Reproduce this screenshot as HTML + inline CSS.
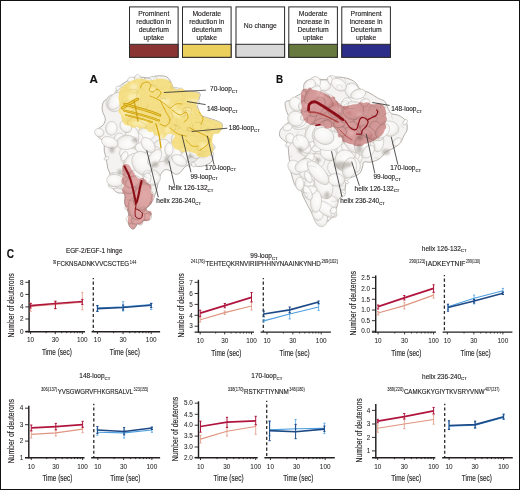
<!DOCTYPE html>
<html><head><meta charset="utf-8"><style>
html,body{margin:0;padding:0;background:#fff;}
svg{display:block;}
text{font-family:"Liberation Sans", sans-serif;stroke:#231f20;stroke-width:0.14px;}
text.tk{stroke-width:0.05px;}
text.sp{stroke-width:0.08px;}
</style></head><body>
<svg width="520" height="490" viewBox="0 0 520 490">
<rect x="0" y="0" width="520" height="490" fill="#fff"/>
<defs>
<filter id="b03" x="-20%" y="-20%" width="140%" height="140%"><feGaussianBlur stdDeviation="0.3"/></filter>
<filter id="b05" x="-20%" y="-20%" width="140%" height="140%"><feGaussianBlur stdDeviation="0.5"/></filter>
<filter id="b08" x="-20%" y="-20%" width="140%" height="140%"><feGaussianBlur stdDeviation="0.8"/></filter>
<filter id="b12" x="-50%" y="-50%" width="200%" height="200%"><feGaussianBlur stdDeviation="1.2"/></filter>
</defs>
<radialGradient id="sg" cx="0.42" cy="0.4" r="0.62">
<stop offset="0" stop-color="#fdfdfd"/><stop offset="0.7" stop-color="#f5f4f2"/><stop offset="1" stop-color="#e2dfdb"/>
</radialGradient>
<g filter="url(#b03)"><path d="M119.40,86.70 C120.95,84.65 123.18,83.43 125.90,81.80 C128.62,80.17 131.90,77.55 135.70,76.90 C139.50,76.25 145.17,78.07 148.70,77.90 C152.23,77.73 153.90,76.07 156.90,75.90 C159.90,75.73 164.25,75.65 166.70,76.90 C169.15,78.15 170.38,81.55 171.60,83.40 C172.82,85.25 171.93,86.82 174.00,88.00 C176.07,89.18 180.67,89.92 184.00,90.50 C187.33,91.08 191.33,91.00 194.00,91.50 C196.67,92.00 199.17,92.25 200.00,93.50 C200.83,94.75 199.50,97.08 199.00,99.00 C198.50,100.92 197.00,103.00 197.00,105.00 C197.00,107.00 198.88,109.43 199.00,111.00 C199.12,112.57 196.28,113.28 197.70,114.40 C199.12,115.52 204.23,116.60 207.50,117.70 C210.77,118.80 214.85,119.92 217.30,121.00 C219.75,122.08 221.67,122.58 222.20,124.20 C222.73,125.82 222.13,129.07 220.50,130.70 C218.87,132.33 214.02,132.08 212.40,134.00 C210.78,135.92 210.80,139.48 210.80,142.20 C210.80,144.92 212.15,147.27 212.40,150.30 C212.65,153.33 213.33,157.95 212.30,160.40 C211.27,162.85 208.50,163.98 206.20,165.00 C203.90,166.02 200.82,166.50 198.50,166.50 C196.18,166.50 194.38,165.08 192.30,165.00 C190.22,164.92 188.05,164.72 186.00,166.00 C183.95,167.28 181.77,171.33 180.00,172.70 C178.23,174.07 176.93,174.45 175.40,174.20 C173.87,173.95 172.33,171.97 170.80,171.20 C169.27,170.43 167.50,169.60 166.20,169.60 C164.90,169.60 164.03,170.17 163.00,171.20 C161.97,172.23 160.75,174.27 160.00,175.80 C159.25,177.33 158.92,178.70 158.50,180.40 C158.08,182.10 157.92,184.07 157.50,186.00 C157.08,187.93 156.73,189.80 156.00,192.00 C155.27,194.20 154.02,197.12 153.10,199.20 C152.18,201.28 151.60,202.95 150.50,204.50 C149.40,206.05 146.95,207.38 146.50,208.50 C146.05,209.62 147.03,210.32 147.80,211.20 C148.57,212.08 150.77,212.70 151.10,213.80 C151.43,214.90 150.78,216.68 149.80,217.80 C148.82,218.92 147.08,219.62 145.20,220.50 C143.32,221.38 140.28,221.78 138.50,223.10 C136.72,224.42 135.60,227.45 134.50,228.40 C133.40,229.35 132.78,229.23 131.90,228.80 C131.02,228.37 129.87,227.18 129.20,225.80 C128.53,224.42 128.00,222.50 127.90,220.50 C127.80,218.50 128.82,215.80 128.60,213.80 C128.38,211.80 127.27,210.27 126.60,208.50 C125.93,206.73 124.93,205.62 124.60,203.20 C124.27,200.78 125.82,195.77 124.60,194.00 C123.38,192.23 119.40,193.72 117.30,192.60 C115.20,191.48 113.33,189.30 112.00,187.30 C110.67,185.30 109.63,182.82 109.30,180.60 C108.97,178.38 110.27,176.10 110.00,174.00 C109.73,171.90 108.30,170.43 107.70,168.00 C107.10,165.57 106.97,162.20 106.40,159.40 C105.83,156.60 104.65,153.58 104.30,151.20 C103.95,148.82 104.47,146.80 104.30,145.10 C104.13,143.40 104.32,142.37 103.30,141.00 C102.28,139.63 99.38,138.25 98.20,136.90 C97.02,135.55 96.20,134.25 96.20,132.90 C96.20,131.55 97.02,130.17 98.20,128.80 C99.38,127.43 102.12,126.40 103.30,124.70 C104.48,123.00 105.47,120.98 105.30,118.60 C105.13,116.22 102.63,113.13 102.30,110.40 C101.97,107.67 102.28,104.23 103.30,102.20 C104.32,100.17 106.18,99.55 108.40,98.20 C110.62,96.85 114.77,96.02 116.60,94.10 C118.43,92.18 117.85,88.75 119.40,86.70Z" fill="#f4f3f1" stroke="#aaa6a0" stroke-width="0.9"/><ellipse cx="174.7" cy="96.8" rx="9.7" ry="9.5" transform="rotate(150 174.7 96.8)" fill="url(#sg)" stroke="#c0bcb6" stroke-width="0.55"/><ellipse cx="145.1" cy="161.3" rx="6.7" ry="3.9" transform="rotate(64 145.1 161.3)" fill="url(#sg)" stroke="#c0bcb6" stroke-width="0.55"/><ellipse cx="118.3" cy="95.5" rx="5.5" ry="3.4" transform="rotate(68 118.3 95.5)" fill="url(#sg)" stroke="#c0bcb6" stroke-width="0.55"/><ellipse cx="127.8" cy="178.1" rx="5.4" ry="3.3" transform="rotate(44 127.8 178.1)" fill="url(#sg)" stroke="#c0bcb6" stroke-width="0.55"/><ellipse cx="179.8" cy="108.7" rx="5.5" ry="5.8" transform="rotate(36 179.8 108.7)" fill="url(#sg)" stroke="#c0bcb6" stroke-width="0.55"/><ellipse cx="161.3" cy="150.5" rx="11.8" ry="10.1" transform="rotate(117 161.3 150.5)" fill="url(#sg)" stroke="#c0bcb6" stroke-width="0.55"/><ellipse cx="165.5" cy="95.4" rx="8.8" ry="7.7" transform="rotate(20 165.5 95.4)" fill="url(#sg)" stroke="#c0bcb6" stroke-width="0.55"/><ellipse cx="155.2" cy="121.7" rx="6.5" ry="4.7" transform="rotate(22 155.2 121.7)" fill="url(#sg)" stroke="#c0bcb6" stroke-width="0.55"/><ellipse cx="152.7" cy="81.7" rx="5.4" ry="5.3" transform="rotate(120 152.7 81.7)" fill="url(#sg)" stroke="#c0bcb6" stroke-width="0.55"/><ellipse cx="186.2" cy="153.9" rx="12.2" ry="7.0" transform="rotate(26 186.2 153.9)" fill="url(#sg)" stroke="#c0bcb6" stroke-width="0.55"/><ellipse cx="145.9" cy="133.9" rx="9.2" ry="6.6" transform="rotate(176 145.9 133.9)" fill="url(#sg)" stroke="#c0bcb6" stroke-width="0.55"/><ellipse cx="111.2" cy="98.4" rx="3.9" ry="3.2" transform="rotate(153 111.2 98.4)" fill="url(#sg)" stroke="#c0bcb6" stroke-width="0.55"/><ellipse cx="151.5" cy="177.8" rx="5.6" ry="3.9" transform="rotate(25 151.5 177.8)" fill="url(#sg)" stroke="#c0bcb6" stroke-width="0.55"/><ellipse cx="132.5" cy="157.1" rx="14.2" ry="8.3" transform="rotate(29 132.5 157.1)" fill="url(#sg)" stroke="#c0bcb6" stroke-width="0.55"/><ellipse cx="133.6" cy="82.1" rx="6.6" ry="4.2" transform="rotate(35 133.6 82.1)" fill="url(#sg)" stroke="#c0bcb6" stroke-width="0.55"/><ellipse cx="169.4" cy="105.7" rx="14.6" ry="6.7" transform="rotate(41 169.4 105.7)" fill="url(#sg)" stroke="#c0bcb6" stroke-width="0.55"/><ellipse cx="133.7" cy="111.9" rx="9.9" ry="8.3" transform="rotate(128 133.7 111.9)" fill="url(#sg)" stroke="#c0bcb6" stroke-width="0.55"/><ellipse cx="193.6" cy="164.7" rx="2.3" ry="1.9" transform="rotate(64 193.6 164.7)" fill="url(#sg)" stroke="#c0bcb6" stroke-width="0.55"/><ellipse cx="122.6" cy="91.9" rx="7.1" ry="6.4" transform="rotate(92 122.6 91.9)" fill="url(#sg)" stroke="#c0bcb6" stroke-width="0.55"/><ellipse cx="167.1" cy="119.8" rx="8.9" ry="7.4" transform="rotate(33 167.1 119.8)" fill="url(#sg)" stroke="#c0bcb6" stroke-width="0.55"/><ellipse cx="136.6" cy="140.2" rx="7.7" ry="6.8" transform="rotate(98 136.6 140.2)" fill="url(#sg)" stroke="#c0bcb6" stroke-width="0.55"/><ellipse cx="140.3" cy="84.7" rx="5.9" ry="4.9" transform="rotate(72 140.3 84.7)" fill="url(#sg)" stroke="#c0bcb6" stroke-width="0.55"/><ellipse cx="183.4" cy="116.6" rx="11.8" ry="6.4" transform="rotate(109 183.4 116.6)" fill="url(#sg)" stroke="#c0bcb6" stroke-width="0.55"/><ellipse cx="124.4" cy="156.3" rx="5.0" ry="3.2" transform="rotate(116 124.4 156.3)" fill="url(#sg)" stroke="#c0bcb6" stroke-width="0.55"/><ellipse cx="193.6" cy="147.0" rx="12.4" ry="8.4" transform="rotate(65 193.6 147.0)" fill="url(#sg)" stroke="#c0bcb6" stroke-width="0.55"/><ellipse cx="132.1" cy="136.7" rx="11.0" ry="6.8" transform="rotate(84 132.1 136.7)" fill="url(#sg)" stroke="#c0bcb6" stroke-width="0.55"/><ellipse cx="161.3" cy="119.5" rx="12.6" ry="6.6" transform="rotate(120 161.3 119.5)" fill="url(#sg)" stroke="#c0bcb6" stroke-width="0.55"/><ellipse cx="146.7" cy="84.2" rx="6.7" ry="5.9" transform="rotate(155 146.7 84.2)" fill="url(#sg)" stroke="#c0bcb6" stroke-width="0.55"/><ellipse cx="173.9" cy="97.8" rx="9.1" ry="8.9" transform="rotate(152 173.9 97.8)" fill="url(#sg)" stroke="#c0bcb6" stroke-width="0.55"/><ellipse cx="207.6" cy="127.5" rx="4.5" ry="3.1" transform="rotate(52 207.6 127.5)" fill="url(#sg)" stroke="#c0bcb6" stroke-width="0.55"/><ellipse cx="150.4" cy="122.4" rx="6.4" ry="4.9" transform="rotate(126 150.4 122.4)" fill="url(#sg)" stroke="#c0bcb6" stroke-width="0.55"/><ellipse cx="176.6" cy="150.5" rx="12.4" ry="6.8" transform="rotate(86 176.6 150.5)" fill="url(#sg)" stroke="#c0bcb6" stroke-width="0.55"/><ellipse cx="176.3" cy="112.0" rx="13.4" ry="6.8" transform="rotate(113 176.3 112.0)" fill="url(#sg)" stroke="#c0bcb6" stroke-width="0.55"/><ellipse cx="114.7" cy="185.0" rx="6.6" ry="3.5" transform="rotate(176 114.7 185.0)" fill="url(#sg)" stroke="#c0bcb6" stroke-width="0.55"/><ellipse cx="184.0" cy="149.9" rx="5.7" ry="3.4" transform="rotate(22 184.0 149.9)" fill="url(#sg)" stroke="#c0bcb6" stroke-width="0.55"/><ellipse cx="182.8" cy="131.6" rx="11.4" ry="5.8" transform="rotate(103 182.8 131.6)" fill="url(#sg)" stroke="#c0bcb6" stroke-width="0.55"/><ellipse cx="119.3" cy="139.3" rx="6.3" ry="5.3" transform="rotate(96 119.3 139.3)" fill="url(#sg)" stroke="#c0bcb6" stroke-width="0.55"/><ellipse cx="194.8" cy="102.3" rx="4.5" ry="4.2" transform="rotate(171 194.8 102.3)" fill="url(#sg)" stroke="#c0bcb6" stroke-width="0.55"/><ellipse cx="184.7" cy="156.7" rx="7.7" ry="4.5" transform="rotate(120 184.7 156.7)" fill="url(#sg)" stroke="#c0bcb6" stroke-width="0.55"/><ellipse cx="120.6" cy="89.5" rx="5.1" ry="2.8" transform="rotate(20 120.6 89.5)" fill="url(#sg)" stroke="#c0bcb6" stroke-width="0.55"/><ellipse cx="129.6" cy="112.4" rx="6.1" ry="4.4" transform="rotate(37 129.6 112.4)" fill="url(#sg)" stroke="#c0bcb6" stroke-width="0.55"/><ellipse cx="138.3" cy="219.2" rx="5.1" ry="3.4" transform="rotate(64 138.3 219.2)" fill="url(#sg)" stroke="#c0bcb6" stroke-width="0.55"/><ellipse cx="141.9" cy="175.7" rx="8.9" ry="7.1" transform="rotate(122 141.9 175.7)" fill="url(#sg)" stroke="#c0bcb6" stroke-width="0.55"/><ellipse cx="136.4" cy="163.6" rx="8.7" ry="4.3" transform="rotate(81 136.4 163.6)" fill="url(#sg)" stroke="#c0bcb6" stroke-width="0.55"/><ellipse cx="122.0" cy="93.1" rx="6.8" ry="5.1" transform="rotate(138 122.0 93.1)" fill="url(#sg)" stroke="#c0bcb6" stroke-width="0.55"/><ellipse cx="142.2" cy="185.5" rx="6.5" ry="5.2" transform="rotate(103 142.2 185.5)" fill="url(#sg)" stroke="#c0bcb6" stroke-width="0.55"/><ellipse cx="211.9" cy="154.1" rx="2.1" ry="1.5" transform="rotate(153 211.9 154.1)" fill="url(#sg)" stroke="#c0bcb6" stroke-width="0.55"/><ellipse cx="147.3" cy="216.9" rx="4.2" ry="3.4" transform="rotate(3 147.3 216.9)" fill="url(#sg)" stroke="#c0bcb6" stroke-width="0.55"/><ellipse cx="131.8" cy="162.9" rx="11.1" ry="7.3" transform="rotate(128 131.8 162.9)" fill="url(#sg)" stroke="#c0bcb6" stroke-width="0.55"/><ellipse cx="114.4" cy="181.7" rx="6.2" ry="3.8" transform="rotate(146 114.4 181.7)" fill="url(#sg)" stroke="#c0bcb6" stroke-width="0.55"/><ellipse cx="176.5" cy="137.7" rx="6.0" ry="4.6" transform="rotate(134 176.5 137.7)" fill="url(#sg)" stroke="#c0bcb6" stroke-width="0.55"/><ellipse cx="187.8" cy="117.1" rx="14.8" ry="8.1" transform="rotate(64 187.8 117.1)" fill="url(#sg)" stroke="#c0bcb6" stroke-width="0.55"/><ellipse cx="148.6" cy="153.7" rx="13.1" ry="7.9" transform="rotate(169 148.6 153.7)" fill="url(#sg)" stroke="#c0bcb6" stroke-width="0.55"/><ellipse cx="179.4" cy="160.4" rx="7.9" ry="5.1" transform="rotate(29 179.4 160.4)" fill="url(#sg)" stroke="#c0bcb6" stroke-width="0.55"/><ellipse cx="209.7" cy="124.7" rx="6.6" ry="3.2" transform="rotate(21 209.7 124.7)" fill="url(#sg)" stroke="#c0bcb6" stroke-width="0.55"/><ellipse cx="149.7" cy="197.1" rx="5.9" ry="4.3" transform="rotate(101 149.7 197.1)" fill="url(#sg)" stroke="#c0bcb6" stroke-width="0.55"/><ellipse cx="142.4" cy="148.0" rx="7.2" ry="5.4" transform="rotate(11 142.4 148.0)" fill="url(#sg)" stroke="#c0bcb6" stroke-width="0.55"/><ellipse cx="126.5" cy="142.4" rx="10.1" ry="7.1" transform="rotate(174 126.5 142.4)" fill="url(#sg)" stroke="#c0bcb6" stroke-width="0.55"/><ellipse cx="119.7" cy="181.0" rx="12.2" ry="7.2" transform="rotate(24 119.7 181.0)" fill="url(#sg)" stroke="#c0bcb6" stroke-width="0.55"/><ellipse cx="99.2" cy="132.6" rx="4.7" ry="4.1" transform="rotate(21 99.2 132.6)" fill="url(#sg)" stroke="#c0bcb6" stroke-width="0.55"/><ellipse cx="180.8" cy="89.9" rx="2.0" ry="1.9" transform="rotate(68 180.8 89.9)" fill="url(#sg)" stroke="#c0bcb6" stroke-width="0.55"/><ellipse cx="128.4" cy="185.4" rx="8.5" ry="7.5" transform="rotate(74 128.4 185.4)" fill="url(#sg)" stroke="#c0bcb6" stroke-width="0.55"/><ellipse cx="138.1" cy="80.9" rx="6.5" ry="3.6" transform="rotate(83 138.1 80.9)" fill="url(#sg)" stroke="#c0bcb6" stroke-width="0.55"/><ellipse cx="111.4" cy="128.3" rx="6.9" ry="5.8" transform="rotate(99 111.4 128.3)" fill="url(#sg)" stroke="#c0bcb6" stroke-width="0.55"/><ellipse cx="196.8" cy="127.7" rx="11.2" ry="7.3" transform="rotate(51 196.8 127.7)" fill="url(#sg)" stroke="#c0bcb6" stroke-width="0.55"/><ellipse cx="136.8" cy="99.5" rx="6.3" ry="4.5" transform="rotate(94 136.8 99.5)" fill="url(#sg)" stroke="#c0bcb6" stroke-width="0.55"/><ellipse cx="134.6" cy="97.4" rx="5.9" ry="5.2" transform="rotate(177 134.6 97.4)" fill="url(#sg)" stroke="#c0bcb6" stroke-width="0.55"/><ellipse cx="125.8" cy="126.5" rx="6.6" ry="5.4" transform="rotate(52 125.8 126.5)" fill="url(#sg)" stroke="#c0bcb6" stroke-width="0.55"/><ellipse cx="113.9" cy="103.2" rx="8.5" ry="7.9" transform="rotate(86 113.9 103.2)" fill="url(#sg)" stroke="#c0bcb6" stroke-width="0.55"/><ellipse cx="197.5" cy="112.4" rx="2.7" ry="2.3" transform="rotate(86 197.5 112.4)" fill="url(#sg)" stroke="#c0bcb6" stroke-width="0.55"/><ellipse cx="189.6" cy="165.2" rx="1.8" ry="1.4" transform="rotate(143 189.6 165.2)" fill="url(#sg)" stroke="#c0bcb6" stroke-width="0.55"/><ellipse cx="136.3" cy="179.2" rx="9.5" ry="6.7" transform="rotate(70 136.3 179.2)" fill="url(#sg)" stroke="#c0bcb6" stroke-width="0.55"/><ellipse cx="132.6" cy="181.8" rx="8.2" ry="5.4" transform="rotate(154 132.6 181.8)" fill="url(#sg)" stroke="#c0bcb6" stroke-width="0.55"/><ellipse cx="204.1" cy="146.1" rx="11.2" ry="5.3" transform="rotate(8 204.1 146.1)" fill="url(#sg)" stroke="#c0bcb6" stroke-width="0.55"/><ellipse cx="152.6" cy="177.6" rx="7.9" ry="7.7" transform="rotate(32 152.6 177.6)" fill="url(#sg)" stroke="#c0bcb6" stroke-width="0.55"/><ellipse cx="142.3" cy="163.3" rx="12.4" ry="9.9" transform="rotate(61 142.3 163.3)" fill="url(#sg)" stroke="#c0bcb6" stroke-width="0.55"/><ellipse cx="154.7" cy="157.7" rx="9.4" ry="5.5" transform="rotate(126 154.7 157.7)" fill="url(#sg)" stroke="#c0bcb6" stroke-width="0.55"/><ellipse cx="126.8" cy="96.8" rx="10.2" ry="6.8" transform="rotate(176 126.8 96.8)" fill="url(#sg)" stroke="#c0bcb6" stroke-width="0.55"/><ellipse cx="127.2" cy="207.8" rx="2.5" ry="1.8" transform="rotate(170 127.2 207.8)" fill="url(#sg)" stroke="#c0bcb6" stroke-width="0.55"/><ellipse cx="125.5" cy="105.3" rx="6.9" ry="3.6" transform="rotate(134 125.5 105.3)" fill="url(#sg)" stroke="#c0bcb6" stroke-width="0.55"/><ellipse cx="148.1" cy="145.0" rx="8.7" ry="5.6" transform="rotate(49 148.1 145.0)" fill="url(#sg)" stroke="#c0bcb6" stroke-width="0.55"/><ellipse cx="139.8" cy="220.6" rx="4.8" ry="2.6" transform="rotate(76 139.8 220.6)" fill="url(#sg)" stroke="#c0bcb6" stroke-width="0.55"/><ellipse cx="132.2" cy="219.4" rx="6.1" ry="4.5" transform="rotate(3 132.2 219.4)" fill="url(#sg)" stroke="#c0bcb6" stroke-width="0.55"/><ellipse cx="147.2" cy="178.2" rx="5.3" ry="3.9" transform="rotate(101 147.2 178.2)" fill="url(#sg)" stroke="#c0bcb6" stroke-width="0.55"/><ellipse cx="143.0" cy="206.5" rx="5.3" ry="4.1" transform="rotate(127 143.0 206.5)" fill="url(#sg)" stroke="#c0bcb6" stroke-width="0.55"/><ellipse cx="138.2" cy="218.3" rx="7.6" ry="5.0" transform="rotate(147 138.2 218.3)" fill="url(#sg)" stroke="#c0bcb6" stroke-width="0.55"/><ellipse cx="115.2" cy="101.0" rx="9.5" ry="6.3" transform="rotate(126 115.2 101.0)" fill="url(#sg)" stroke="#c0bcb6" stroke-width="0.55"/><ellipse cx="209.3" cy="147.7" rx="4.0" ry="3.2" transform="rotate(158 209.3 147.7)" fill="url(#sg)" stroke="#c0bcb6" stroke-width="0.55"/><ellipse cx="106.4" cy="158.3" rx="2.6" ry="1.5" transform="rotate(156 106.4 158.3)" fill="url(#sg)" stroke="#c0bcb6" stroke-width="0.55"/><ellipse cx="135.4" cy="208.9" rx="11.2" ry="7.0" transform="rotate(77 135.4 208.9)" fill="url(#sg)" stroke="#c0bcb6" stroke-width="0.55"/><ellipse cx="168.9" cy="149.4" rx="6.7" ry="4.2" transform="rotate(95 168.9 149.4)" fill="url(#sg)" stroke="#c0bcb6" stroke-width="0.55"/><ellipse cx="183.9" cy="119.6" rx="11.7" ry="7.6" transform="rotate(86 183.9 119.6)" fill="url(#sg)" stroke="#c0bcb6" stroke-width="0.55"/><ellipse cx="115.2" cy="180.6" rx="8.6" ry="6.2" transform="rotate(6 115.2 180.6)" fill="url(#sg)" stroke="#c0bcb6" stroke-width="0.55"/><ellipse cx="142.7" cy="197.0" rx="13.5" ry="9.1" transform="rotate(105 142.7 197.0)" fill="url(#sg)" stroke="#c0bcb6" stroke-width="0.55"/><ellipse cx="109.8" cy="142.5" rx="8.6" ry="5.5" transform="rotate(21 109.8 142.5)" fill="url(#sg)" stroke="#c0bcb6" stroke-width="0.55"/></g><clipPath id="cp101"><path d="M119.40,86.70 C120.95,84.65 123.18,83.43 125.90,81.80 C128.62,80.17 131.90,77.55 135.70,76.90 C139.50,76.25 145.17,78.07 148.70,77.90 C152.23,77.73 153.90,76.07 156.90,75.90 C159.90,75.73 164.25,75.65 166.70,76.90 C169.15,78.15 170.38,81.55 171.60,83.40 C172.82,85.25 171.93,86.82 174.00,88.00 C176.07,89.18 180.67,89.92 184.00,90.50 C187.33,91.08 191.33,91.00 194.00,91.50 C196.67,92.00 199.17,92.25 200.00,93.50 C200.83,94.75 199.50,97.08 199.00,99.00 C198.50,100.92 197.00,103.00 197.00,105.00 C197.00,107.00 198.88,109.43 199.00,111.00 C199.12,112.57 196.28,113.28 197.70,114.40 C199.12,115.52 204.23,116.60 207.50,117.70 C210.77,118.80 214.85,119.92 217.30,121.00 C219.75,122.08 221.67,122.58 222.20,124.20 C222.73,125.82 222.13,129.07 220.50,130.70 C218.87,132.33 214.02,132.08 212.40,134.00 C210.78,135.92 210.80,139.48 210.80,142.20 C210.80,144.92 212.15,147.27 212.40,150.30 C212.65,153.33 213.33,157.95 212.30,160.40 C211.27,162.85 208.50,163.98 206.20,165.00 C203.90,166.02 200.82,166.50 198.50,166.50 C196.18,166.50 194.38,165.08 192.30,165.00 C190.22,164.92 188.05,164.72 186.00,166.00 C183.95,167.28 181.77,171.33 180.00,172.70 C178.23,174.07 176.93,174.45 175.40,174.20 C173.87,173.95 172.33,171.97 170.80,171.20 C169.27,170.43 167.50,169.60 166.20,169.60 C164.90,169.60 164.03,170.17 163.00,171.20 C161.97,172.23 160.75,174.27 160.00,175.80 C159.25,177.33 158.92,178.70 158.50,180.40 C158.08,182.10 157.92,184.07 157.50,186.00 C157.08,187.93 156.73,189.80 156.00,192.00 C155.27,194.20 154.02,197.12 153.10,199.20 C152.18,201.28 151.60,202.95 150.50,204.50 C149.40,206.05 146.95,207.38 146.50,208.50 C146.05,209.62 147.03,210.32 147.80,211.20 C148.57,212.08 150.77,212.70 151.10,213.80 C151.43,214.90 150.78,216.68 149.80,217.80 C148.82,218.92 147.08,219.62 145.20,220.50 C143.32,221.38 140.28,221.78 138.50,223.10 C136.72,224.42 135.60,227.45 134.50,228.40 C133.40,229.35 132.78,229.23 131.90,228.80 C131.02,228.37 129.87,227.18 129.20,225.80 C128.53,224.42 128.00,222.50 127.90,220.50 C127.80,218.50 128.82,215.80 128.60,213.80 C128.38,211.80 127.27,210.27 126.60,208.50 C125.93,206.73 124.93,205.62 124.60,203.20 C124.27,200.78 125.82,195.77 124.60,194.00 C123.38,192.23 119.40,193.72 117.30,192.60 C115.20,191.48 113.33,189.30 112.00,187.30 C110.67,185.30 109.63,182.82 109.30,180.60 C108.97,178.38 110.27,176.10 110.00,174.00 C109.73,171.90 108.30,170.43 107.70,168.00 C107.10,165.57 106.97,162.20 106.40,159.40 C105.83,156.60 104.65,153.58 104.30,151.20 C103.95,148.82 104.47,146.80 104.30,145.10 C104.13,143.40 104.32,142.37 103.30,141.00 C102.28,139.63 99.38,138.25 98.20,136.90 C97.02,135.55 96.20,134.25 96.20,132.90 C96.20,131.55 97.02,130.17 98.20,128.80 C99.38,127.43 102.12,126.40 103.30,124.70 C104.48,123.00 105.47,120.98 105.30,118.60 C105.13,116.22 102.63,113.13 102.30,110.40 C101.97,107.67 102.28,104.23 103.30,102.20 C104.32,100.17 106.18,99.55 108.40,98.20 C110.62,96.85 114.77,96.02 116.60,94.10 C118.43,92.18 117.85,88.75 119.40,86.70Z"/></clipPath><g clip-path="url(#cp101)"><g filter="url(#b03)"><path d="M117.43,201.14 C116.99,201.58 115.43,203.06 114.83,203.78 C114.22,204.49 114.57,205.56 113.81,205.42 C113.06,205.29 111.37,203.59 110.28,202.97 C109.19,202.35 107.56,202.58 107.28,201.70 C107.01,200.82 107.63,198.76 108.63,197.68 C109.63,196.61 111.96,195.52 113.28,195.27 C114.60,195.02 116.01,196.02 116.55,196.17" fill="none" stroke="#9c9892" stroke-width="0.6" opacity="0.4"/><path d="M186.11,204.33 C185.96,203.85 185.88,202.27 185.25,201.47 C184.62,200.67 182.03,200.27 182.33,199.54 C182.63,198.80 186.25,197.48 187.04,197.07" fill="none" stroke="#9c9892" stroke-width="0.6" opacity="0.4"/><path d="M182.79,186.84 C183.12,186.86 184.30,186.82 184.78,186.97 C185.25,187.12 185.62,187.37 185.62,187.74 C185.61,188.11 184.89,188.94 184.75,189.18" fill="none" stroke="#9c9892" stroke-width="0.6" opacity="0.4"/><path d="M134.83,79.29 C135.29,79.06 136.13,78.33 137.57,77.88 C139.02,77.42 142.28,76.27 143.49,76.56 C144.70,76.86 144.62,79.14 144.85,79.65" fill="none" stroke="#9c9892" stroke-width="0.6" opacity="0.4"/><path d="M152.23,77.03 C152.49,77.38 154.32,77.94 153.81,79.12 C153.30,80.30 150.47,83.13 149.18,84.11 C147.88,85.08 147.14,85.06 146.01,84.95 C144.88,84.84 143.14,84.29 142.39,83.43 C141.64,82.56 141.66,80.37 141.51,79.76" fill="none" stroke="#9c9892" stroke-width="0.6" opacity="0.4"/><path d="M150.24,224.46 C150.55,224.76 151.42,225.64 152.11,226.28 C152.80,226.92 154.32,227.58 154.37,228.28 C154.41,228.98 153.26,230.18 152.40,230.49 C151.54,230.80 150.36,230.54 149.18,230.13 C148.00,229.73 145.97,228.42 145.33,228.08" fill="none" stroke="#9c9892" stroke-width="0.6" opacity="0.4"/><path d="M186.13,107.99 C185.75,107.72 184.45,106.95 183.84,106.37 C183.24,105.79 182.71,104.83 182.49,104.52" fill="none" stroke="#9c9892" stroke-width="0.6" opacity="0.4"/><path d="M175.46,121.05 C175.48,120.01 174.70,115.91 175.57,114.79 C176.45,113.68 179.83,114.43 180.69,114.35" fill="none" stroke="#9c9892" stroke-width="0.6" opacity="0.4"/><path d="M219.67,202.32 C219.36,201.99 217.55,201.06 217.83,200.35 C218.12,199.64 220.50,198.19 221.38,198.06 C222.27,197.94 222.56,198.95 223.15,199.61 C223.74,200.27 224.98,201.44 224.92,202.03 C224.86,202.63 223.15,202.99 222.79,203.18" fill="none" stroke="#9c9892" stroke-width="0.6" opacity="0.4"/><path d="M218.19,165.69 C217.99,164.90 217.02,162.12 216.96,160.97 C216.90,159.82 217.70,159.14 217.84,158.77" fill="none" stroke="#9c9892" stroke-width="0.6" opacity="0.4"/><path d="M148.55,178.03 C147.74,177.69 144.47,176.89 143.69,175.97 C142.91,175.05 143.38,173.47 143.87,172.50 C144.36,171.53 145.05,170.25 146.64,170.15 C148.24,170.04 152.01,171.01 153.44,171.85 C154.87,172.70 154.93,174.65 155.23,175.22" fill="none" stroke="#9c9892" stroke-width="0.6" opacity="0.4"/><path d="M135.34,199.02 C135.29,199.34 135.68,200.68 135.07,200.96 C134.46,201.24 132.99,200.92 131.70,200.70 C130.41,200.49 128.04,199.86 127.30,199.69" fill="none" stroke="#9c9892" stroke-width="0.6" opacity="0.4"/><path d="M181.67,136.14 C182.08,135.71 183.26,133.37 184.11,133.61 C184.96,133.85 186.68,136.62 186.79,137.57 C186.90,138.53 185.08,139.04 184.74,139.34" fill="none" stroke="#9c9892" stroke-width="0.6" opacity="0.4"/><path d="M207.58,199.93 C207.84,200.28 208.93,201.30 209.16,202.03 C209.39,202.75 209.84,203.97 208.95,204.27 C208.05,204.56 204.64,203.86 203.78,203.78" fill="none" stroke="#9c9892" stroke-width="0.6" opacity="0.4"/><path d="M189.69,186.21 C190.30,186.54 193.05,187.42 193.34,188.18 C193.63,188.94 192.28,190.21 191.45,190.77 C190.61,191.33 189.35,191.72 188.34,191.53 C187.32,191.33 186.05,190.15 185.36,189.59 C184.68,189.04 184.43,188.45 184.24,188.22" fill="none" stroke="#9c9892" stroke-width="0.6" opacity="0.4"/><path d="M201.18,169.20 C201.27,168.93 201.14,167.87 201.72,167.57 C202.30,167.28 203.89,167.23 204.66,167.43 C205.43,167.64 205.82,168.49 206.35,168.79 C206.89,169.09 207.88,168.81 207.86,169.25 C207.85,169.68 206.53,171.04 206.26,171.40" fill="none" stroke="#9c9892" stroke-width="0.6" opacity="0.4"/><path d="M118.71,224.31 C118.57,223.62 117.05,220.82 117.84,220.15 C118.63,219.47 122.50,220.22 123.43,220.23" fill="none" stroke="#9c9892" stroke-width="0.6" opacity="0.4"/><path d="M209.88,88.08 C209.45,87.97 208.13,87.61 207.28,87.41 C206.42,87.22 204.89,87.38 204.74,86.91 C204.60,86.45 206.03,85.20 206.43,84.62 C206.82,84.05 206.99,83.66 207.11,83.47" fill="none" stroke="#9c9892" stroke-width="0.6" opacity="0.4"/><path d="M141.00,212.05 C140.71,211.56 139.27,209.80 139.29,209.10 C139.31,208.40 140.25,208.22 141.13,207.83 C142.00,207.44 143.88,206.46 144.53,206.76 C145.18,207.05 145.09,208.77 145.05,209.61 C145.00,210.44 144.38,211.39 144.25,211.75" fill="none" stroke="#9c9892" stroke-width="0.6" opacity="0.4"/><path d="M164.19,171.84 C163.86,172.46 163.02,174.83 162.22,175.55 C161.42,176.27 160.38,176.89 159.39,176.16 C158.40,175.44 156.81,172.04 156.29,171.21" fill="none" stroke="#9c9892" stroke-width="0.6" opacity="0.4"/><path d="M117.13,209.38 C116.76,209.46 115.26,210.38 114.86,209.86 C114.47,209.35 114.79,206.88 114.77,206.28" fill="none" stroke="#9c9892" stroke-width="0.6" opacity="0.4"/><path d="M108.67,174.78 C108.96,174.61 109.75,174.15 110.38,173.75 C111.00,173.35 111.92,172.38 112.42,172.37 C112.93,172.36 113.18,173.22 113.41,173.67 C113.64,174.12 113.76,174.83 113.83,175.07" fill="none" stroke="#9c9892" stroke-width="0.6" opacity="0.4"/><path d="M193.15,94.97 C193.35,95.14 194.30,95.58 194.36,95.99 C194.42,96.40 193.98,97.13 193.53,97.43 C193.07,97.73 192.10,97.75 191.63,97.79 C191.16,97.82 191.15,97.92 190.69,97.62 C190.24,97.33 189.10,96.51 188.89,96.02 C188.69,95.53 189.37,94.90 189.46,94.68" fill="none" stroke="#9c9892" stroke-width="0.6" opacity="0.4"/><path d="M126.23,162.14 C125.64,162.26 123.66,163.14 122.71,162.87 C121.76,162.61 120.88,160.93 120.51,160.54" fill="none" stroke="#9c9892" stroke-width="0.6" opacity="0.4"/><path d="M165.62,219.01 C166.05,219.43 168.16,220.83 168.19,221.52 C168.22,222.22 167.12,222.56 165.80,223.18 C164.48,223.80 161.38,225.13 160.29,225.24 C159.20,225.36 159.44,225.14 159.27,223.90 C159.09,222.65 158.52,219.13 159.26,217.78 C160.01,216.43 162.99,216.15 163.73,215.82" fill="none" stroke="#9c9892" stroke-width="0.6" opacity="0.4"/><path d="M102.80,167.05 C102.72,166.66 102.23,165.23 102.33,164.69 C102.43,164.16 103.22,163.99 103.39,163.85" fill="none" stroke="#9c9892" stroke-width="0.6" opacity="0.4"/><path d="M106.31,161.29 C106.00,161.51 105.16,162.61 104.47,162.65 C103.77,162.68 102.67,162.31 102.13,161.51 C101.59,160.70 101.36,158.43 101.21,157.81" fill="none" stroke="#9c9892" stroke-width="0.6" opacity="0.4"/><path d="M179.85,229.32 C179.12,229.25 176.55,229.33 175.45,228.91 C174.35,228.49 173.78,227.50 173.24,226.82 C172.71,226.14 172.41,225.15 172.25,224.82" fill="none" stroke="#9c9892" stroke-width="0.6" opacity="0.4"/><path d="M98.93,164.27 C99.37,163.99 100.41,162.73 101.58,162.60 C102.75,162.46 105.07,162.77 105.96,163.46 C106.85,164.15 107.35,165.91 106.92,166.72 C106.48,167.53 104.17,167.91 103.35,168.31 C102.53,168.72 102.22,169.02 101.99,169.16" fill="none" stroke="#9c9892" stroke-width="0.6" opacity="0.4"/><path d="M220.37,83.70 C219.95,83.99 218.79,85.04 217.85,85.40 C216.91,85.76 215.49,86.07 214.75,85.85 C214.01,85.64 213.61,84.93 213.41,84.10 C213.21,83.28 213.54,81.45 213.57,80.92" fill="none" stroke="#9c9892" stroke-width="0.6" opacity="0.4"/></g></g>
<g filter="url(#b12)" opacity="0.55"><ellipse cx="155" cy="164.5" rx="3.5" ry="3" fill="#9d978f"/><ellipse cx="167" cy="160" rx="2.5" ry="4.5" fill="#9d978f"/><ellipse cx="190" cy="156.5" rx="3" ry="2" fill="#9d978f"/><ellipse cx="203" cy="154.5" rx="3.5" ry="3" fill="#9d978f"/><ellipse cx="135" cy="140" rx="3" ry="2.5" fill="#9d978f"/><ellipse cx="112" cy="150" rx="2.5" ry="3" fill="#9d978f"/><ellipse cx="120" cy="172" rx="2.5" ry="3" fill="#9d978f"/></g>
<g opacity="0.88" filter="url(#b03)"><path d="M121.00,88.30 C122.75,86.13 126.20,83.43 129.20,81.80 C132.20,80.17 135.47,78.77 139.00,78.50 C142.53,78.23 146.87,80.20 150.40,80.20 C153.93,80.20 157.22,78.50 160.20,78.50 C163.18,78.50 166.33,79.28 168.30,80.20 C170.27,81.12 171.05,82.62 172.00,84.00 C172.95,85.38 172.00,87.33 174.00,88.50 C176.00,89.67 180.67,90.42 184.00,91.00 C187.33,91.58 191.42,91.50 194.00,92.00 C196.58,92.50 198.75,92.83 199.50,94.00 C200.25,95.17 199.00,97.17 198.50,99.00 C198.00,100.83 196.50,103.00 196.50,105.00 C196.50,107.00 197.75,109.15 198.50,111.00 C199.25,112.85 198.95,114.72 201.00,116.10 C203.05,117.48 207.55,118.22 210.80,119.30 C214.05,120.38 218.60,120.97 220.50,122.60 C222.40,124.23 223.28,127.20 222.20,129.10 C221.12,131.00 215.63,131.82 214.00,134.00 C212.37,136.18 212.50,139.48 212.40,142.20 C212.30,144.92 214.22,147.85 213.40,150.30 C212.58,152.75 209.85,156.08 207.50,156.90 C205.15,157.72 202.02,156.02 199.30,155.20 C196.58,154.38 194.18,152.82 191.20,152.00 C188.22,151.18 184.12,150.85 181.40,150.30 C178.68,149.75 176.53,150.05 174.90,148.70 C173.27,147.35 171.60,144.38 171.60,142.20 C171.60,140.02 175.45,136.97 174.90,135.60 C174.35,134.23 170.22,133.45 168.30,134.00 C166.38,134.55 165.03,138.63 163.40,138.90 C161.77,139.17 160.40,136.97 158.50,135.60 C156.60,134.23 154.72,132.05 152.00,130.70 C149.28,129.35 145.47,128.30 142.20,127.50 C138.93,126.70 135.38,126.45 132.40,125.90 C129.42,125.35 126.20,125.83 124.30,124.20 C122.40,122.57 121.82,119.37 121.00,116.10 C120.18,112.83 119.78,108.15 119.40,104.60 C119.02,101.05 118.43,97.52 118.70,94.80 C118.97,92.08 119.25,90.47 121.00,88.30Z" fill="#f5dd78"/><circle cx="168.1" cy="93.3" r="5.0" fill="#f5dd78"/><circle cx="121.7" cy="98.1" r="3.3" fill="#f5dd78"/><circle cx="159.8" cy="105.3" r="4.7" fill="#f5dd78"/><circle cx="184.9" cy="126.7" r="4.9" fill="#f5dd78"/><circle cx="150.8" cy="128.2" r="3.8" fill="#f5dd78"/><circle cx="168.4" cy="106.2" r="5.3" fill="#f5dd78"/><circle cx="157.8" cy="83.3" r="2.9" fill="#f5dd78"/><circle cx="126.2" cy="91.4" r="2.8" fill="#f5dd78"/><circle cx="171.9" cy="111.0" r="5.8" fill="#f5dd78"/><circle cx="135.3" cy="106.6" r="3.6" fill="#f5dd78"/><circle cx="195.1" cy="114.4" r="5.8" fill="#f5dd78"/><circle cx="181.1" cy="92.6" r="4.0" fill="#f5dd78"/><circle cx="183.6" cy="149.2" r="3.3" fill="#f5dd78"/><circle cx="166.1" cy="111.0" r="3.7" fill="#f5dd78"/><circle cx="216.6" cy="129.9" r="3.9" fill="#f5dd78"/><circle cx="209.0" cy="147.9" r="4.1" fill="#f5dd78"/><circle cx="146.6" cy="124.5" r="5.0" fill="#f5dd78"/><circle cx="203.2" cy="140.8" r="5.1" fill="#f5dd78"/><circle cx="201.3" cy="143.1" r="4.8" fill="#f5dd78"/><circle cx="189.3" cy="96.9" r="2.8" fill="#f5dd78"/><circle cx="150.2" cy="104.1" r="4.5" fill="#f5dd78"/><circle cx="140.6" cy="90.5" r="4.6" fill="#f5dd78"/><circle cx="165.4" cy="101.0" r="5.7" fill="#f5dd78"/><circle cx="187.9" cy="98.5" r="5.9" fill="#f5dd78"/><circle cx="140.3" cy="127.0" r="2.0" fill="#f5dd78"/><circle cx="169.8" cy="114.5" r="3.3" fill="#f5dd78"/><circle cx="186.0" cy="144.4" r="4.8" fill="#f5dd78"/><circle cx="173.9" cy="108.9" r="4.6" fill="#f5dd78"/><circle cx="150.0" cy="88.5" r="3.1" fill="#f5dd78"/><circle cx="168.3" cy="115.9" r="4.3" fill="#f5dd78"/><circle cx="138.1" cy="94.5" r="5.3" fill="#f5dd78"/><circle cx="135.7" cy="88.5" r="4.9" fill="#f5dd78"/><circle cx="171.7" cy="92.4" r="2.9" fill="#f5dd78"/><circle cx="213.8" cy="130.0" r="2.6" fill="#f5dd78"/><circle cx="180.4" cy="121.8" r="3.9" fill="#f5dd78"/><circle cx="128.6" cy="113.5" r="4.4" fill="#f5dd78"/><circle cx="149.8" cy="129.3" r="2.4" fill="#f5dd78"/><circle cx="130.2" cy="116.5" r="5.0" fill="#f5dd78"/><circle cx="177.5" cy="123.4" r="3.5" fill="#f5dd78"/><circle cx="158.4" cy="86.9" r="2.5" fill="#f5dd78"/><circle cx="174.1" cy="130.8" r="4.2" fill="#f5dd78"/><circle cx="205.4" cy="122.0" r="4.6" fill="#f5dd78"/><circle cx="200.3" cy="152.5" r="4.6" fill="#f5dd78"/><circle cx="186.1" cy="100.4" r="3.1" fill="#f5dd78"/><circle cx="158.0" cy="127.4" r="4.3" fill="#f5dd78"/><circle cx="151.4" cy="104.8" r="3.0" fill="#f5dd78"/><circle cx="179.1" cy="142.1" r="3.0" fill="#f5dd78"/><circle cx="157.3" cy="131.3" r="4.4" fill="#f5dd78"/><circle cx="164.4" cy="127.5" r="5.6" fill="#f5dd78"/><circle cx="136.8" cy="111.7" r="3.1" fill="#f5dd78"/><circle cx="133.7" cy="123.8" r="4.0" fill="#f5dd78"/><circle cx="143.5" cy="114.8" r="2.9" fill="#f5dd78"/><circle cx="202.8" cy="154.1" r="3.3" fill="#f5dd78"/><circle cx="142.9" cy="101.4" r="4.6" fill="#f5dd78"/><circle cx="150.3" cy="117.7" r="4.6" fill="#f5dd78"/><circle cx="121.6" cy="111.0" r="3.1" fill="#f5dd78"/><circle cx="160.4" cy="120.4" r="3.1" fill="#f5dd78"/><circle cx="134.3" cy="101.4" r="5.0" fill="#f5dd78"/><circle cx="140.3" cy="97.1" r="3.3" fill="#f5dd78"/><circle cx="180.7" cy="95.7" r="3.5" fill="#f5dd78"/></g>
<clipPath id="cAy"><path d="M121.00,88.30 C122.75,86.13 126.20,83.43 129.20,81.80 C132.20,80.17 135.47,78.77 139.00,78.50 C142.53,78.23 146.87,80.20 150.40,80.20 C153.93,80.20 157.22,78.50 160.20,78.50 C163.18,78.50 166.33,79.28 168.30,80.20 C170.27,81.12 171.05,82.62 172.00,84.00 C172.95,85.38 172.00,87.33 174.00,88.50 C176.00,89.67 180.67,90.42 184.00,91.00 C187.33,91.58 191.42,91.50 194.00,92.00 C196.58,92.50 198.75,92.83 199.50,94.00 C200.25,95.17 199.00,97.17 198.50,99.00 C198.00,100.83 196.50,103.00 196.50,105.00 C196.50,107.00 197.75,109.15 198.50,111.00 C199.25,112.85 198.95,114.72 201.00,116.10 C203.05,117.48 207.55,118.22 210.80,119.30 C214.05,120.38 218.60,120.97 220.50,122.60 C222.40,124.23 223.28,127.20 222.20,129.10 C221.12,131.00 215.63,131.82 214.00,134.00 C212.37,136.18 212.50,139.48 212.40,142.20 C212.30,144.92 214.22,147.85 213.40,150.30 C212.58,152.75 209.85,156.08 207.50,156.90 C205.15,157.72 202.02,156.02 199.30,155.20 C196.58,154.38 194.18,152.82 191.20,152.00 C188.22,151.18 184.12,150.85 181.40,150.30 C178.68,149.75 176.53,150.05 174.90,148.70 C173.27,147.35 171.60,144.38 171.60,142.20 C171.60,140.02 175.45,136.97 174.90,135.60 C174.35,134.23 170.22,133.45 168.30,134.00 C166.38,134.55 165.03,138.63 163.40,138.90 C161.77,139.17 160.40,136.97 158.50,135.60 C156.60,134.23 154.72,132.05 152.00,130.70 C149.28,129.35 145.47,128.30 142.20,127.50 C138.93,126.70 135.38,126.45 132.40,125.90 C129.42,125.35 126.20,125.83 124.30,124.20 C122.40,122.57 121.82,119.37 121.00,116.10 C120.18,112.83 119.78,108.15 119.40,104.60 C119.02,101.05 118.43,97.52 118.70,94.80 C118.97,92.08 119.25,90.47 121.00,88.30Z"/></clipPath>
<g clip-path="url(#cAy)"><g filter="url(#b08)"><ellipse cx="151.7" cy="89.8" rx="4.6" ry="1.6" fill="#fbefb8" opacity="0.75"/><ellipse cx="173.7" cy="106.5" rx="2.2" ry="2.8" fill="#fbefb8" opacity="0.75"/><ellipse cx="121.9" cy="111.8" rx="2.3" ry="1.7" fill="#fbefb8" opacity="0.75"/><ellipse cx="162.1" cy="142.5" rx="2.5" ry="2.0" fill="#fbefb8" opacity="0.75"/><ellipse cx="183.3" cy="151.9" rx="4.3" ry="2.5" fill="#fbefb8" opacity="0.75"/><ellipse cx="219.5" cy="81.6" rx="5.4" ry="2.2" fill="#fbefb8" opacity="0.75"/><ellipse cx="133.0" cy="87.2" rx="3.2" ry="3.7" fill="#fbefb8" opacity="0.75"/><ellipse cx="136.8" cy="123.4" rx="4.6" ry="2.4" fill="#fbefb8" opacity="0.75"/><ellipse cx="175.0" cy="82.9" rx="2.2" ry="2.0" fill="#fbefb8" opacity="0.75"/><ellipse cx="188.8" cy="111.4" rx="3.3" ry="3.0" fill="#fbefb8" opacity="0.75"/><ellipse cx="165.1" cy="101.4" rx="5.2" ry="3.4" fill="#fbefb8" opacity="0.75"/><ellipse cx="143.4" cy="122.8" rx="4.1" ry="3.9" fill="#fbefb8" opacity="0.75"/><ellipse cx="193.9" cy="100.5" rx="5.9" ry="1.7" fill="#fbefb8" opacity="0.75"/><ellipse cx="161.5" cy="137.1" rx="2.6" ry="2.8" fill="#fbefb8" opacity="0.75"/><ellipse cx="122.1" cy="130.1" rx="5.1" ry="3.0" fill="#fbefb8" opacity="0.75"/><ellipse cx="209.0" cy="102.5" rx="4.8" ry="3.1" fill="#fbefb8" opacity="0.75"/><ellipse cx="178.3" cy="113.6" rx="5.4" ry="4.0" fill="#fbefb8" opacity="0.75"/><ellipse cx="167.3" cy="129.8" rx="2.2" ry="3.4" fill="#fbefb8" opacity="0.75"/><ellipse cx="185.3" cy="155.5" rx="5.3" ry="2.2" fill="#fbefb8" opacity="0.75"/><ellipse cx="158.1" cy="130.2" rx="2.1" ry="2.7" fill="#fbefb8" opacity="0.75"/><ellipse cx="135.5" cy="87.1" rx="2.2" ry="3.6" fill="#fbefb8" opacity="0.75"/><ellipse cx="131.5" cy="97.3" rx="3.6" ry="3.8" fill="#fbefb8" opacity="0.75"/><ellipse cx="126.4" cy="113.0" rx="4.2" ry="3.9" fill="#fbefb8" opacity="0.75"/><ellipse cx="203.2" cy="145.4" rx="3.1" ry="2.6" fill="#fbefb8" opacity="0.75"/><ellipse cx="155.3" cy="147.0" rx="5.8" ry="1.8" fill="#fbefb8" opacity="0.75"/><ellipse cx="136.3" cy="96.1" rx="2.9" ry="2.8" fill="#fbefb8" opacity="0.75"/></g><g filter="url(#b03)"><path d="M135.10,128.59 C135.58,128.65 137.20,128.14 137.98,128.97 C138.76,129.80 139.76,132.40 139.79,133.56 C139.82,134.72 138.99,135.48 138.13,135.91 C137.28,136.35 135.79,136.49 134.68,136.16 C133.57,135.82 132.29,134.63 131.46,133.89 C130.63,133.14 130.00,132.05 129.71,131.69" fill="none" stroke="#cfb050" stroke-width="0.7" opacity="0.55"/><path d="M166.49,157.70 C165.48,157.68 161.39,158.28 160.44,157.60 C159.48,156.92 160.71,154.28 160.77,153.62" fill="none" stroke="#cfb050" stroke-width="0.7" opacity="0.55"/><path d="M183.18,111.55 C184.03,111.38 186.84,109.95 188.27,110.54 C189.70,111.13 191.20,114.32 191.78,115.07" fill="none" stroke="#cfb050" stroke-width="0.7" opacity="0.55"/><path d="M149.81,85.74 C150.15,85.55 150.96,84.55 151.87,84.63 C152.78,84.70 154.45,85.67 155.27,86.18 C156.10,86.70 156.61,86.87 156.85,87.73 C157.08,88.58 156.71,90.73 156.68,91.33" fill="none" stroke="#cfb050" stroke-width="0.7" opacity="0.55"/><path d="M174.24,125.36 C174.66,125.39 175.79,125.25 176.72,125.57 C177.64,125.89 179.55,126.65 179.80,127.28 C180.04,127.91 178.45,129.01 178.18,129.36" fill="none" stroke="#cfb050" stroke-width="0.7" opacity="0.55"/><path d="M156.11,158.42 C155.69,157.87 152.53,156.00 153.59,155.13 C154.66,154.26 161.01,153.52 162.49,153.20" fill="none" stroke="#cfb050" stroke-width="0.7" opacity="0.55"/><path d="M210.03,132.09 C209.36,132.01 206.67,131.95 206.02,131.61 C205.37,131.26 205.87,130.61 206.12,130.01 C206.37,129.41 207.03,128.20 207.53,128.02 C208.04,127.85 208.88,128.81 209.15,128.96" fill="none" stroke="#cfb050" stroke-width="0.7" opacity="0.55"/><path d="M201.71,150.85 C201.21,150.74 199.51,150.50 198.71,150.22 C197.91,149.94 196.92,149.81 196.94,149.18 C196.96,148.55 198.52,146.90 198.83,146.45" fill="none" stroke="#cfb050" stroke-width="0.7" opacity="0.55"/><path d="M133.35,108.83 C133.37,108.96 133.72,109.13 133.47,109.61 C133.21,110.09 132.08,111.36 131.80,111.71" fill="none" stroke="#cfb050" stroke-width="0.7" opacity="0.55"/><path d="M156.83,143.33 C157.40,143.55 159.59,143.97 160.25,144.65 C160.90,145.33 160.68,146.93 160.77,147.39" fill="none" stroke="#cfb050" stroke-width="0.7" opacity="0.55"/><path d="M176.12,78.74 C176.52,79.24 178.32,80.89 178.50,81.75 C178.69,82.62 177.96,83.70 177.24,83.94 C176.51,84.18 175.48,83.51 174.14,83.21 C172.81,82.91 169.68,82.69 169.22,82.13 C168.76,81.58 171.02,80.24 171.38,79.86" fill="none" stroke="#cfb050" stroke-width="0.7" opacity="0.55"/><path d="M172.23,155.81 C172.19,156.11 172.60,157.55 172.00,157.64 C171.41,157.73 169.21,156.57 168.65,156.36" fill="none" stroke="#cfb050" stroke-width="0.7" opacity="0.55"/><path d="M171.10,112.42 C171.41,113.19 173.17,115.71 172.94,117.03 C172.71,118.35 170.27,119.78 169.74,120.33" fill="none" stroke="#cfb050" stroke-width="0.7" opacity="0.55"/><path d="M130.15,89.55 C131.18,89.54 135.10,89.10 136.31,89.47 C137.51,89.85 137.39,90.60 137.38,91.78 C137.38,92.97 136.47,95.78 136.29,96.58" fill="none" stroke="#cfb050" stroke-width="0.7" opacity="0.55"/><path d="M141.21,153.04 C141.55,152.70 142.28,151.21 143.22,151.00 C144.17,150.79 145.98,151.13 146.88,151.79 C147.79,152.45 148.85,154.19 148.64,154.98 C148.43,155.77 146.13,156.26 145.63,156.52" fill="none" stroke="#cfb050" stroke-width="0.7" opacity="0.55"/><path d="M130.70,156.57 C130.20,156.69 128.48,157.16 127.73,157.32 C126.99,157.49 126.95,157.61 126.23,157.56 C125.51,157.51 123.64,157.37 123.40,157.03 C123.16,156.69 124.57,155.76 124.80,155.51" fill="none" stroke="#cfb050" stroke-width="0.7" opacity="0.55"/><path d="M128.37,125.88 C128.18,125.14 127.15,122.28 127.24,121.40 C127.33,120.53 128.08,121.29 128.91,120.62 C129.73,119.95 131.66,117.92 132.21,117.38" fill="none" stroke="#cfb050" stroke-width="0.7" opacity="0.55"/><path d="M123.88,140.84 C124.54,141.16 127.57,142.13 127.80,142.77 C128.03,143.42 126.10,144.19 125.26,144.70 C124.42,145.21 123.96,145.64 122.77,145.83 C121.59,146.01 118.92,145.80 118.15,145.79" fill="none" stroke="#cfb050" stroke-width="0.7" opacity="0.55"/><path d="M186.86,131.81 C186.95,131.25 186.90,129.21 187.41,128.45 C187.93,127.69 189.16,127.13 189.94,127.26 C190.72,127.39 191.99,128.58 192.09,129.23 C192.19,129.88 190.79,130.85 190.53,131.18" fill="none" stroke="#cfb050" stroke-width="0.7" opacity="0.55"/><path d="M173.60,124.33 C173.96,124.43 175.39,124.41 175.75,124.94 C176.11,125.47 175.84,126.65 175.73,127.51 C175.63,128.37 175.75,129.71 175.13,130.11 C174.51,130.51 172.53,129.94 172.01,129.90" fill="none" stroke="#cfb050" stroke-width="0.7" opacity="0.55"/><path d="M112.57,107.44 C112.44,106.66 110.71,103.84 111.79,102.75 C112.86,101.65 117.82,101.18 119.02,100.86" fill="none" stroke="#cfb050" stroke-width="0.7" opacity="0.55"/><path d="M140.47,121.46 C140.94,121.77 142.25,122.69 143.30,123.34 C144.34,123.98 146.64,124.44 146.74,125.32 C146.83,126.19 144.96,128.03 143.86,128.60 C142.76,129.16 141.12,129.13 140.13,128.73 C139.14,128.32 138.29,126.58 137.92,126.15" fill="none" stroke="#cfb050" stroke-width="0.7" opacity="0.55"/><path d="M184.95,110.79 C185.05,111.38 185.66,113.37 185.54,114.33 C185.43,115.29 185.05,116.22 184.23,116.56 C183.41,116.91 181.23,116.43 180.63,116.41" fill="none" stroke="#cfb050" stroke-width="0.7" opacity="0.55"/><path d="M196.98,155.46 C197.34,155.63 199.20,155.81 199.13,156.50 C199.06,157.18 197.40,158.93 196.58,159.55 C195.77,160.17 195.05,160.13 194.23,160.22 C193.42,160.31 192.30,160.58 191.69,160.10 C191.09,159.62 190.30,158.04 190.60,157.35 C190.89,156.67 192.97,156.22 193.44,156.00" fill="none" stroke="#cfb050" stroke-width="0.7" opacity="0.55"/><path d="M194.18,84.91 C193.69,84.51 191.83,83.46 191.27,82.53 C190.71,81.60 190.90,79.86 190.83,79.33" fill="none" stroke="#cfb050" stroke-width="0.7" opacity="0.55"/><path d="M199.92,152.88 C199.89,153.12 200.25,154.12 199.73,154.32 C199.21,154.52 197.28,154.12 196.79,154.08" fill="none" stroke="#cfb050" stroke-width="0.7" opacity="0.55"/><path d="M194.87,122.19 C195.71,122.29 198.79,122.20 199.91,122.76 C201.02,123.31 201.48,124.47 201.56,125.53 C201.64,126.59 200.59,128.54 200.39,129.14" fill="none" stroke="#cfb050" stroke-width="0.7" opacity="0.55"/><path d="M166.62,99.28 C166.14,99.09 164.66,98.35 163.79,98.16 C162.91,97.96 162.17,98.70 161.37,98.11 C160.58,97.53 159.41,95.23 159.02,94.65" fill="none" stroke="#cfb050" stroke-width="0.7" opacity="0.55"/><path d="M175.34,82.04 C175.77,82.51 178.07,83.97 177.92,84.87 C177.78,85.78 175.64,86.98 174.46,87.46 C173.29,87.94 171.46,88.21 170.89,87.73 C170.32,87.26 171.00,85.12 171.03,84.60" fill="none" stroke="#cfb050" stroke-width="0.7" opacity="0.55"/><path d="M187.06,78.48 C186.55,78.46 184.27,78.77 184.03,78.35 C183.80,77.94 185.13,76.79 185.64,75.99 C186.15,75.18 186.48,73.77 187.09,73.51 C187.70,73.26 188.60,73.82 189.33,74.45 C190.05,75.09 191.49,76.54 191.44,77.31 C191.39,78.07 189.42,78.75 189.02,79.04" fill="none" stroke="#cfb050" stroke-width="0.7" opacity="0.55"/><path d="M205.43,96.95 C205.70,97.06 206.52,97.08 207.01,97.58 C207.51,98.08 208.49,99.33 208.40,99.95 C208.31,100.57 206.97,101.01 206.47,101.30 C205.98,101.59 206.11,101.52 205.42,101.71 C204.73,101.90 202.83,102.82 202.34,102.44 C201.84,102.05 202.43,99.89 202.45,99.38" fill="none" stroke="#cfb050" stroke-width="0.7" opacity="0.55"/><path d="M192.38,123.95 C192.52,124.58 193.11,126.70 193.22,127.76 C193.32,128.81 193.59,129.72 193.01,130.29 C192.43,130.87 190.63,131.31 189.74,131.20 C188.85,131.08 188.04,130.32 187.68,129.60 C187.32,128.88 187.60,127.32 187.58,126.86" fill="none" stroke="#cfb050" stroke-width="0.7" opacity="0.55"/><path d="M148.36,104.50 C147.76,105.34 146.03,108.95 144.75,109.57 C143.46,110.19 141.32,108.46 140.64,108.24" fill="none" stroke="#cfb050" stroke-width="0.7" opacity="0.55"/><path d="M139.87,160.81 C139.87,160.24 139.70,158.05 139.83,157.38 C139.97,156.71 140.30,157.13 140.67,156.78 C141.03,156.42 141.80,155.51 142.03,155.25" fill="none" stroke="#cfb050" stroke-width="0.7" opacity="0.55"/><path d="M185.47,113.88 C185.10,113.83 183.70,114.10 183.26,113.57 C182.81,113.04 182.57,111.66 182.82,110.69 C183.07,109.72 183.44,108.21 184.77,107.75 C186.10,107.29 189.69,107.24 190.79,107.94 C191.88,108.63 191.24,111.25 191.33,111.91" fill="none" stroke="#cfb050" stroke-width="0.7" opacity="0.55"/></g></g>
<path d="M122.50,108.00 C123.58,107.33 126.50,105.50 129.00,104.00 C131.50,102.50 136.08,99.83 137.50,99.00" fill="none" stroke="#c99a08" stroke-width="3.0" stroke-linecap="round" stroke-linejoin="round" opacity="1.0" filter="url(#b03)"/>
<path d="M122.50,108.00 C123.58,107.33 126.50,105.50 129.00,104.00 C131.50,102.50 136.08,99.83 137.50,99.00" fill="none" stroke="#efd24a" stroke-width="1.35" stroke-linecap="round" stroke-linejoin="round" opacity="0.9" filter="url(#b03)"/>
<path d="M124.50,104.00 C126.42,104.58 132.08,106.33 136.00,107.50 C139.92,108.67 144.00,109.70 148.00,111.00 C152.00,112.30 158.00,114.58 160.00,115.30" fill="none" stroke="#c99a08" stroke-width="2.6" stroke-linecap="round" stroke-linejoin="round" opacity="1.0" filter="url(#b03)"/>
<path d="M124.50,104.00 C126.42,104.58 132.08,106.33 136.00,107.50 C139.92,108.67 144.00,109.70 148.00,111.00 C152.00,112.30 158.00,114.58 160.00,115.30" fill="none" stroke="#efd24a" stroke-width="1.1700000000000002" stroke-linecap="round" stroke-linejoin="round" opacity="0.9" filter="url(#b03)"/>
<path d="M124.00,110.50 C126.33,111.08 133.67,112.83 138.00,114.00 C142.33,115.17 146.50,116.42 150.00,117.50 C153.50,118.58 157.50,120.00 159.00,120.50" fill="none" stroke="#c99a08" stroke-width="2.2" stroke-linecap="round" stroke-linejoin="round" opacity="1.0" filter="url(#b03)"/>
<path d="M124.00,110.50 C126.33,111.08 133.67,112.83 138.00,114.00 C142.33,115.17 146.50,116.42 150.00,117.50 C153.50,118.58 157.50,120.00 159.00,120.50" fill="none" stroke="#efd24a" stroke-width="0.9900000000000001" stroke-linecap="round" stroke-linejoin="round" opacity="0.9" filter="url(#b03)"/>
<path d="M126.00,115.00 C128.33,115.58 135.67,117.33 140.00,118.50 C144.33,119.67 150.00,121.42 152.00,122.00" fill="none" stroke="#c99a08" stroke-width="1.8" stroke-linecap="round" stroke-linejoin="round" opacity="1.0" filter="url(#b03)"/>
<path d="M126.00,115.00 C128.33,115.58 135.67,117.33 140.00,118.50 C144.33,119.67 150.00,121.42 152.00,122.00" fill="none" stroke="#efd24a" stroke-width="0.81" stroke-linecap="round" stroke-linejoin="round" opacity="0.9" filter="url(#b03)"/>
<path d="M134.00,101.00 C134.33,102.50 135.33,106.67 136.00,110.00 C136.67,113.33 137.67,119.17 138.00,121.00" fill="none" stroke="#c99a08" stroke-width="1.4" stroke-linecap="round" stroke-linejoin="round" opacity="0.8" filter="url(#b03)"/>
<path d="M140.60,88.00 C140.83,87.33 140.93,85.00 142.00,84.00 C143.07,83.00 145.50,81.83 147.00,82.00 C148.50,82.17 150.67,83.67 151.00,85.00 C151.33,86.33 148.67,88.83 149.00,90.00 C149.33,91.17 151.67,92.17 153.00,92.00 C154.33,91.83 155.67,88.83 157.00,89.00 C158.33,89.17 161.00,91.50 161.00,93.00 C161.00,94.50 157.67,97.17 157.00,98.00" fill="none" stroke="#d6a912" stroke-width="1.0" stroke-linecap="round" stroke-linejoin="round" opacity="1.0" filter="url(#b03)"/>
<path d="M150.00,96.00 C151.17,96.50 154.50,97.67 157.00,99.00 C159.50,100.33 162.83,102.50 165.00,104.00 C167.17,105.50 168.17,108.00 170.00,108.00 C171.83,108.00 174.00,104.67 176.00,104.00 C178.00,103.33 181.00,104.00 182.00,104.00" fill="none" stroke="#d6a912" stroke-width="0.9" stroke-linecap="round" stroke-linejoin="round" opacity="1.0" filter="url(#b03)"/>
<path d="M160.00,100.00 C161.00,102.00 164.33,108.67 166.00,112.00 C167.67,115.33 170.00,117.67 170.00,120.00 C170.00,122.33 167.67,125.33 166.00,126.00 C164.33,126.67 161.00,124.33 160.00,124.00" fill="none" stroke="#d6a912" stroke-width="1.0" stroke-linecap="round" stroke-linejoin="round" opacity="1.0" filter="url(#b03)"/>
<path d="M172.00,110.00 C173.33,110.83 177.67,114.67 180.00,115.00 C182.33,115.33 184.67,111.50 186.00,112.00 C187.33,112.50 188.33,116.33 188.00,118.00 C187.67,119.67 184.67,121.33 184.00,122.00" fill="none" stroke="#d6a912" stroke-width="1.0" stroke-linecap="round" stroke-linejoin="round" opacity="1.0" filter="url(#b03)"/>
<path d="M156.00,124.00 C156.50,125.83 158.17,131.00 159.00,135.00 C159.83,139.00 160.67,145.83 161.00,148.00" fill="none" stroke="#d6a912" stroke-width="1.3" stroke-linecap="round" stroke-linejoin="round" opacity="1.0" filter="url(#b03)"/>
<path d="M190.00,128.00 C191.33,128.67 195.33,130.67 198.00,132.00 C200.67,133.33 204.00,134.67 206.00,136.00 C208.00,137.33 210.00,138.33 210.00,140.00 C210.00,141.67 207.67,144.33 206.00,146.00 C204.33,147.67 201.00,149.33 200.00,150.00" fill="none" stroke="#d6a912" stroke-width="1.0" stroke-linecap="round" stroke-linejoin="round" opacity="1.0" filter="url(#b03)"/>
<path d="M186.00,140.00 C187.00,141.00 190.00,145.00 192.00,146.00 C194.00,147.00 197.00,146.00 198.00,146.00" fill="none" stroke="#d6a912" stroke-width="0.9" stroke-linecap="round" stroke-linejoin="round" opacity="1.0" filter="url(#b03)"/>
<path d="M170.00,128.00 C171.33,129.00 175.33,132.67 178.00,134.00 C180.67,135.33 184.67,135.67 186.00,136.00" fill="none" stroke="#d6a912" stroke-width="0.9" stroke-linecap="round" stroke-linejoin="round" opacity="1.0" filter="url(#b03)"/>
<path d="M199.00,112.00 C199.67,113.00 202.67,116.00 203.00,118.00 C203.33,120.00 201.33,123.00 201.00,124.00" fill="none" stroke="#d6a912" stroke-width="0.9" stroke-linecap="round" stroke-linejoin="round" opacity="1.0" filter="url(#b03)"/>
<g opacity="0.8" style="mix-blend-mode:multiply" filter="url(#b03)"><path d="M122.90,165.50 C123.92,163.78 126.97,163.75 128.60,164.70 C130.23,165.65 131.20,169.02 132.70,171.20 C134.20,173.38 135.72,176.17 137.60,177.80 C139.48,179.43 142.10,179.92 144.00,181.00 C145.90,182.08 147.70,181.93 149.00,184.30 C150.30,186.67 151.12,192.72 151.80,195.20 C152.48,197.68 153.32,197.65 153.10,199.20 C152.88,200.75 151.60,202.95 150.50,204.50 C149.40,206.05 146.95,207.38 146.50,208.50 C146.05,209.62 147.03,210.32 147.80,211.20 C148.57,212.08 150.77,212.70 151.10,213.80 C151.43,214.90 150.78,216.68 149.80,217.80 C148.82,218.92 147.08,219.62 145.20,220.50 C143.32,221.38 140.28,221.78 138.50,223.10 C136.72,224.42 135.60,227.45 134.50,228.40 C133.40,229.35 132.78,229.23 131.90,228.80 C131.02,228.37 129.87,227.18 129.20,225.80 C128.53,224.42 128.00,222.50 127.90,220.50 C127.80,218.50 128.82,215.80 128.60,213.80 C128.38,211.80 127.27,210.27 126.60,208.50 C125.93,206.73 124.93,205.62 124.60,203.20 C124.27,200.78 124.78,197.03 124.60,194.00 C124.42,190.97 123.85,188.17 123.50,185.00 C123.15,181.83 122.60,178.25 122.50,175.00 C122.40,171.75 121.88,167.22 122.90,165.50Z" fill="#dc9494"/><circle cx="148.1" cy="187.3" r="3.4" fill="#dc9494"/><circle cx="126.6" cy="180.8" r="4.8" fill="#dc9494"/><circle cx="129.5" cy="186.4" r="3.0" fill="#dc9494"/><circle cx="146.7" cy="217.8" r="3.4" fill="#dc9494"/><circle cx="141.8" cy="181.3" r="3.0" fill="#dc9494"/><circle cx="142.5" cy="180.8" r="2.3" fill="#dc9494"/><circle cx="126.2" cy="189.8" r="3.9" fill="#dc9494"/><circle cx="150.0" cy="196.3" r="3.4" fill="#dc9494"/><circle cx="124.7" cy="191.0" r="2.2" fill="#dc9494"/><circle cx="139.4" cy="220.8" r="3.6" fill="#dc9494"/><circle cx="135.4" cy="198.6" r="3.5" fill="#dc9494"/><circle cx="132.7" cy="207.7" r="4.3" fill="#dc9494"/><circle cx="127.2" cy="176.5" r="4.5" fill="#dc9494"/><circle cx="124.7" cy="192.3" r="2.1" fill="#dc9494"/><circle cx="124.4" cy="180.9" r="3.1" fill="#dc9494"/><circle cx="140.5" cy="215.7" r="5.0" fill="#dc9494"/><circle cx="147.1" cy="195.8" r="3.1" fill="#dc9494"/><circle cx="129.7" cy="175.3" r="5.0" fill="#dc9494"/><circle cx="141.8" cy="181.1" r="2.9" fill="#dc9494"/><circle cx="132.9" cy="195.5" r="4.8" fill="#dc9494"/><circle cx="136.5" cy="197.0" r="3.1" fill="#dc9494"/><circle cx="149.3" cy="213.2" r="2.4" fill="#dc9494"/><circle cx="139.1" cy="208.7" r="4.6" fill="#dc9494"/><circle cx="132.2" cy="200.4" r="4.2" fill="#dc9494"/><circle cx="136.3" cy="187.1" r="4.0" fill="#dc9494"/><circle cx="136.7" cy="216.2" r="2.7" fill="#dc9494"/><circle cx="143.1" cy="182.7" r="3.7" fill="#dc9494"/><circle cx="138.3" cy="190.2" r="3.9" fill="#dc9494"/><circle cx="132.9" cy="182.0" r="3.7" fill="#dc9494"/><circle cx="139.4" cy="185.2" r="3.9" fill="#dc9494"/></g>
<path d="M124.50,166.30 C125.18,167.67 127.38,171.50 128.60,174.50 C129.82,177.50 130.72,180.22 131.80,184.30 C132.88,188.38 134.42,195.72 135.10,199.00 C135.78,202.28 135.77,203.17 135.90,204.00" fill="none" stroke="#8c0d18" stroke-width="2.0" stroke-linecap="round" stroke-linejoin="round" opacity="1.0" filter="url(#b03)"/>
<path d="M141.60,181.00 C141.33,182.10 140.53,185.15 140.00,187.60 C139.47,190.05 138.95,193.27 138.40,195.70 C137.85,198.13 136.98,201.12 136.70,202.20" fill="none" stroke="#8c0d18" stroke-width="2.2" stroke-linecap="round" stroke-linejoin="round" opacity="1.0" filter="url(#b03)"/>
<path d="M135.90,205.50 C135.77,206.58 135.10,210.08 135.10,212.00 C135.10,213.92 134.95,215.90 135.90,217.00 C136.85,218.10 139.72,219.15 140.80,218.60 C141.88,218.05 142.67,215.07 142.40,213.70 C142.13,212.33 140.42,211.22 139.20,210.40 C137.98,209.58 135.78,209.07 135.10,208.80" fill="none" stroke="#8c0d18" stroke-width="1.0" stroke-linecap="round" stroke-linejoin="round" opacity="1.0" filter="url(#b03)"/>
<g filter="url(#b03)"><path d="M302.70,92.00 C304.10,89.70 303.08,84.48 304.90,82.30 C306.72,80.12 310.13,79.35 313.60,78.90 C317.07,78.45 322.23,79.90 325.70,79.60 C329.17,79.30 330.93,77.33 334.40,77.10 C337.87,76.87 343.03,77.33 346.50,78.20 C349.97,79.07 352.88,80.45 355.20,82.30 C357.52,84.15 358.08,87.57 360.40,89.30 C362.72,91.03 366.22,91.25 369.10,92.70 C371.98,94.15 375.10,96.55 377.70,98.00 C380.30,99.45 382.97,99.67 384.70,101.40 C386.43,103.13 386.95,106.37 388.10,108.40 C389.25,110.43 389.87,112.45 391.60,113.60 C393.33,114.75 396.18,114.15 398.50,115.30 C400.82,116.45 404.05,118.18 405.50,120.50 C406.95,122.82 407.50,126.60 407.20,129.20 C406.90,131.80 404.85,133.80 403.70,136.10 C402.55,138.40 402.03,140.98 400.30,143.00 C398.57,145.02 395.62,146.75 393.30,148.20 C390.98,149.65 388.70,149.95 386.40,151.70 C384.10,153.45 382.10,156.97 379.50,158.70 C376.90,160.43 373.38,161.55 370.80,162.10 C368.22,162.65 365.38,161.18 364.00,162.00 C362.62,162.82 363.17,165.17 362.50,167.00 C361.83,168.83 361.42,171.42 360.00,173.00 C358.58,174.58 356.08,175.50 354.00,176.50 C351.92,177.50 348.92,177.42 347.50,179.00 C346.08,180.58 346.02,183.67 345.50,186.00 C344.98,188.33 345.48,190.83 344.40,193.00 C343.32,195.17 340.27,196.67 339.00,199.00 C337.73,201.33 337.68,204.45 336.80,207.00 C335.92,209.55 335.00,212.05 333.70,214.30 C332.40,216.55 330.78,218.97 329.00,220.50 C327.22,222.03 325.00,223.17 323.00,223.50 C321.00,223.83 318.50,223.50 317.00,222.50 C315.50,221.50 315.00,219.33 314.00,217.50 C313.00,215.67 311.93,213.30 311.00,211.50 C310.07,209.70 309.23,208.28 308.40,206.70 C307.57,205.12 306.90,203.78 306.00,202.00 C305.10,200.22 303.92,198.08 303.00,196.00 C302.08,193.92 301.75,191.17 300.50,189.50 C299.25,187.83 296.83,187.92 295.50,186.00 C294.17,184.08 293.33,180.67 292.50,178.00 C291.67,175.33 291.00,172.83 290.50,170.00 C290.00,167.17 289.82,164.00 289.50,161.00 C289.18,158.00 288.97,154.92 288.60,152.00 C288.23,149.08 288.37,145.67 287.30,143.50 C286.23,141.33 283.50,140.42 282.20,139.00 C280.90,137.58 279.67,136.70 279.50,135.00 C279.33,133.30 279.55,131.20 281.20,128.80 C282.85,126.40 288.55,123.67 289.40,120.60 C290.25,117.53 286.98,113.47 286.30,110.40 C285.62,107.33 284.62,103.90 285.30,102.20 C285.98,100.50 288.53,101.22 290.40,100.20 C292.27,99.18 294.45,97.47 296.50,96.10 C298.55,94.73 301.30,94.30 302.70,92.00Z" fill="#f4f3f1" stroke="#aaa6a0" stroke-width="0.9"/><ellipse cx="357.2" cy="134.1" rx="7.2" ry="5.2" transform="rotate(118 357.2 134.1)" fill="url(#sg)" stroke="#c0bcb6" stroke-width="0.55"/><ellipse cx="405.1" cy="122.2" rx="3.1" ry="1.9" transform="rotate(122 405.1 122.2)" fill="url(#sg)" stroke="#c0bcb6" stroke-width="0.55"/><ellipse cx="345.0" cy="177.9" rx="5.9" ry="3.1" transform="rotate(164 345.0 177.9)" fill="url(#sg)" stroke="#c0bcb6" stroke-width="0.55"/><ellipse cx="331.8" cy="106.1" rx="12.3" ry="6.1" transform="rotate(70 331.8 106.1)" fill="url(#sg)" stroke="#c0bcb6" stroke-width="0.55"/><ellipse cx="346.5" cy="181.9" rx="2.3" ry="1.3" transform="rotate(43 346.5 181.9)" fill="url(#sg)" stroke="#c0bcb6" stroke-width="0.55"/><ellipse cx="351.7" cy="100.1" rx="5.1" ry="3.8" transform="rotate(103 351.7 100.1)" fill="url(#sg)" stroke="#c0bcb6" stroke-width="0.55"/><ellipse cx="322.0" cy="106.4" rx="8.5" ry="7.4" transform="rotate(140 322.0 106.4)" fill="url(#sg)" stroke="#c0bcb6" stroke-width="0.55"/><ellipse cx="304.0" cy="119.9" rx="13.7" ry="7.9" transform="rotate(150 304.0 119.9)" fill="url(#sg)" stroke="#c0bcb6" stroke-width="0.55"/><ellipse cx="312.0" cy="146.1" rx="13.4" ry="7.4" transform="rotate(143 312.0 146.1)" fill="url(#sg)" stroke="#c0bcb6" stroke-width="0.55"/><ellipse cx="322.9" cy="220.2" rx="5.6" ry="4.4" transform="rotate(128 322.9 220.2)" fill="url(#sg)" stroke="#c0bcb6" stroke-width="0.55"/><ellipse cx="305.8" cy="145.5" rx="4.6" ry="3.0" transform="rotate(4 305.8 145.5)" fill="url(#sg)" stroke="#c0bcb6" stroke-width="0.55"/><ellipse cx="354.9" cy="153.9" rx="10.8" ry="7.0" transform="rotate(71 354.9 153.9)" fill="url(#sg)" stroke="#c0bcb6" stroke-width="0.55"/><ellipse cx="314.2" cy="130.2" rx="8.6" ry="5.9" transform="rotate(12 314.2 130.2)" fill="url(#sg)" stroke="#c0bcb6" stroke-width="0.55"/><ellipse cx="324.1" cy="127.6" rx="11.4" ry="8.9" transform="rotate(17 324.1 127.6)" fill="url(#sg)" stroke="#c0bcb6" stroke-width="0.55"/><ellipse cx="321.6" cy="194.0" rx="9.3" ry="5.5" transform="rotate(36 321.6 194.0)" fill="url(#sg)" stroke="#c0bcb6" stroke-width="0.55"/><ellipse cx="303.1" cy="182.4" rx="6.5" ry="4.3" transform="rotate(91 303.1 182.4)" fill="url(#sg)" stroke="#c0bcb6" stroke-width="0.55"/><ellipse cx="328.5" cy="202.6" rx="9.5" ry="7.3" transform="rotate(3 328.5 202.6)" fill="url(#sg)" stroke="#c0bcb6" stroke-width="0.55"/><ellipse cx="332.7" cy="79.4" rx="4.7" ry="3.4" transform="rotate(30 332.7 79.4)" fill="url(#sg)" stroke="#c0bcb6" stroke-width="0.55"/><ellipse cx="354.9" cy="156.2" rx="5.7" ry="4.1" transform="rotate(123 354.9 156.2)" fill="url(#sg)" stroke="#c0bcb6" stroke-width="0.55"/><ellipse cx="357.1" cy="100.1" rx="9.3" ry="6.0" transform="rotate(22 357.1 100.1)" fill="url(#sg)" stroke="#c0bcb6" stroke-width="0.55"/><ellipse cx="311.3" cy="163.6" rx="14.6" ry="8.7" transform="rotate(154 311.3 163.6)" fill="url(#sg)" stroke="#c0bcb6" stroke-width="0.55"/><ellipse cx="346.3" cy="151.8" rx="11.0" ry="8.2" transform="rotate(45 346.3 151.8)" fill="url(#sg)" stroke="#c0bcb6" stroke-width="0.55"/><ellipse cx="324.1" cy="85.5" rx="6.5" ry="5.4" transform="rotate(3 324.1 85.5)" fill="url(#sg)" stroke="#c0bcb6" stroke-width="0.55"/><ellipse cx="354.7" cy="138.4" rx="10.8" ry="7.1" transform="rotate(143 354.7 138.4)" fill="url(#sg)" stroke="#c0bcb6" stroke-width="0.55"/><ellipse cx="340.3" cy="168.7" rx="13.0" ry="10.1" transform="rotate(15 340.3 168.7)" fill="url(#sg)" stroke="#c0bcb6" stroke-width="0.55"/><ellipse cx="320.2" cy="215.6" rx="11.3" ry="7.1" transform="rotate(79 320.2 215.6)" fill="url(#sg)" stroke="#c0bcb6" stroke-width="0.55"/><ellipse cx="304.5" cy="170.9" rx="8.8" ry="6.1" transform="rotate(71 304.5 170.9)" fill="url(#sg)" stroke="#c0bcb6" stroke-width="0.55"/><ellipse cx="316.8" cy="138.8" rx="6.3" ry="4.6" transform="rotate(49 316.8 138.8)" fill="url(#sg)" stroke="#c0bcb6" stroke-width="0.55"/><ellipse cx="352.0" cy="90.7" rx="7.7" ry="6.9" transform="rotate(62 352.0 90.7)" fill="url(#sg)" stroke="#c0bcb6" stroke-width="0.55"/><ellipse cx="344.7" cy="137.1" rx="5.1" ry="4.6" transform="rotate(131 344.7 137.1)" fill="url(#sg)" stroke="#c0bcb6" stroke-width="0.55"/><ellipse cx="378.4" cy="142.8" rx="9.1" ry="5.3" transform="rotate(98 378.4 142.8)" fill="url(#sg)" stroke="#c0bcb6" stroke-width="0.55"/><ellipse cx="317.7" cy="213.2" rx="7.3" ry="5.7" transform="rotate(79 317.7 213.2)" fill="url(#sg)" stroke="#c0bcb6" stroke-width="0.55"/><ellipse cx="360.6" cy="121.1" rx="7.7" ry="7.0" transform="rotate(55 360.6 121.1)" fill="url(#sg)" stroke="#c0bcb6" stroke-width="0.55"/><ellipse cx="314.1" cy="83.8" rx="7.6" ry="6.0" transform="rotate(120 314.1 83.8)" fill="url(#sg)" stroke="#c0bcb6" stroke-width="0.55"/><ellipse cx="352.5" cy="130.8" rx="10.9" ry="8.0" transform="rotate(58 352.5 130.8)" fill="url(#sg)" stroke="#c0bcb6" stroke-width="0.55"/><ellipse cx="288.8" cy="143.6" rx="4.1" ry="2.1" transform="rotate(132 288.8 143.6)" fill="url(#sg)" stroke="#c0bcb6" stroke-width="0.55"/><ellipse cx="313.3" cy="96.7" rx="14.5" ry="7.7" transform="rotate(89 313.3 96.7)" fill="url(#sg)" stroke="#c0bcb6" stroke-width="0.55"/><ellipse cx="358.3" cy="94.1" rx="7.6" ry="4.9" transform="rotate(165 358.3 94.1)" fill="url(#sg)" stroke="#c0bcb6" stroke-width="0.55"/><ellipse cx="330.1" cy="80.2" rx="4.2" ry="2.5" transform="rotate(77 330.1 80.2)" fill="url(#sg)" stroke="#c0bcb6" stroke-width="0.55"/><ellipse cx="312.0" cy="132.9" rx="10.3" ry="6.3" transform="rotate(117 312.0 132.9)" fill="url(#sg)" stroke="#c0bcb6" stroke-width="0.55"/><ellipse cx="346.9" cy="106.6" rx="8.9" ry="6.1" transform="rotate(91 346.9 106.6)" fill="url(#sg)" stroke="#c0bcb6" stroke-width="0.55"/><ellipse cx="294.6" cy="167.4" rx="8.0" ry="6.0" transform="rotate(52 294.6 167.4)" fill="url(#sg)" stroke="#c0bcb6" stroke-width="0.55"/><ellipse cx="306.2" cy="148.6" rx="5.1" ry="4.4" transform="rotate(49 306.2 148.6)" fill="url(#sg)" stroke="#c0bcb6" stroke-width="0.55"/><ellipse cx="299.6" cy="183.8" rx="6.8" ry="4.2" transform="rotate(88 299.6 183.8)" fill="url(#sg)" stroke="#c0bcb6" stroke-width="0.55"/><ellipse cx="321.2" cy="95.9" rx="8.5" ry="5.0" transform="rotate(16 321.2 95.9)" fill="url(#sg)" stroke="#c0bcb6" stroke-width="0.55"/><ellipse cx="343.3" cy="192.1" rx="2.8" ry="2.1" transform="rotate(52 343.3 192.1)" fill="url(#sg)" stroke="#c0bcb6" stroke-width="0.55"/><ellipse cx="326.1" cy="209.1" rx="12.7" ry="5.8" transform="rotate(34 326.1 209.1)" fill="url(#sg)" stroke="#c0bcb6" stroke-width="0.55"/><ellipse cx="389.4" cy="128.6" rx="9.6" ry="7.6" transform="rotate(5 389.4 128.6)" fill="url(#sg)" stroke="#c0bcb6" stroke-width="0.55"/><ellipse cx="377.4" cy="136.4" rx="6.2" ry="4.2" transform="rotate(15 377.4 136.4)" fill="url(#sg)" stroke="#c0bcb6" stroke-width="0.55"/><ellipse cx="347.0" cy="148.3" rx="6.3" ry="4.6" transform="rotate(44 347.0 148.3)" fill="url(#sg)" stroke="#c0bcb6" stroke-width="0.55"/><ellipse cx="364.6" cy="146.0" rx="10.5" ry="6.7" transform="rotate(7 364.6 146.0)" fill="url(#sg)" stroke="#c0bcb6" stroke-width="0.55"/><ellipse cx="352.9" cy="140.0" rx="13.8" ry="9.1" transform="rotate(63 352.9 140.0)" fill="url(#sg)" stroke="#c0bcb6" stroke-width="0.55"/><ellipse cx="309.2" cy="183.3" rx="5.1" ry="4.6" transform="rotate(139 309.2 183.3)" fill="url(#sg)" stroke="#c0bcb6" stroke-width="0.55"/><ellipse cx="332.2" cy="180.2" rx="6.6" ry="5.5" transform="rotate(137 332.2 180.2)" fill="url(#sg)" stroke="#c0bcb6" stroke-width="0.55"/><ellipse cx="317.6" cy="148.0" rx="6.3" ry="3.5" transform="rotate(166 317.6 148.0)" fill="url(#sg)" stroke="#c0bcb6" stroke-width="0.55"/><ellipse cx="309.4" cy="85.7" rx="7.2" ry="5.2" transform="rotate(128 309.4 85.7)" fill="url(#sg)" stroke="#c0bcb6" stroke-width="0.55"/><ellipse cx="342.9" cy="194.1" rx="2.6" ry="1.6" transform="rotate(43 342.9 194.1)" fill="url(#sg)" stroke="#c0bcb6" stroke-width="0.55"/><ellipse cx="290.2" cy="138.3" rx="5.0" ry="4.4" transform="rotate(74 290.2 138.3)" fill="url(#sg)" stroke="#c0bcb6" stroke-width="0.55"/><ellipse cx="324.1" cy="100.2" rx="10.5" ry="5.1" transform="rotate(35 324.1 100.2)" fill="url(#sg)" stroke="#c0bcb6" stroke-width="0.55"/><ellipse cx="296.0" cy="104.2" rx="7.5" ry="6.3" transform="rotate(54 296.0 104.2)" fill="url(#sg)" stroke="#c0bcb6" stroke-width="0.55"/><ellipse cx="321.9" cy="130.7" rx="12.5" ry="7.3" transform="rotate(131 321.9 130.7)" fill="url(#sg)" stroke="#c0bcb6" stroke-width="0.55"/><ellipse cx="364.5" cy="102.8" rx="5.4" ry="3.6" transform="rotate(151 364.5 102.8)" fill="url(#sg)" stroke="#c0bcb6" stroke-width="0.55"/><ellipse cx="304.2" cy="106.1" rx="5.8" ry="5.5" transform="rotate(137 304.2 106.1)" fill="url(#sg)" stroke="#c0bcb6" stroke-width="0.55"/><ellipse cx="341.8" cy="131.5" rx="5.1" ry="4.4" transform="rotate(49 341.8 131.5)" fill="url(#sg)" stroke="#c0bcb6" stroke-width="0.55"/><ellipse cx="321.1" cy="178.7" rx="6.0" ry="5.9" transform="rotate(138 321.1 178.7)" fill="url(#sg)" stroke="#c0bcb6" stroke-width="0.55"/><ellipse cx="323.5" cy="184.7" rx="14.5" ry="8.7" transform="rotate(72 323.5 184.7)" fill="url(#sg)" stroke="#c0bcb6" stroke-width="0.55"/><ellipse cx="300.8" cy="142.6" rx="8.6" ry="7.1" transform="rotate(39 300.8 142.6)" fill="url(#sg)" stroke="#c0bcb6" stroke-width="0.55"/><ellipse cx="362.5" cy="145.3" rx="10.1" ry="8.3" transform="rotate(94 362.5 145.3)" fill="url(#sg)" stroke="#c0bcb6" stroke-width="0.55"/><ellipse cx="336.5" cy="179.8" rx="8.3" ry="6.3" transform="rotate(7 336.5 179.8)" fill="url(#sg)" stroke="#c0bcb6" stroke-width="0.55"/><ellipse cx="375.1" cy="131.0" rx="9.8" ry="7.1" transform="rotate(94 375.1 131.0)" fill="url(#sg)" stroke="#c0bcb6" stroke-width="0.55"/><ellipse cx="338.9" cy="84.7" rx="8.2" ry="5.6" transform="rotate(32 338.9 84.7)" fill="url(#sg)" stroke="#c0bcb6" stroke-width="0.55"/><ellipse cx="340.0" cy="122.5" rx="6.9" ry="4.6" transform="rotate(153 340.0 122.5)" fill="url(#sg)" stroke="#c0bcb6" stroke-width="0.55"/><ellipse cx="368.4" cy="132.4" rx="9.5" ry="5.2" transform="rotate(34 368.4 132.4)" fill="url(#sg)" stroke="#c0bcb6" stroke-width="0.55"/><ellipse cx="300.1" cy="121.5" rx="8.0" ry="5.2" transform="rotate(153 300.1 121.5)" fill="url(#sg)" stroke="#c0bcb6" stroke-width="0.55"/><ellipse cx="311.1" cy="162.7" rx="8.0" ry="7.3" transform="rotate(50 311.1 162.7)" fill="url(#sg)" stroke="#c0bcb6" stroke-width="0.55"/><ellipse cx="309.4" cy="158.2" rx="5.9" ry="3.9" transform="rotate(130 309.4 158.2)" fill="url(#sg)" stroke="#c0bcb6" stroke-width="0.55"/><ellipse cx="328.5" cy="153.4" rx="8.7" ry="6.8" transform="rotate(28 328.5 153.4)" fill="url(#sg)" stroke="#c0bcb6" stroke-width="0.55"/><ellipse cx="368.1" cy="151.6" rx="7.6" ry="4.9" transform="rotate(134 368.1 151.6)" fill="url(#sg)" stroke="#c0bcb6" stroke-width="0.55"/><ellipse cx="345.3" cy="160.7" rx="10.9" ry="10.2" transform="rotate(67 345.3 160.7)" fill="url(#sg)" stroke="#c0bcb6" stroke-width="0.55"/><ellipse cx="287.5" cy="127.2" rx="4.8" ry="3.5" transform="rotate(162 287.5 127.2)" fill="url(#sg)" stroke="#c0bcb6" stroke-width="0.55"/><ellipse cx="332.9" cy="214.9" rx="2.2" ry="1.4" transform="rotate(15 332.9 214.9)" fill="url(#sg)" stroke="#c0bcb6" stroke-width="0.55"/><ellipse cx="328.1" cy="140.5" rx="14.7" ry="10.1" transform="rotate(179 328.1 140.5)" fill="url(#sg)" stroke="#c0bcb6" stroke-width="0.55"/><ellipse cx="324.0" cy="136.0" rx="10.3" ry="8.2" transform="rotate(25 324.0 136.0)" fill="url(#sg)" stroke="#c0bcb6" stroke-width="0.55"/><ellipse cx="350.4" cy="113.9" rx="12.4" ry="7.6" transform="rotate(149 350.4 113.9)" fill="url(#sg)" stroke="#c0bcb6" stroke-width="0.55"/><ellipse cx="396.8" cy="141.9" rx="5.2" ry="3.1" transform="rotate(138 396.8 141.9)" fill="url(#sg)" stroke="#c0bcb6" stroke-width="0.55"/><ellipse cx="303.8" cy="165.3" rx="9.5" ry="6.0" transform="rotate(153 303.8 165.3)" fill="url(#sg)" stroke="#c0bcb6" stroke-width="0.55"/><ellipse cx="355.1" cy="165.1" rx="7.4" ry="5.1" transform="rotate(79 355.1 165.1)" fill="url(#sg)" stroke="#c0bcb6" stroke-width="0.55"/><ellipse cx="316.4" cy="106.7" rx="11.3" ry="7.1" transform="rotate(128 316.4 106.7)" fill="url(#sg)" stroke="#c0bcb6" stroke-width="0.55"/><ellipse cx="382.5" cy="130.9" rx="8.3" ry="5.8" transform="rotate(135 382.5 130.9)" fill="url(#sg)" stroke="#c0bcb6" stroke-width="0.55"/><ellipse cx="308.2" cy="177.1" rx="6.3" ry="3.2" transform="rotate(64 308.2 177.1)" fill="url(#sg)" stroke="#c0bcb6" stroke-width="0.55"/><ellipse cx="333.4" cy="210.5" rx="3.5" ry="3.1" transform="rotate(124 333.4 210.5)" fill="url(#sg)" stroke="#c0bcb6" stroke-width="0.55"/><ellipse cx="316.0" cy="201.6" rx="11.0" ry="5.6" transform="rotate(93 316.0 201.6)" fill="url(#sg)" stroke="#c0bcb6" stroke-width="0.55"/><ellipse cx="312.6" cy="94.9" rx="11.0" ry="5.8" transform="rotate(131 312.6 94.9)" fill="url(#sg)" stroke="#c0bcb6" stroke-width="0.55"/><ellipse cx="309.7" cy="190.2" rx="7.3" ry="4.4" transform="rotate(172 309.7 190.2)" fill="url(#sg)" stroke="#c0bcb6" stroke-width="0.55"/><ellipse cx="295.6" cy="118.7" rx="7.5" ry="8.1" transform="rotate(101 295.6 118.7)" fill="url(#sg)" stroke="#c0bcb6" stroke-width="0.55"/><ellipse cx="349.5" cy="167.8" rx="10.4" ry="6.8" transform="rotate(106 349.5 167.8)" fill="url(#sg)" stroke="#c0bcb6" stroke-width="0.55"/><ellipse cx="353.4" cy="110.4" rx="10.5" ry="9.3" transform="rotate(3 353.4 110.4)" fill="url(#sg)" stroke="#c0bcb6" stroke-width="0.55"/><ellipse cx="307.7" cy="192.9" rx="7.6" ry="3.8" transform="rotate(67 307.7 192.9)" fill="url(#sg)" stroke="#c0bcb6" stroke-width="0.55"/><ellipse cx="305.5" cy="115.6" rx="6.2" ry="3.0" transform="rotate(140 305.5 115.6)" fill="url(#sg)" stroke="#c0bcb6" stroke-width="0.55"/><ellipse cx="318.1" cy="172.8" rx="14.7" ry="6.6" transform="rotate(49 318.1 172.8)" fill="url(#sg)" stroke="#c0bcb6" stroke-width="0.55"/></g><clipPath id="cp202"><path d="M302.70,92.00 C304.10,89.70 303.08,84.48 304.90,82.30 C306.72,80.12 310.13,79.35 313.60,78.90 C317.07,78.45 322.23,79.90 325.70,79.60 C329.17,79.30 330.93,77.33 334.40,77.10 C337.87,76.87 343.03,77.33 346.50,78.20 C349.97,79.07 352.88,80.45 355.20,82.30 C357.52,84.15 358.08,87.57 360.40,89.30 C362.72,91.03 366.22,91.25 369.10,92.70 C371.98,94.15 375.10,96.55 377.70,98.00 C380.30,99.45 382.97,99.67 384.70,101.40 C386.43,103.13 386.95,106.37 388.10,108.40 C389.25,110.43 389.87,112.45 391.60,113.60 C393.33,114.75 396.18,114.15 398.50,115.30 C400.82,116.45 404.05,118.18 405.50,120.50 C406.95,122.82 407.50,126.60 407.20,129.20 C406.90,131.80 404.85,133.80 403.70,136.10 C402.55,138.40 402.03,140.98 400.30,143.00 C398.57,145.02 395.62,146.75 393.30,148.20 C390.98,149.65 388.70,149.95 386.40,151.70 C384.10,153.45 382.10,156.97 379.50,158.70 C376.90,160.43 373.38,161.55 370.80,162.10 C368.22,162.65 365.38,161.18 364.00,162.00 C362.62,162.82 363.17,165.17 362.50,167.00 C361.83,168.83 361.42,171.42 360.00,173.00 C358.58,174.58 356.08,175.50 354.00,176.50 C351.92,177.50 348.92,177.42 347.50,179.00 C346.08,180.58 346.02,183.67 345.50,186.00 C344.98,188.33 345.48,190.83 344.40,193.00 C343.32,195.17 340.27,196.67 339.00,199.00 C337.73,201.33 337.68,204.45 336.80,207.00 C335.92,209.55 335.00,212.05 333.70,214.30 C332.40,216.55 330.78,218.97 329.00,220.50 C327.22,222.03 325.00,223.17 323.00,223.50 C321.00,223.83 318.50,223.50 317.00,222.50 C315.50,221.50 315.00,219.33 314.00,217.50 C313.00,215.67 311.93,213.30 311.00,211.50 C310.07,209.70 309.23,208.28 308.40,206.70 C307.57,205.12 306.90,203.78 306.00,202.00 C305.10,200.22 303.92,198.08 303.00,196.00 C302.08,193.92 301.75,191.17 300.50,189.50 C299.25,187.83 296.83,187.92 295.50,186.00 C294.17,184.08 293.33,180.67 292.50,178.00 C291.67,175.33 291.00,172.83 290.50,170.00 C290.00,167.17 289.82,164.00 289.50,161.00 C289.18,158.00 288.97,154.92 288.60,152.00 C288.23,149.08 288.37,145.67 287.30,143.50 C286.23,141.33 283.50,140.42 282.20,139.00 C280.90,137.58 279.67,136.70 279.50,135.00 C279.33,133.30 279.55,131.20 281.20,128.80 C282.85,126.40 288.55,123.67 289.40,120.60 C290.25,117.53 286.98,113.47 286.30,110.40 C285.62,107.33 284.62,103.90 285.30,102.20 C285.98,100.50 288.53,101.22 290.40,100.20 C292.27,99.18 294.45,97.47 296.50,96.10 C298.55,94.73 301.30,94.30 302.70,92.00Z"/></clipPath><g clip-path="url(#cp202)"><g filter="url(#b03)"><path d="M350.32,84.72 C349.75,84.39 347.91,83.84 346.89,82.78 C345.86,81.72 344.62,79.10 344.17,78.37" fill="none" stroke="#9c9892" stroke-width="0.6" opacity="0.4"/><path d="M372.40,117.56 C372.88,117.44 374.30,116.79 375.26,116.87 C376.22,116.95 378.15,117.37 378.17,118.04 C378.20,118.71 375.87,120.42 375.42,120.89" fill="none" stroke="#9c9892" stroke-width="0.6" opacity="0.4"/><path d="M360.26,220.03 C360.04,219.72 359.25,218.94 358.94,218.16 C358.63,217.39 358.50,215.84 358.41,215.37" fill="none" stroke="#9c9892" stroke-width="0.6" opacity="0.4"/><path d="M345.78,187.58 C345.37,188.07 344.12,190.19 343.32,190.51 C342.51,190.83 341.64,190.10 340.95,189.50 C340.25,188.90 338.65,187.51 339.15,186.92 C339.65,186.32 343.14,186.08 343.94,185.91" fill="none" stroke="#9c9892" stroke-width="0.6" opacity="0.4"/><path d="M382.58,116.64 C382.99,116.24 384.37,114.82 385.07,114.26 C385.77,113.71 385.71,113.66 386.80,113.32 C387.89,112.97 390.81,111.60 391.62,112.17 C392.43,112.74 391.47,115.56 391.67,116.73 C391.88,117.91 392.66,118.80 392.86,119.22" fill="none" stroke="#9c9892" stroke-width="0.6" opacity="0.4"/><path d="M384.91,86.17 C384.42,86.10 382.35,86.05 381.98,85.75 C381.61,85.45 382.73,84.87 382.68,84.38 C382.63,83.90 381.41,83.14 381.67,82.85 C381.94,82.55 383.61,82.67 384.26,82.60 C384.90,82.53 385.19,82.17 385.52,82.42 C385.85,82.67 386.12,83.81 386.24,84.08" fill="none" stroke="#9c9892" stroke-width="0.6" opacity="0.4"/><path d="M355.56,108.23 C354.87,108.30 352.77,108.68 351.41,108.67 C350.06,108.66 348.06,108.88 347.45,108.15 C346.83,107.42 347.36,105.15 347.71,104.30 C348.06,103.46 348.13,103.35 349.56,103.09 C350.99,102.83 354.93,102.39 356.28,102.73 C357.62,103.07 357.40,104.73 357.63,105.13" fill="none" stroke="#9c9892" stroke-width="0.6" opacity="0.4"/><path d="M304.30,202.53 C303.91,202.42 302.38,202.61 301.98,201.85 C301.59,201.10 301.91,199.22 301.92,198.02 C301.93,196.81 301.65,195.55 302.05,194.63 C302.45,193.71 303.05,192.69 304.33,192.49 C305.62,192.28 308.85,193.26 309.75,193.42" fill="none" stroke="#9c9892" stroke-width="0.6" opacity="0.4"/><path d="M326.36,126.38 C325.82,125.62 322.52,123.04 323.11,121.82 C323.71,120.59 328.09,119.33 329.95,119.03 C331.81,118.74 333.56,119.89 334.28,120.06" fill="none" stroke="#9c9892" stroke-width="0.6" opacity="0.4"/><path d="M291.73,155.19 C291.61,155.50 292.02,156.80 290.99,157.06 C289.96,157.31 286.86,157.62 285.56,156.72 C284.25,155.81 283.55,152.48 283.15,151.63" fill="none" stroke="#9c9892" stroke-width="0.6" opacity="0.4"/><path d="M320.42,112.99 C320.57,113.39 321.48,114.70 321.28,115.41 C321.09,116.13 319.60,116.95 319.26,117.26" fill="none" stroke="#9c9892" stroke-width="0.6" opacity="0.4"/><path d="M341.35,101.99 C342.24,101.80 345.40,100.43 346.67,100.84 C347.94,101.25 348.94,103.08 348.95,104.45 C348.96,105.82 347.82,108.50 346.73,109.06 C345.64,109.62 343.76,108.38 342.41,107.81 C341.07,107.23 339.29,105.96 338.67,105.59" fill="none" stroke="#9c9892" stroke-width="0.6" opacity="0.4"/><path d="M398.51,92.91 C398.57,92.35 398.15,90.52 398.89,89.56 C399.63,88.61 401.63,86.98 402.94,87.18 C404.25,87.38 406.72,89.25 406.73,90.75 C406.75,92.26 403.67,95.30 403.05,96.21" fill="none" stroke="#9c9892" stroke-width="0.6" opacity="0.4"/><path d="M384.09,99.45 C384.13,99.06 384.01,97.95 384.29,97.08 C384.57,96.22 384.95,94.55 385.77,94.25 C386.59,93.95 388.23,94.50 389.22,95.28 C390.22,96.06 391.32,98.34 391.74,98.95" fill="none" stroke="#9c9892" stroke-width="0.6" opacity="0.4"/><path d="M334.74,194.85 C335.27,195.62 337.90,198.36 337.94,199.45 C337.97,200.55 336.16,201.14 334.94,201.43 C333.73,201.73 331.36,201.26 330.65,201.22" fill="none" stroke="#9c9892" stroke-width="0.6" opacity="0.4"/><path d="M368.51,110.79 C368.67,110.46 369.05,109.62 369.48,108.79 C369.90,107.97 370.01,106.11 371.05,105.82 C372.09,105.53 374.32,105.95 375.72,107.06 C377.13,108.18 379.18,111.20 379.49,112.52 C379.80,113.85 378.99,114.49 377.58,115.02 C376.17,115.55 372.12,115.59 371.02,115.70" fill="none" stroke="#9c9892" stroke-width="0.6" opacity="0.4"/><path d="M400.28,124.85 C400.55,125.10 401.33,125.79 401.94,126.34 C402.56,126.89 403.62,127.85 403.96,128.15" fill="none" stroke="#9c9892" stroke-width="0.6" opacity="0.4"/><path d="M392.49,88.35 C392.89,88.24 394.47,87.55 394.89,87.73 C395.31,87.92 395.01,88.94 395.01,89.44 C395.01,89.94 395.33,90.52 394.88,90.75 C394.43,90.99 392.74,90.84 392.32,90.85" fill="none" stroke="#9c9892" stroke-width="0.6" opacity="0.4"/><path d="M386.94,95.33 C387.71,95.25 390.25,94.37 391.60,94.83 C392.94,95.29 394.44,97.55 395.00,98.10" fill="none" stroke="#9c9892" stroke-width="0.6" opacity="0.4"/><path d="M337.40,87.78 C337.36,87.33 336.41,85.49 337.16,85.08 C337.91,84.68 341.12,84.88 341.92,85.35 C342.72,85.82 341.96,87.48 341.96,87.90" fill="none" stroke="#9c9892" stroke-width="0.6" opacity="0.4"/><path d="M316.26,167.76 C315.81,167.52 315.01,166.67 313.60,166.30 C312.20,165.92 308.88,166.51 307.84,165.49 C306.79,164.47 307.40,161.08 307.32,160.20" fill="none" stroke="#9c9892" stroke-width="0.6" opacity="0.4"/><path d="M370.23,210.01 C369.73,210.13 367.79,210.84 367.22,210.75 C366.66,210.66 366.96,210.09 366.86,209.46 C366.75,208.83 366.40,207.51 366.59,206.99 C366.79,206.47 367.28,206.56 368.03,206.33 C368.78,206.10 370.45,205.36 371.10,205.60 C371.75,205.84 371.80,207.40 371.94,207.76" fill="none" stroke="#9c9892" stroke-width="0.6" opacity="0.4"/><path d="M408.99,102.46 C409.52,103.07 412.29,105.10 412.17,106.14 C412.06,107.17 408.93,108.23 408.28,108.65" fill="none" stroke="#9c9892" stroke-width="0.6" opacity="0.4"/><path d="M380.24,108.20 C380.31,107.80 379.99,106.39 380.65,105.81 C381.30,105.23 383.26,104.57 384.15,104.71 C385.04,104.84 385.97,105.89 385.99,106.60 C386.02,107.32 384.60,108.59 384.32,108.99" fill="none" stroke="#9c9892" stroke-width="0.6" opacity="0.4"/><path d="M302.68,190.35 C303.59,191.29 307.98,194.73 308.14,195.98 C308.30,197.24 304.39,197.57 303.64,197.89" fill="none" stroke="#9c9892" stroke-width="0.6" opacity="0.4"/><path d="M362.93,130.65 C363.50,130.40 364.95,128.56 366.36,129.15 C367.76,129.74 370.81,132.74 371.35,134.19 C371.89,135.63 370.92,137.39 369.60,137.81 C368.27,138.24 365.09,137.64 363.41,136.71 C361.72,135.78 360.14,132.98 359.49,132.23" fill="none" stroke="#9c9892" stroke-width="0.6" opacity="0.4"/><path d="M328.84,106.29 C329.09,106.47 330.30,106.89 330.33,107.38 C330.36,107.86 329.67,108.77 328.99,109.17 C328.31,109.56 326.73,109.65 326.27,109.74" fill="none" stroke="#9c9892" stroke-width="0.6" opacity="0.4"/><path d="M298.80,141.10 C298.41,140.52 296.77,138.74 296.47,137.59 C296.17,136.45 296.70,135.18 297.00,134.20 C297.30,133.23 298.05,132.16 298.27,131.75" fill="none" stroke="#9c9892" stroke-width="0.6" opacity="0.4"/><path d="M403.97,97.67 C404.00,98.00 404.33,99.18 404.17,99.68 C404.01,100.18 403.57,100.37 402.99,100.67 C402.41,100.98 401.08,101.37 400.70,101.51" fill="none" stroke="#9c9892" stroke-width="0.6" opacity="0.4"/><path d="M374.13,157.78 C374.73,157.81 376.75,157.54 377.73,157.96 C378.71,158.38 380.10,159.59 379.99,160.30 C379.88,161.01 377.56,161.92 377.08,162.25" fill="none" stroke="#9c9892" stroke-width="0.6" opacity="0.4"/></g></g>
<g filter="url(#b12)" opacity="0.55"><ellipse cx="341" cy="165.5" rx="7" ry="4" fill="#9d978f"/><ellipse cx="348" cy="164.5" rx="4" ry="2.5" fill="#9d978f"/><ellipse cx="359.5" cy="148.5" rx="3" ry="4.5" fill="#9d978f"/><ellipse cx="386" cy="152" rx="4" ry="3" fill="#9d978f"/><ellipse cx="300" cy="150" rx="2.5" ry="3" fill="#9d978f"/><ellipse cx="318" cy="160" rx="3" ry="2.5" fill="#9d978f"/><ellipse cx="327" cy="195" rx="2.5" ry="3.5" fill="#9d978f"/><ellipse cx="360" cy="138" rx="3" ry="2.5" fill="#9d978f"/></g>
<g opacity="0.84" style="mix-blend-mode:multiply" filter="url(#b03)"><path d="M301.70,90.80 C303.15,87.97 306.72,88.88 310.40,89.20 C314.08,89.52 319.95,91.15 323.80,92.70 C327.65,94.25 330.30,96.28 333.50,98.50 C336.70,100.72 339.80,105.00 343.00,106.00 C346.20,107.00 349.48,104.83 352.70,104.50 C355.92,104.17 358.45,104.00 362.30,104.00 C366.15,104.00 372.12,104.08 375.80,104.50 C379.48,104.92 382.80,103.98 384.40,106.50 C386.00,109.02 385.55,115.17 385.40,119.60 C385.25,124.03 385.75,129.42 383.50,133.10 C381.25,136.78 376.07,139.78 371.90,141.70 C367.73,143.62 362.67,144.43 358.50,144.60 C354.33,144.77 350.12,144.30 346.90,142.70 C343.68,141.10 341.43,137.57 339.20,135.00 C336.97,132.43 336.38,128.75 333.50,127.30 C330.62,125.85 325.75,126.78 321.90,126.30 C318.05,125.82 313.43,125.52 310.40,124.40 C307.37,123.28 305.15,122.63 303.70,119.60 C302.25,116.57 302.03,111.00 301.70,106.20 C301.37,101.40 300.25,93.63 301.70,90.80Z" fill="#d28a8a"/><circle cx="304.1" cy="101.4" r="2.9" fill="#d28a8a"/><circle cx="356.4" cy="142.0" r="4.0" fill="#d28a8a"/><circle cx="357.1" cy="122.1" r="2.8" fill="#d28a8a"/><circle cx="367.9" cy="132.7" r="3.7" fill="#d28a8a"/><circle cx="304.8" cy="111.2" r="4.2" fill="#d28a8a"/><circle cx="344.6" cy="115.0" r="4.7" fill="#d28a8a"/><circle cx="359.5" cy="139.8" r="4.2" fill="#d28a8a"/><circle cx="332.2" cy="120.1" r="4.2" fill="#d28a8a"/><circle cx="350.7" cy="138.2" r="5.5" fill="#d28a8a"/><circle cx="362.4" cy="119.4" r="3.3" fill="#d28a8a"/><circle cx="380.7" cy="113.2" r="5.5" fill="#d28a8a"/><circle cx="383.6" cy="126.8" r="2.6" fill="#d28a8a"/><circle cx="359.3" cy="125.7" r="4.0" fill="#d28a8a"/><circle cx="382.5" cy="119.1" r="4.4" fill="#d28a8a"/><circle cx="345.2" cy="129.1" r="3.1" fill="#d28a8a"/><circle cx="356.8" cy="121.5" r="2.8" fill="#d28a8a"/><circle cx="361.0" cy="105.9" r="3.6" fill="#d28a8a"/><circle cx="371.0" cy="110.1" r="4.8" fill="#d28a8a"/><circle cx="306.7" cy="101.6" r="5.8" fill="#d28a8a"/><circle cx="323.5" cy="99.8" r="4.6" fill="#d28a8a"/><circle cx="326.0" cy="102.6" r="3.5" fill="#d28a8a"/><circle cx="326.1" cy="107.0" r="3.0" fill="#d28a8a"/><circle cx="331.2" cy="117.1" r="5.6" fill="#d28a8a"/><circle cx="317.1" cy="116.2" r="5.1" fill="#d28a8a"/><circle cx="363.1" cy="129.8" r="4.2" fill="#d28a8a"/><circle cx="309.8" cy="89.4" r="1.9" fill="#d28a8a"/><circle cx="337.5" cy="112.3" r="3.1" fill="#d28a8a"/><circle cx="374.9" cy="129.4" r="4.8" fill="#d28a8a"/><circle cx="321.3" cy="103.4" r="2.8" fill="#d28a8a"/><circle cx="333.0" cy="98.6" r="2.2" fill="#d28a8a"/><circle cx="345.4" cy="139.1" r="3.3" fill="#d28a8a"/><circle cx="313.1" cy="102.9" r="2.5" fill="#d28a8a"/><circle cx="379.9" cy="111.8" r="3.2" fill="#d28a8a"/><circle cx="339.9" cy="135.4" r="2.0" fill="#d28a8a"/><circle cx="378.2" cy="109.0" r="5.7" fill="#d28a8a"/><circle cx="375.6" cy="118.8" r="4.8" fill="#d28a8a"/><circle cx="360.1" cy="140.7" r="5.2" fill="#d28a8a"/><circle cx="341.6" cy="126.2" r="3.5" fill="#d28a8a"/><circle cx="313.5" cy="116.0" r="4.4" fill="#d28a8a"/><circle cx="354.0" cy="128.4" r="3.9" fill="#d28a8a"/><circle cx="359.2" cy="124.4" r="3.8" fill="#d28a8a"/><circle cx="366.6" cy="108.0" r="5.7" fill="#d28a8a"/><circle cx="360.7" cy="126.5" r="4.9" fill="#d28a8a"/><circle cx="358.0" cy="143.4" r="2.9" fill="#d28a8a"/><circle cx="376.1" cy="132.4" r="3.7" fill="#d28a8a"/><circle cx="365.2" cy="107.9" r="3.8" fill="#d28a8a"/><circle cx="336.9" cy="106.9" r="4.1" fill="#d28a8a"/><circle cx="327.9" cy="123.7" r="4.9" fill="#d28a8a"/><circle cx="371.5" cy="129.9" r="3.5" fill="#d28a8a"/><circle cx="334.5" cy="104.7" r="4.1" fill="#d28a8a"/></g>
<clipPath id="cBr2"><path d="M301.70,90.80 C303.15,87.97 306.72,88.88 310.40,89.20 C314.08,89.52 319.95,91.15 323.80,92.70 C327.65,94.25 330.30,96.28 333.50,98.50 C336.70,100.72 339.80,105.00 343.00,106.00 C346.20,107.00 349.48,104.83 352.70,104.50 C355.92,104.17 358.45,104.00 362.30,104.00 C366.15,104.00 372.12,104.08 375.80,104.50 C379.48,104.92 382.80,103.98 384.40,106.50 C386.00,109.02 385.55,115.17 385.40,119.60 C385.25,124.03 385.75,129.42 383.50,133.10 C381.25,136.78 376.07,139.78 371.90,141.70 C367.73,143.62 362.67,144.43 358.50,144.60 C354.33,144.77 350.12,144.30 346.90,142.70 C343.68,141.10 341.43,137.57 339.20,135.00 C336.97,132.43 336.38,128.75 333.50,127.30 C330.62,125.85 325.75,126.78 321.90,126.30 C318.05,125.82 313.43,125.52 310.40,124.40 C307.37,123.28 305.15,122.63 303.70,119.60 C302.25,116.57 302.03,111.00 301.70,106.20 C301.37,101.40 300.25,93.63 301.70,90.80Z"/></clipPath>
<g clip-path="url(#cBr2)"><g filter="url(#b08)"><ellipse cx="339.8" cy="109.7" rx="2.4" ry="3.2" fill="#f2c4c4" opacity="0.45"/><ellipse cx="300.6" cy="117.2" rx="4.7" ry="1.6" fill="#f2c4c4" opacity="0.45"/><ellipse cx="347.7" cy="123.8" rx="2.1" ry="2.2" fill="#f2c4c4" opacity="0.45"/><ellipse cx="360.5" cy="114.2" rx="4.2" ry="1.7" fill="#f2c4c4" opacity="0.45"/><ellipse cx="320.5" cy="94.4" rx="3.5" ry="3.3" fill="#f2c4c4" opacity="0.45"/><ellipse cx="350.8" cy="132.9" rx="3.2" ry="3.0" fill="#f2c4c4" opacity="0.45"/><ellipse cx="308.7" cy="104.9" rx="4.0" ry="2.9" fill="#f2c4c4" opacity="0.45"/><ellipse cx="336.3" cy="93.1" rx="2.8" ry="1.8" fill="#f2c4c4" opacity="0.45"/><ellipse cx="324.2" cy="135.0" rx="2.6" ry="3.3" fill="#f2c4c4" opacity="0.45"/><ellipse cx="375.6" cy="91.2" rx="3.1" ry="2.4" fill="#f2c4c4" opacity="0.45"/><ellipse cx="302.0" cy="112.6" rx="4.7" ry="1.6" fill="#f2c4c4" opacity="0.45"/><ellipse cx="351.3" cy="95.0" rx="3.7" ry="3.3" fill="#f2c4c4" opacity="0.45"/><ellipse cx="317.5" cy="88.5" rx="2.3" ry="2.5" fill="#f2c4c4" opacity="0.45"/><ellipse cx="301.5" cy="92.9" rx="3.5" ry="3.3" fill="#f2c4c4" opacity="0.45"/><ellipse cx="349.1" cy="112.9" rx="2.9" ry="1.4" fill="#b04848" opacity="0.35"/><ellipse cx="369.9" cy="135.8" rx="3.1" ry="1.3" fill="#b04848" opacity="0.35"/><ellipse cx="344.8" cy="107.0" rx="2.1" ry="2.7" fill="#b04848" opacity="0.35"/><ellipse cx="385.7" cy="90.6" rx="3.7" ry="2.1" fill="#b04848" opacity="0.35"/><ellipse cx="332.8" cy="104.4" rx="3.2" ry="1.8" fill="#b04848" opacity="0.35"/><ellipse cx="359.0" cy="126.4" rx="1.8" ry="2.4" fill="#b04848" opacity="0.35"/><ellipse cx="384.5" cy="144.2" rx="3.0" ry="1.1" fill="#b04848" opacity="0.35"/><ellipse cx="300.3" cy="95.8" rx="3.9" ry="1.6" fill="#b04848" opacity="0.35"/><ellipse cx="331.5" cy="140.1" rx="2.3" ry="2.0" fill="#b04848" opacity="0.35"/><ellipse cx="337.5" cy="91.8" rx="3.0" ry="2.5" fill="#b04848" opacity="0.35"/></g></g>
<path d="M308.50,110.00 C308.65,109.03 308.28,105.55 309.40,104.20 C310.52,102.85 312.60,101.35 315.20,101.90 C317.80,102.45 321.70,105.48 325.00,107.50 C328.30,109.52 332.00,111.98 335.00,114.00 C338.00,116.02 341.67,118.67 343.00,119.60" fill="none" stroke="#8c0d18" stroke-width="2.8" stroke-linecap="round" stroke-linejoin="round" opacity="1.0" filter="url(#b03)"/>
<path d="M309.00,112.00 C310.50,112.17 314.83,112.17 318.00,113.00 C321.17,113.83 324.67,115.50 328.00,117.00 C331.33,118.50 336.33,121.17 338.00,122.00" fill="none" stroke="#a52a2a" stroke-width="1.6" stroke-linecap="round" stroke-linejoin="round" opacity="0.75" filter="url(#b03)"/>
<path d="M316.00,125.40 C316.67,125.23 319.33,124.57 320.00,124.40" fill="none" stroke="#8c0d18" stroke-width="1.5" stroke-linecap="round" stroke-linejoin="round" opacity="1.0" filter="url(#b03)"/>
<path d="M345.00,120.60 C345.97,121.88 348.88,126.87 350.80,128.30 C352.72,129.73 355.22,130.00 356.50,129.20 C357.78,128.40 357.85,125.25 358.50,123.50 C359.15,121.75 359.45,119.67 360.40,118.70 C361.35,117.73 362.92,117.23 364.20,117.70 C365.48,118.17 367.77,120.07 368.10,121.50 C368.43,122.93 367.17,124.85 366.20,126.30 C365.23,127.75 363.12,128.92 362.30,130.20 C361.48,131.48 362.27,133.37 361.30,134.00 C360.33,134.63 357.30,134.00 356.50,134.00" fill="none" stroke="#8c0d18" stroke-width="1.2" stroke-linecap="round" stroke-linejoin="round" opacity="1.0" filter="url(#b03)"/>
<path d="M368.00,119.60 C368.67,119.25 370.70,118.13 372.00,117.50 C373.30,116.87 374.85,116.72 375.80,115.80 C376.75,114.88 377.55,112.97 377.70,112.00 C377.85,111.03 376.87,110.33 376.70,110.00" fill="none" stroke="#8c0d18" stroke-width="1.2" stroke-linecap="round" stroke-linejoin="round" opacity="1.0" filter="url(#b03)"/>
<path d="M340.00,130.00 C341.00,131.00 344.00,134.33 346.00,136.00 C348.00,137.67 351.00,139.33 352.00,140.00" fill="none" stroke="#a52a2a" stroke-width="1.0" stroke-linecap="round" stroke-linejoin="round" opacity="0.7" filter="url(#b03)"/>
<line x1="163.80" y1="92.50" x2="205.80" y2="90.20" stroke="#2b2b2b" stroke-width="0.8" />
<text x="210.10" y="91.00" font-size="6.5" fill="#231f20">70-loop<tspan font-size="4.3" dy="1.6">CT</tspan></text>
<line x1="187.00" y1="101.50" x2="205.60" y2="104.60" stroke="#2b2b2b" stroke-width="0.8" />
<text x="206.90" y="110.90" font-size="6.5" fill="#231f20">148-loop<tspan font-size="4.3" dy="1.6">CT</tspan></text>
<line x1="191.70" y1="131.50" x2="227.30" y2="128.20" stroke="#2b2b2b" stroke-width="0.8" />
<text x="228.80" y="130.20" font-size="6.5" fill="#231f20">186-loop<tspan font-size="4.3" dy="1.6">CT</tspan></text>
<line x1="207.30" y1="135.80" x2="214.00" y2="164.60" stroke="#2b2b2b" stroke-width="0.8" />
<text x="205.00" y="169.70" font-size="6.5" fill="#231f20">170-loop<tspan font-size="4.3" dy="1.6">CT</tspan></text>
<line x1="181.90" y1="134.80" x2="191.00" y2="172.30" stroke="#2b2b2b" stroke-width="0.8" />
<text x="190.40" y="178.70" font-size="6.5" fill="#231f20">99-loop<tspan font-size="4.3" dy="1.6">CT</tspan></text>
<line x1="168.80" y1="160.80" x2="174.60" y2="185.80" stroke="#2b2b2b" stroke-width="0.8" />
<text x="168.50" y="190.20" font-size="6.5" fill="#231f20">helix 126-132<tspan font-size="4.3" dy="1.6">CT</tspan></text>
<line x1="146.70" y1="150.20" x2="158.30" y2="197.30" stroke="#2b2b2b" stroke-width="0.8" />
<text x="156.30" y="203.00" font-size="6.5" fill="#231f20">helix 236-240<tspan font-size="4.3" dy="1.6">CT</tspan></text>
<line x1="372.30" y1="102.50" x2="389.60" y2="105.40" stroke="#2b2b2b" stroke-width="0.8" />
<text x="391.20" y="111.40" font-size="6.5" fill="#231f20">148-loop<tspan font-size="4.3" dy="1.6">CT</tspan></text>
<line x1="391.20" y1="136.70" x2="397.90" y2="164.60" stroke="#2b2b2b" stroke-width="0.8" />
<text x="390.20" y="170.30" font-size="6.5" fill="#231f20">170-loop<tspan font-size="4.3" dy="1.6">CT</tspan></text>
<line x1="366.20" y1="133.80" x2="374.80" y2="173.30" stroke="#2b2b2b" stroke-width="0.8" />
<text x="373.50" y="179.30" font-size="6.5" fill="#231f20">99-loop<tspan font-size="4.3" dy="1.6">CT</tspan></text>
<line x1="351.70" y1="161.70" x2="359.40" y2="185.80" stroke="#2b2b2b" stroke-width="0.8" />
<text x="354.60" y="190.50" font-size="6.5" fill="#231f20">helix 126-132<tspan font-size="4.3" dy="1.6">CT</tspan></text>
<line x1="331.50" y1="151.20" x2="342.10" y2="197.30" stroke="#2b2b2b" stroke-width="0.8" />
<text x="340.20" y="203.40" font-size="6.5" fill="#231f20">helix 236-240<tspan font-size="4.3" dy="1.6">CT</tspan></text>
<rect x="129.50" y="6.9" width="48.6" height="50.4" fill="#fff" stroke="#2a2a2a" stroke-width="1"/>
<rect x="129.50" y="44.3" width="48.6" height="13" fill="#8a3434" stroke="#2a2a2a" stroke-width="1"/>
<text x="153.80" y="16.40" font-size="6.8" fill="#231f20" text-anchor="middle" >Prominent</text>
<text x="153.80" y="24.10" font-size="6.8" fill="#231f20" text-anchor="middle" >reduction in</text>
<text x="153.80" y="31.80" font-size="6.8" fill="#231f20" text-anchor="middle" >deuterium</text>
<text x="153.80" y="39.50" font-size="6.8" fill="#231f20" text-anchor="middle" >uptake</text>
<rect x="182.50" y="6.9" width="48.6" height="50.4" fill="#fff" stroke="#2a2a2a" stroke-width="1"/>
<rect x="182.50" y="44.3" width="48.6" height="13" fill="#ebd05e" stroke="#2a2a2a" stroke-width="1"/>
<text x="206.80" y="16.40" font-size="6.8" fill="#231f20" text-anchor="middle" >Moderate</text>
<text x="206.80" y="24.10" font-size="6.8" fill="#231f20" text-anchor="middle" >reduction in</text>
<text x="206.80" y="31.80" font-size="6.8" fill="#231f20" text-anchor="middle" >deuterium</text>
<text x="206.80" y="39.50" font-size="6.8" fill="#231f20" text-anchor="middle" >uptake</text>
<rect x="236.00" y="6.9" width="48.6" height="50.4" fill="#fff" stroke="#2a2a2a" stroke-width="1"/>
<rect x="236.00" y="44.3" width="48.6" height="13" fill="#d9d9d9" stroke="#2a2a2a" stroke-width="1"/>
<text x="260.30" y="28.30" font-size="6.8" fill="#231f20" text-anchor="middle" >No change</text>
<rect x="288.80" y="6.9" width="48.6" height="50.4" fill="#fff" stroke="#2a2a2a" stroke-width="1"/>
<rect x="288.80" y="44.3" width="48.6" height="13" fill="#67793f" stroke="#2a2a2a" stroke-width="1"/>
<text x="313.10" y="16.40" font-size="6.8" fill="#231f20" text-anchor="middle" >Moderate</text>
<text x="313.10" y="24.10" font-size="6.8" fill="#231f20" text-anchor="middle" >increase in</text>
<text x="313.10" y="31.80" font-size="6.8" fill="#231f20" text-anchor="middle" >Deuterium</text>
<text x="313.10" y="39.50" font-size="6.8" fill="#231f20" text-anchor="middle" >uptake</text>
<rect x="341.80" y="6.9" width="48.6" height="50.4" fill="#fff" stroke="#2a2a2a" stroke-width="1"/>
<rect x="341.80" y="44.3" width="48.6" height="13" fill="#2b2d88" stroke="#2a2a2a" stroke-width="1"/>
<text x="366.10" y="16.40" font-size="6.8" fill="#231f20" text-anchor="middle" >Prominent</text>
<text x="366.10" y="24.10" font-size="6.8" fill="#231f20" text-anchor="middle" >increase in</text>
<text x="366.10" y="31.80" font-size="6.8" fill="#231f20" text-anchor="middle" >Deuterium</text>
<text x="366.10" y="39.50" font-size="6.8" fill="#231f20" text-anchor="middle" >uptake</text>
<text x="89.60" y="82.80" font-size="11.2" fill="#111" font-weight="bold" textLength="8.40" lengthAdjust="spacingAndGlyphs" >A</text>
<text x="276.00" y="82.90" font-size="11.6" fill="#111" font-weight="bold" textLength="7.10" lengthAdjust="spacingAndGlyphs" >B</text>
<text x="6.80" y="257.60" font-size="12.3" fill="#111" font-weight="bold" textLength="7.30" lengthAdjust="spacingAndGlyphs" >C</text>
<text x="94.20" y="252.90" font-size="6.5" fill="#231f20" text-anchor="middle" textLength="56.50" lengthAdjust="spacingAndGlyphs" >EGF-2/EGF-1 hinge</text>
<text x="52.90" y="263.50" font-size="4.9" fill="#231f20" textLength="3.40" lengthAdjust="spacingAndGlyphs" class="sp">99</text>
<text x="56.70" y="266.30" font-size="6.8" fill="#231f20" textLength="72.50" lengthAdjust="spacingAndGlyphs" >FCKNSADNKVVCSCTEG</text>
<text x="129.80" y="263.50" font-size="4.9" fill="#231f20" textLength="6.60" lengthAdjust="spacingAndGlyphs" class="sp">144</text>
<line x1="29.10" y1="280.00" x2="29.10" y2="332.50" stroke="#231f20" stroke-width="1.45" />
<line x1="25.30" y1="282.30" x2="29.10" y2="282.30" stroke="#231f20" stroke-width="0.9" />
<text x="23.50" y="284.50" font-size="6.4" fill="#231f20" text-anchor="end" class="tk">8</text>
<line x1="25.30" y1="294.40" x2="29.10" y2="294.40" stroke="#231f20" stroke-width="0.9" />
<text x="23.50" y="296.60" font-size="6.4" fill="#231f20" text-anchor="end" class="tk">6</text>
<line x1="25.30" y1="306.90" x2="29.10" y2="306.90" stroke="#231f20" stroke-width="0.9" />
<text x="23.50" y="309.10" font-size="6.4" fill="#231f20" text-anchor="end" class="tk">4</text>
<line x1="25.30" y1="319.00" x2="29.10" y2="319.00" stroke="#231f20" stroke-width="0.9" />
<text x="23.50" y="321.20" font-size="6.4" fill="#231f20" text-anchor="end" class="tk">2</text>
<line x1="25.30" y1="331.30" x2="29.10" y2="331.30" stroke="#231f20" stroke-width="0.9" />
<text x="23.50" y="333.50" font-size="6.4" fill="#231f20" text-anchor="end" class="tk">0</text>
<line x1="25.30" y1="331.80" x2="85.00" y2="331.80" stroke="#231f20" stroke-width="1.45" />
<line x1="30.60" y1="331.80" x2="30.60" y2="334.10" stroke="#231f20" stroke-width="0.9" />
<line x1="46.16" y1="331.80" x2="46.16" y2="333.20" stroke="#231f20" stroke-width="0.9" />
<line x1="55.27" y1="331.80" x2="55.27" y2="334.10" stroke="#231f20" stroke-width="0.9" />
<line x1="61.73" y1="331.80" x2="61.73" y2="333.20" stroke="#231f20" stroke-width="0.9" />
<line x1="66.74" y1="331.80" x2="66.74" y2="333.20" stroke="#231f20" stroke-width="0.9" />
<line x1="70.83" y1="331.80" x2="70.83" y2="333.20" stroke="#231f20" stroke-width="0.9" />
<line x1="74.29" y1="331.80" x2="74.29" y2="333.20" stroke="#231f20" stroke-width="0.9" />
<line x1="77.29" y1="331.80" x2="77.29" y2="333.20" stroke="#231f20" stroke-width="0.9" />
<line x1="79.93" y1="331.80" x2="79.93" y2="333.20" stroke="#231f20" stroke-width="0.9" />
<line x1="82.30" y1="331.80" x2="82.30" y2="334.10" stroke="#231f20" stroke-width="0.9" />
<text x="30.60" y="342.00" font-size="6.4" fill="#231f20" text-anchor="middle" class="tk">10</text>
<text x="55.27" y="342.00" font-size="6.4" fill="#231f20" text-anchor="middle" class="tk">30</text>
<text x="82.30" y="342.00" font-size="6.4" fill="#231f20" text-anchor="middle" class="tk">100</text>
<polyline points="30.60,306.50 55.40,304.50 82.30,302.30" fill="none" stroke="#df9580" stroke-width="1.15" stroke-linejoin="round"/>
<line x1="30.60" y1="303.00" x2="30.60" y2="311.30" stroke="#df9580" stroke-width="0.8" />
<line x1="29.50" y1="303.00" x2="31.70" y2="303.00" stroke="#df9580" stroke-width="0.8" />
<line x1="29.50" y1="311.30" x2="31.70" y2="311.30" stroke="#df9580" stroke-width="0.8" />
<line x1="55.40" y1="301.00" x2="55.40" y2="309.00" stroke="#df9580" stroke-width="0.8" />
<line x1="54.30" y1="301.00" x2="56.50" y2="301.00" stroke="#df9580" stroke-width="0.8" />
<line x1="54.30" y1="309.00" x2="56.50" y2="309.00" stroke="#df9580" stroke-width="0.8" />
<line x1="82.30" y1="292.30" x2="82.30" y2="309.80" stroke="#df9580" stroke-width="0.8" />
<line x1="81.20" y1="292.30" x2="83.40" y2="292.30" stroke="#df9580" stroke-width="0.8" />
<line x1="81.20" y1="309.80" x2="83.40" y2="309.80" stroke="#df9580" stroke-width="0.8" />
<polyline points="30.60,305.60 55.40,303.50 82.30,301.50" fill="none" stroke="#b0153e" stroke-width="1.75" stroke-linejoin="round"/>
<line x1="30.60" y1="303.50" x2="30.60" y2="308.00" stroke="#b0153e" stroke-width="1.0" />
<line x1="29.50" y1="303.50" x2="31.70" y2="303.50" stroke="#b0153e" stroke-width="1.0" />
<line x1="29.50" y1="308.00" x2="31.70" y2="308.00" stroke="#b0153e" stroke-width="1.0" />
<line x1="55.40" y1="301.30" x2="55.40" y2="308.50" stroke="#b0153e" stroke-width="1.0" />
<line x1="54.30" y1="301.30" x2="56.50" y2="301.30" stroke="#b0153e" stroke-width="1.0" />
<line x1="54.30" y1="308.50" x2="56.50" y2="308.50" stroke="#b0153e" stroke-width="1.0" />
<line x1="82.30" y1="299.40" x2="82.30" y2="304.40" stroke="#b0153e" stroke-width="1.0" />
<line x1="81.20" y1="299.40" x2="83.40" y2="299.40" stroke="#b0153e" stroke-width="1.0" />
<line x1="81.20" y1="304.40" x2="83.40" y2="304.40" stroke="#b0153e" stroke-width="1.0" />
<text x="56.95" y="354.60" font-size="8.2" fill="#231f20" text-anchor="middle" textLength="30.00" lengthAdjust="spacingAndGlyphs" >Time (sec)</text>
<text x="13.60" y="305.40" font-size="8.2" fill="#231f20" text-anchor="middle" textLength="64.30" lengthAdjust="spacingAndGlyphs" transform="rotate(-90 13.60 305.40)" >Number of deuterons</text>
<line x1="93.30" y1="277.90" x2="93.30" y2="331.80" stroke="#2a2a2a" stroke-width="1.3" stroke-dasharray="3.1 2.3" stroke-dashoffset="1.7"/>
<line x1="91.60" y1="331.80" x2="160.10" y2="331.80" stroke="#231f20" stroke-width="1.45" />
<line x1="97.40" y1="331.80" x2="97.40" y2="334.10" stroke="#231f20" stroke-width="0.9" />
<line x1="113.60" y1="331.80" x2="113.60" y2="333.20" stroke="#231f20" stroke-width="0.9" />
<line x1="123.07" y1="331.80" x2="123.07" y2="334.10" stroke="#231f20" stroke-width="0.9" />
<line x1="129.79" y1="331.80" x2="129.79" y2="333.20" stroke="#231f20" stroke-width="0.9" />
<line x1="135.00" y1="331.80" x2="135.00" y2="333.20" stroke="#231f20" stroke-width="0.9" />
<line x1="139.26" y1="331.80" x2="139.26" y2="333.20" stroke="#231f20" stroke-width="0.9" />
<line x1="142.87" y1="331.80" x2="142.87" y2="333.20" stroke="#231f20" stroke-width="0.9" />
<line x1="145.99" y1="331.80" x2="145.99" y2="333.20" stroke="#231f20" stroke-width="0.9" />
<line x1="148.74" y1="331.80" x2="148.74" y2="333.20" stroke="#231f20" stroke-width="0.9" />
<line x1="151.20" y1="331.80" x2="151.20" y2="334.10" stroke="#231f20" stroke-width="0.9" />
<text x="97.40" y="342.00" font-size="6.4" fill="#231f20" text-anchor="middle" class="tk">10</text>
<text x="123.07" y="342.00" font-size="6.4" fill="#231f20" text-anchor="middle" class="tk">30</text>
<text x="151.20" y="342.00" font-size="6.4" fill="#231f20" text-anchor="middle" class="tk">100</text>
<polyline points="97.40,308.00 123.10,306.80 151.20,304.60" fill="none" stroke="#4d9fde" stroke-width="1.15" stroke-linejoin="round"/>
<line x1="97.40" y1="306.00" x2="97.40" y2="311.00" stroke="#4d9fde" stroke-width="0.8" />
<line x1="96.30" y1="306.00" x2="98.50" y2="306.00" stroke="#4d9fde" stroke-width="0.8" />
<line x1="96.30" y1="311.00" x2="98.50" y2="311.00" stroke="#4d9fde" stroke-width="0.8" />
<line x1="123.10" y1="301.70" x2="123.10" y2="311.00" stroke="#4d9fde" stroke-width="0.8" />
<line x1="122.00" y1="301.70" x2="124.20" y2="301.70" stroke="#4d9fde" stroke-width="0.8" />
<line x1="122.00" y1="311.00" x2="124.20" y2="311.00" stroke="#4d9fde" stroke-width="0.8" />
<line x1="151.20" y1="303.10" x2="151.20" y2="309.60" stroke="#4d9fde" stroke-width="0.8" />
<line x1="150.10" y1="303.10" x2="152.30" y2="303.10" stroke="#4d9fde" stroke-width="0.8" />
<line x1="150.10" y1="309.60" x2="152.30" y2="309.60" stroke="#4d9fde" stroke-width="0.8" />
<polyline points="97.40,308.60 123.10,307.50 151.20,305.30" fill="none" stroke="#1d4a86" stroke-width="1.65" stroke-linejoin="round"/>
<line x1="97.40" y1="305.50" x2="97.40" y2="311.50" stroke="#1d4a86" stroke-width="1.0" />
<line x1="96.30" y1="305.50" x2="98.50" y2="305.50" stroke="#1d4a86" stroke-width="1.0" />
<line x1="96.30" y1="311.50" x2="98.50" y2="311.50" stroke="#1d4a86" stroke-width="1.0" />
<line x1="123.10" y1="305.00" x2="123.10" y2="310.00" stroke="#1d4a86" stroke-width="1.0" />
<line x1="122.00" y1="305.00" x2="124.20" y2="305.00" stroke="#1d4a86" stroke-width="1.0" />
<line x1="122.00" y1="310.00" x2="124.20" y2="310.00" stroke="#1d4a86" stroke-width="1.0" />
<line x1="151.20" y1="303.50" x2="151.20" y2="307.50" stroke="#1d4a86" stroke-width="1.0" />
<line x1="150.10" y1="303.50" x2="152.30" y2="303.50" stroke="#1d4a86" stroke-width="1.0" />
<line x1="150.10" y1="307.50" x2="152.30" y2="307.50" stroke="#1d4a86" stroke-width="1.0" />
<text x="124.80" y="354.60" font-size="8.2" fill="#231f20" text-anchor="middle" textLength="30.00" lengthAdjust="spacingAndGlyphs" >Time (sec)</text>
<text x="264.00" y="258.10" font-size="6.5" fill="#231f20" text-anchor="middle">99-loop<tspan font-size="4.3" dy="1.6">CT</tspan></text>
<text x="190.80" y="263.40" font-size="4.9" fill="#231f20" textLength="14.20" lengthAdjust="spacingAndGlyphs" class="sp">241(76)</text>
<text x="205.40" y="266.20" font-size="6.8" fill="#231f20" textLength="115.50" lengthAdjust="spacingAndGlyphs" >TEHTEQKRNVIRIIPHHNYNAAINKYNHD</text>
<text x="321.50" y="263.40" font-size="4.9" fill="#231f20" textLength="16.50" lengthAdjust="spacingAndGlyphs" class="sp">269(102)</text>
<line x1="198.40" y1="279.80" x2="198.40" y2="332.80" stroke="#231f20" stroke-width="1.45" />
<line x1="194.60" y1="282.30" x2="198.40" y2="282.30" stroke="#231f20" stroke-width="0.9" />
<text x="192.80" y="284.50" font-size="6.4" fill="#231f20" text-anchor="end" class="tk">7</text>
<line x1="194.60" y1="293.50" x2="198.40" y2="293.50" stroke="#231f20" stroke-width="0.9" />
<text x="192.80" y="295.70" font-size="6.4" fill="#231f20" text-anchor="end" class="tk">6</text>
<line x1="194.60" y1="304.40" x2="198.40" y2="304.40" stroke="#231f20" stroke-width="0.9" />
<text x="192.80" y="306.60" font-size="6.4" fill="#231f20" text-anchor="end" class="tk">5</text>
<line x1="194.60" y1="315.30" x2="198.40" y2="315.30" stroke="#231f20" stroke-width="0.9" />
<text x="192.80" y="317.50" font-size="6.4" fill="#231f20" text-anchor="end" class="tk">4</text>
<line x1="194.60" y1="326.20" x2="198.40" y2="326.20" stroke="#231f20" stroke-width="0.9" />
<text x="192.80" y="328.40" font-size="6.4" fill="#231f20" text-anchor="end" class="tk">3</text>
<line x1="194.60" y1="332.10" x2="254.00" y2="332.10" stroke="#231f20" stroke-width="1.45" />
<line x1="200.20" y1="332.10" x2="200.20" y2="334.40" stroke="#231f20" stroke-width="0.9" />
<line x1="215.64" y1="332.10" x2="215.64" y2="333.50" stroke="#231f20" stroke-width="0.9" />
<line x1="224.68" y1="332.10" x2="224.68" y2="334.40" stroke="#231f20" stroke-width="0.9" />
<line x1="231.09" y1="332.10" x2="231.09" y2="333.50" stroke="#231f20" stroke-width="0.9" />
<line x1="236.06" y1="332.10" x2="236.06" y2="333.50" stroke="#231f20" stroke-width="0.9" />
<line x1="240.12" y1="332.10" x2="240.12" y2="333.50" stroke="#231f20" stroke-width="0.9" />
<line x1="243.55" y1="332.10" x2="243.55" y2="333.50" stroke="#231f20" stroke-width="0.9" />
<line x1="246.53" y1="332.10" x2="246.53" y2="333.50" stroke="#231f20" stroke-width="0.9" />
<line x1="249.15" y1="332.10" x2="249.15" y2="333.50" stroke="#231f20" stroke-width="0.9" />
<line x1="251.50" y1="332.10" x2="251.50" y2="334.40" stroke="#231f20" stroke-width="0.9" />
<text x="200.20" y="343.20" font-size="6.4" fill="#231f20" text-anchor="middle" class="tk">10</text>
<text x="224.68" y="343.20" font-size="6.4" fill="#231f20" text-anchor="middle" class="tk">30</text>
<text x="251.50" y="343.20" font-size="6.4" fill="#231f20" text-anchor="middle" class="tk">100</text>
<polyline points="200.20,319.80 224.80,312.60 251.50,306.00" fill="none" stroke="#df9580" stroke-width="1.15" stroke-linejoin="round"/>
<line x1="200.20" y1="317.50" x2="200.20" y2="322.00" stroke="#df9580" stroke-width="0.8" />
<line x1="199.10" y1="317.50" x2="201.30" y2="317.50" stroke="#df9580" stroke-width="0.8" />
<line x1="199.10" y1="322.00" x2="201.30" y2="322.00" stroke="#df9580" stroke-width="0.8" />
<line x1="224.80" y1="311.00" x2="224.80" y2="314.50" stroke="#df9580" stroke-width="0.8" />
<line x1="223.70" y1="311.00" x2="225.90" y2="311.00" stroke="#df9580" stroke-width="0.8" />
<line x1="223.70" y1="314.50" x2="225.90" y2="314.50" stroke="#df9580" stroke-width="0.8" />
<line x1="251.50" y1="302.00" x2="251.50" y2="310.00" stroke="#df9580" stroke-width="0.8" />
<line x1="250.40" y1="302.00" x2="252.60" y2="302.00" stroke="#df9580" stroke-width="0.8" />
<line x1="250.40" y1="310.00" x2="252.60" y2="310.00" stroke="#df9580" stroke-width="0.8" />
<polyline points="200.20,313.20 224.80,305.60 251.50,297.30" fill="none" stroke="#b0153e" stroke-width="1.75" stroke-linejoin="round"/>
<line x1="200.20" y1="310.20" x2="200.20" y2="316.30" stroke="#b0153e" stroke-width="1.0" />
<line x1="199.10" y1="310.20" x2="201.30" y2="310.20" stroke="#b0153e" stroke-width="1.0" />
<line x1="199.10" y1="316.30" x2="201.30" y2="316.30" stroke="#b0153e" stroke-width="1.0" />
<line x1="224.80" y1="303.50" x2="224.80" y2="307.80" stroke="#b0153e" stroke-width="1.0" />
<line x1="223.70" y1="303.50" x2="225.90" y2="303.50" stroke="#b0153e" stroke-width="1.0" />
<line x1="223.70" y1="307.80" x2="225.90" y2="307.80" stroke="#b0153e" stroke-width="1.0" />
<line x1="251.50" y1="292.50" x2="251.50" y2="301.90" stroke="#b0153e" stroke-width="1.0" />
<line x1="250.40" y1="292.50" x2="252.60" y2="292.50" stroke="#b0153e" stroke-width="1.0" />
<line x1="250.40" y1="301.90" x2="252.60" y2="301.90" stroke="#b0153e" stroke-width="1.0" />
<text x="226.35" y="355.60" font-size="8.2" fill="#231f20" text-anchor="middle" textLength="30.00" lengthAdjust="spacingAndGlyphs" >Time (sec)</text>
<text x="183.60" y="305.45" font-size="8.2" fill="#231f20" text-anchor="middle" textLength="64.30" lengthAdjust="spacingAndGlyphs" transform="rotate(-90 183.60 305.45)" >Number of deuterons</text>
<line x1="263.30" y1="277.90" x2="263.30" y2="332.10" stroke="#2a2a2a" stroke-width="1.3" stroke-dasharray="3.1 2.3" stroke-dashoffset="1.7"/>
<line x1="260.60" y1="332.10" x2="330.90" y2="332.10" stroke="#231f20" stroke-width="1.45" />
<line x1="267.00" y1="332.10" x2="267.00" y2="334.40" stroke="#231f20" stroke-width="0.9" />
<line x1="283.32" y1="332.10" x2="283.32" y2="333.50" stroke="#231f20" stroke-width="0.9" />
<line x1="292.86" y1="332.10" x2="292.86" y2="334.40" stroke="#231f20" stroke-width="0.9" />
<line x1="299.63" y1="332.10" x2="299.63" y2="333.50" stroke="#231f20" stroke-width="0.9" />
<line x1="304.88" y1="332.10" x2="304.88" y2="333.50" stroke="#231f20" stroke-width="0.9" />
<line x1="309.18" y1="332.10" x2="309.18" y2="333.50" stroke="#231f20" stroke-width="0.9" />
<line x1="312.80" y1="332.10" x2="312.80" y2="333.50" stroke="#231f20" stroke-width="0.9" />
<line x1="315.95" y1="332.10" x2="315.95" y2="333.50" stroke="#231f20" stroke-width="0.9" />
<line x1="318.72" y1="332.10" x2="318.72" y2="333.50" stroke="#231f20" stroke-width="0.9" />
<line x1="321.20" y1="332.10" x2="321.20" y2="334.40" stroke="#231f20" stroke-width="0.9" />
<text x="267.00" y="343.20" font-size="6.4" fill="#231f20" text-anchor="middle" class="tk">10</text>
<text x="292.86" y="343.20" font-size="6.4" fill="#231f20" text-anchor="middle" class="tk">30</text>
<text x="321.20" y="343.20" font-size="6.4" fill="#231f20" text-anchor="middle" class="tk">100</text>
<polyline points="263.80,320.90 289.70,314.00 318.60,307.00" fill="none" stroke="#4d9fde" stroke-width="1.15" stroke-linejoin="round"/>
<line x1="263.80" y1="319.50" x2="263.80" y2="322.00" stroke="#4d9fde" stroke-width="0.8" />
<line x1="262.70" y1="319.50" x2="264.90" y2="319.50" stroke="#4d9fde" stroke-width="0.8" />
<line x1="262.70" y1="322.00" x2="264.90" y2="322.00" stroke="#4d9fde" stroke-width="0.8" />
<line x1="289.70" y1="312.20" x2="289.70" y2="319.00" stroke="#4d9fde" stroke-width="0.8" />
<line x1="288.60" y1="312.20" x2="290.80" y2="312.20" stroke="#4d9fde" stroke-width="0.8" />
<line x1="288.60" y1="319.00" x2="290.80" y2="319.00" stroke="#4d9fde" stroke-width="0.8" />
<line x1="318.60" y1="304.60" x2="318.60" y2="310.40" stroke="#4d9fde" stroke-width="0.8" />
<line x1="317.50" y1="304.60" x2="319.70" y2="304.60" stroke="#4d9fde" stroke-width="0.8" />
<line x1="317.50" y1="310.40" x2="319.70" y2="310.40" stroke="#4d9fde" stroke-width="0.8" />
<polyline points="263.80,314.00 289.70,309.90 318.60,302.00" fill="none" stroke="#1d4a86" stroke-width="1.65" stroke-linejoin="round"/>
<line x1="263.80" y1="311.00" x2="263.80" y2="316.80" stroke="#1d4a86" stroke-width="1.0" />
<line x1="262.70" y1="311.00" x2="264.90" y2="311.00" stroke="#1d4a86" stroke-width="1.0" />
<line x1="262.70" y1="316.80" x2="264.90" y2="316.80" stroke="#1d4a86" stroke-width="1.0" />
<line x1="289.70" y1="307.00" x2="289.70" y2="312.80" stroke="#1d4a86" stroke-width="1.0" />
<line x1="288.60" y1="307.00" x2="290.80" y2="307.00" stroke="#1d4a86" stroke-width="1.0" />
<line x1="288.60" y1="312.80" x2="290.80" y2="312.80" stroke="#1d4a86" stroke-width="1.0" />
<line x1="318.60" y1="301.00" x2="318.60" y2="303.50" stroke="#1d4a86" stroke-width="1.0" />
<line x1="317.50" y1="301.00" x2="319.70" y2="301.00" stroke="#1d4a86" stroke-width="1.0" />
<line x1="317.50" y1="303.50" x2="319.70" y2="303.50" stroke="#1d4a86" stroke-width="1.0" />
<text x="294.60" y="355.60" font-size="8.2" fill="#231f20" text-anchor="middle" textLength="30.00" lengthAdjust="spacingAndGlyphs" >Time (sec)</text>
<text x="444.20" y="250.80" font-size="6.5" fill="#231f20" text-anchor="middle">helix 126-132<tspan font-size="4.3" dy="1.6">CT</tspan></text>
<text x="409.20" y="263.40" font-size="4.9" fill="#231f20" textLength="16.20" lengthAdjust="spacingAndGlyphs" class="sp">290(123)</text>
<text x="425.80" y="266.20" font-size="6.8" fill="#231f20" textLength="39.60" lengthAdjust="spacingAndGlyphs" >IADKEYTNIF</text>
<text x="466.00" y="263.40" font-size="4.9" fill="#231f20" textLength="14.20" lengthAdjust="spacingAndGlyphs" class="sp">299(130)</text>
<line x1="375.70" y1="275.40" x2="375.70" y2="332.80" stroke="#231f20" stroke-width="1.45" />
<line x1="371.90" y1="277.40" x2="375.70" y2="277.40" stroke="#231f20" stroke-width="0.9" />
<text x="370.10" y="279.60" font-size="6.4" fill="#231f20" text-anchor="end" class="tk">2.5</text>
<line x1="371.90" y1="288.40" x2="375.70" y2="288.40" stroke="#231f20" stroke-width="0.9" />
<text x="370.10" y="290.60" font-size="6.4" fill="#231f20" text-anchor="end" class="tk">2.0</text>
<line x1="371.90" y1="299.30" x2="375.70" y2="299.30" stroke="#231f20" stroke-width="0.9" />
<text x="370.10" y="301.50" font-size="6.4" fill="#231f20" text-anchor="end" class="tk">1.5</text>
<line x1="371.90" y1="310.00" x2="375.70" y2="310.00" stroke="#231f20" stroke-width="0.9" />
<text x="370.10" y="312.20" font-size="6.4" fill="#231f20" text-anchor="end" class="tk">1.0</text>
<line x1="371.90" y1="320.70" x2="375.70" y2="320.70" stroke="#231f20" stroke-width="0.9" />
<text x="370.10" y="322.90" font-size="6.4" fill="#231f20" text-anchor="end" class="tk">0.5</text>
<line x1="371.90" y1="331.20" x2="375.70" y2="331.20" stroke="#231f20" stroke-width="0.9" />
<text x="370.10" y="333.40" font-size="6.4" fill="#231f20" text-anchor="end" class="tk">0.0</text>
<line x1="371.90" y1="332.10" x2="436.00" y2="332.10" stroke="#231f20" stroke-width="1.45" />
<line x1="378.10" y1="332.10" x2="378.10" y2="334.40" stroke="#231f20" stroke-width="0.9" />
<line x1="394.81" y1="332.10" x2="394.81" y2="333.50" stroke="#231f20" stroke-width="0.9" />
<line x1="404.58" y1="332.10" x2="404.58" y2="334.40" stroke="#231f20" stroke-width="0.9" />
<line x1="411.51" y1="332.10" x2="411.51" y2="333.50" stroke="#231f20" stroke-width="0.9" />
<line x1="416.89" y1="332.10" x2="416.89" y2="333.50" stroke="#231f20" stroke-width="0.9" />
<line x1="421.29" y1="332.10" x2="421.29" y2="333.50" stroke="#231f20" stroke-width="0.9" />
<line x1="425.00" y1="332.10" x2="425.00" y2="333.50" stroke="#231f20" stroke-width="0.9" />
<line x1="428.22" y1="332.10" x2="428.22" y2="333.50" stroke="#231f20" stroke-width="0.9" />
<line x1="431.06" y1="332.10" x2="431.06" y2="333.50" stroke="#231f20" stroke-width="0.9" />
<line x1="433.60" y1="332.10" x2="433.60" y2="334.40" stroke="#231f20" stroke-width="0.9" />
<text x="378.10" y="343.20" font-size="6.4" fill="#231f20" text-anchor="middle" class="tk">10</text>
<text x="404.58" y="343.20" font-size="6.4" fill="#231f20" text-anchor="middle" class="tk">30</text>
<text x="433.60" y="343.20" font-size="6.4" fill="#231f20" text-anchor="middle" class="tk">100</text>
<polyline points="378.10,313.00 404.30,305.60 433.60,295.10" fill="none" stroke="#df9580" stroke-width="1.15" stroke-linejoin="round"/>
<line x1="378.10" y1="311.50" x2="378.10" y2="315.00" stroke="#df9580" stroke-width="0.8" />
<line x1="377.00" y1="311.50" x2="379.20" y2="311.50" stroke="#df9580" stroke-width="0.8" />
<line x1="377.00" y1="315.00" x2="379.20" y2="315.00" stroke="#df9580" stroke-width="0.8" />
<line x1="404.30" y1="302.30" x2="404.30" y2="309.00" stroke="#df9580" stroke-width="0.8" />
<line x1="403.20" y1="302.30" x2="405.40" y2="302.30" stroke="#df9580" stroke-width="0.8" />
<line x1="403.20" y1="309.00" x2="405.40" y2="309.00" stroke="#df9580" stroke-width="0.8" />
<line x1="433.60" y1="292.50" x2="433.60" y2="298.20" stroke="#df9580" stroke-width="0.8" />
<line x1="432.50" y1="292.50" x2="434.70" y2="292.50" stroke="#df9580" stroke-width="0.8" />
<line x1="432.50" y1="298.20" x2="434.70" y2="298.20" stroke="#df9580" stroke-width="0.8" />
<polyline points="378.10,306.70 404.30,297.80 433.60,288.40" fill="none" stroke="#b0153e" stroke-width="1.75" stroke-linejoin="round"/>
<line x1="378.10" y1="305.00" x2="378.10" y2="309.00" stroke="#b0153e" stroke-width="1.0" />
<line x1="377.00" y1="305.00" x2="379.20" y2="305.00" stroke="#b0153e" stroke-width="1.0" />
<line x1="377.00" y1="309.00" x2="379.20" y2="309.00" stroke="#b0153e" stroke-width="1.0" />
<line x1="404.30" y1="295.50" x2="404.30" y2="300.00" stroke="#b0153e" stroke-width="1.0" />
<line x1="403.20" y1="295.50" x2="405.40" y2="295.50" stroke="#b0153e" stroke-width="1.0" />
<line x1="403.20" y1="300.00" x2="405.40" y2="300.00" stroke="#b0153e" stroke-width="1.0" />
<line x1="433.60" y1="284.80" x2="433.60" y2="292.20" stroke="#b0153e" stroke-width="1.0" />
<line x1="432.50" y1="284.80" x2="434.70" y2="284.80" stroke="#b0153e" stroke-width="1.0" />
<line x1="432.50" y1="292.20" x2="434.70" y2="292.20" stroke="#b0153e" stroke-width="1.0" />
<text x="406.35" y="355.60" font-size="8.2" fill="#231f20" text-anchor="middle" textLength="30.00" lengthAdjust="spacingAndGlyphs" >Time (sec)</text>
<text x="355.80" y="303.25" font-size="8.2" fill="#231f20" text-anchor="middle" textLength="64.30" lengthAdjust="spacingAndGlyphs" transform="rotate(-90 355.80 303.25)" >Number of deuterons</text>
<line x1="444.40" y1="274.90" x2="444.40" y2="332.10" stroke="#2a2a2a" stroke-width="1.3" stroke-dasharray="3.1 2.3" stroke-dashoffset="1.7"/>
<line x1="442.60" y1="332.10" x2="512.40" y2="332.10" stroke="#231f20" stroke-width="1.45" />
<line x1="447.30" y1="332.10" x2="447.30" y2="334.40" stroke="#231f20" stroke-width="0.9" />
<line x1="464.04" y1="332.10" x2="464.04" y2="333.50" stroke="#231f20" stroke-width="0.9" />
<line x1="473.83" y1="332.10" x2="473.83" y2="334.40" stroke="#231f20" stroke-width="0.9" />
<line x1="480.77" y1="332.10" x2="480.77" y2="333.50" stroke="#231f20" stroke-width="0.9" />
<line x1="486.16" y1="332.10" x2="486.16" y2="333.50" stroke="#231f20" stroke-width="0.9" />
<line x1="490.57" y1="332.10" x2="490.57" y2="333.50" stroke="#231f20" stroke-width="0.9" />
<line x1="494.29" y1="332.10" x2="494.29" y2="333.50" stroke="#231f20" stroke-width="0.9" />
<line x1="497.51" y1="332.10" x2="497.51" y2="333.50" stroke="#231f20" stroke-width="0.9" />
<line x1="500.36" y1="332.10" x2="500.36" y2="333.50" stroke="#231f20" stroke-width="0.9" />
<line x1="502.90" y1="332.10" x2="502.90" y2="334.40" stroke="#231f20" stroke-width="0.9" />
<text x="447.30" y="343.20" font-size="6.4" fill="#231f20" text-anchor="middle" class="tk">10</text>
<text x="473.83" y="343.20" font-size="6.4" fill="#231f20" text-anchor="middle" class="tk">30</text>
<text x="502.90" y="343.20" font-size="6.4" fill="#231f20" text-anchor="middle" class="tk">100</text>
<polyline points="448.00,306.80 474.10,298.30 502.90,290.70" fill="none" stroke="#4d9fde" stroke-width="1.15" stroke-linejoin="round"/>
<line x1="448.00" y1="305.00" x2="448.00" y2="309.50" stroke="#4d9fde" stroke-width="0.8" />
<line x1="446.90" y1="305.00" x2="449.10" y2="305.00" stroke="#4d9fde" stroke-width="0.8" />
<line x1="446.90" y1="309.50" x2="449.10" y2="309.50" stroke="#4d9fde" stroke-width="0.8" />
<line x1="474.10" y1="295.10" x2="474.10" y2="303.90" stroke="#4d9fde" stroke-width="0.8" />
<line x1="473.00" y1="295.10" x2="475.20" y2="295.10" stroke="#4d9fde" stroke-width="0.8" />
<line x1="473.00" y1="303.90" x2="475.20" y2="303.90" stroke="#4d9fde" stroke-width="0.8" />
<line x1="502.90" y1="288.40" x2="502.90" y2="292.50" stroke="#4d9fde" stroke-width="0.8" />
<line x1="501.80" y1="288.40" x2="504.00" y2="288.40" stroke="#4d9fde" stroke-width="0.8" />
<line x1="501.80" y1="292.50" x2="504.00" y2="292.50" stroke="#4d9fde" stroke-width="0.8" />
<polyline points="448.00,307.50 474.10,301.00 502.90,293.20" fill="none" stroke="#1d4a86" stroke-width="1.65" stroke-linejoin="round"/>
<line x1="448.00" y1="304.20" x2="448.00" y2="311.20" stroke="#1d4a86" stroke-width="1.0" />
<line x1="446.90" y1="304.20" x2="449.10" y2="304.20" stroke="#1d4a86" stroke-width="1.0" />
<line x1="446.90" y1="311.20" x2="449.10" y2="311.20" stroke="#1d4a86" stroke-width="1.0" />
<line x1="474.10" y1="299.50" x2="474.10" y2="303.00" stroke="#1d4a86" stroke-width="1.0" />
<line x1="473.00" y1="299.50" x2="475.20" y2="299.50" stroke="#1d4a86" stroke-width="1.0" />
<line x1="473.00" y1="303.00" x2="475.20" y2="303.00" stroke="#1d4a86" stroke-width="1.0" />
<line x1="502.90" y1="292.00" x2="502.90" y2="294.50" stroke="#1d4a86" stroke-width="1.0" />
<line x1="501.80" y1="292.00" x2="504.00" y2="292.00" stroke="#1d4a86" stroke-width="1.0" />
<line x1="501.80" y1="294.50" x2="504.00" y2="294.50" stroke="#1d4a86" stroke-width="1.0" />
<text x="475.60" y="355.60" font-size="8.2" fill="#231f20" text-anchor="middle" textLength="30.00" lengthAdjust="spacingAndGlyphs" >Time (sec)</text>
<text x="94.80" y="378.30" font-size="6.5" fill="#231f20" text-anchor="middle">148-loop<tspan font-size="4.3" dy="1.6">CT</tspan></text>
<text x="41.00" y="390.80" font-size="4.9" fill="#231f20" textLength="16.30" lengthAdjust="spacingAndGlyphs" class="sp">306(137)</text>
<text x="57.70" y="393.60" font-size="6.8" fill="#231f20" textLength="75.30" lengthAdjust="spacingAndGlyphs" >YVSGWGRVFHKGRSALVL</text>
<text x="133.60" y="390.80" font-size="4.9" fill="#231f20" textLength="14.70" lengthAdjust="spacingAndGlyphs" class="sp">323(155)</text>
<line x1="28.80" y1="405.70" x2="28.80" y2="458.40" stroke="#231f20" stroke-width="1.45" />
<line x1="25.00" y1="408.20" x2="28.80" y2="408.20" stroke="#231f20" stroke-width="0.9" />
<text x="23.20" y="410.40" font-size="6.4" fill="#231f20" text-anchor="end" class="tk">4</text>
<line x1="25.00" y1="424.70" x2="28.80" y2="424.70" stroke="#231f20" stroke-width="0.9" />
<text x="23.20" y="426.90" font-size="6.4" fill="#231f20" text-anchor="end" class="tk">3</text>
<line x1="25.00" y1="441.10" x2="28.80" y2="441.10" stroke="#231f20" stroke-width="0.9" />
<text x="23.20" y="443.30" font-size="6.4" fill="#231f20" text-anchor="end" class="tk">2</text>
<line x1="25.00" y1="457.60" x2="28.80" y2="457.60" stroke="#231f20" stroke-width="0.9" />
<text x="23.20" y="459.80" font-size="6.4" fill="#231f20" text-anchor="end" class="tk">1</text>
<line x1="25.00" y1="457.70" x2="84.50" y2="457.70" stroke="#231f20" stroke-width="1.45" />
<line x1="31.30" y1="457.70" x2="31.30" y2="460.00" stroke="#231f20" stroke-width="0.9" />
<line x1="46.74" y1="457.70" x2="46.74" y2="459.10" stroke="#231f20" stroke-width="0.9" />
<line x1="55.78" y1="457.70" x2="55.78" y2="460.00" stroke="#231f20" stroke-width="0.9" />
<line x1="62.19" y1="457.70" x2="62.19" y2="459.10" stroke="#231f20" stroke-width="0.9" />
<line x1="67.16" y1="457.70" x2="67.16" y2="459.10" stroke="#231f20" stroke-width="0.9" />
<line x1="71.22" y1="457.70" x2="71.22" y2="459.10" stroke="#231f20" stroke-width="0.9" />
<line x1="74.65" y1="457.70" x2="74.65" y2="459.10" stroke="#231f20" stroke-width="0.9" />
<line x1="77.63" y1="457.70" x2="77.63" y2="459.10" stroke="#231f20" stroke-width="0.9" />
<line x1="80.25" y1="457.70" x2="80.25" y2="459.10" stroke="#231f20" stroke-width="0.9" />
<line x1="82.60" y1="457.70" x2="82.60" y2="460.00" stroke="#231f20" stroke-width="0.9" />
<text x="31.30" y="469.30" font-size="6.4" fill="#231f20" text-anchor="middle" class="tk">10</text>
<text x="55.78" y="469.30" font-size="6.4" fill="#231f20" text-anchor="middle" class="tk">30</text>
<text x="82.60" y="469.30" font-size="6.4" fill="#231f20" text-anchor="middle" class="tk">100</text>
<polyline points="31.30,434.40 55.80,432.90 82.60,429.10" fill="none" stroke="#df9580" stroke-width="1.15" stroke-linejoin="round"/>
<line x1="31.30" y1="431.00" x2="31.30" y2="438.00" stroke="#df9580" stroke-width="0.8" />
<line x1="30.20" y1="431.00" x2="32.40" y2="431.00" stroke="#df9580" stroke-width="0.8" />
<line x1="30.20" y1="438.00" x2="32.40" y2="438.00" stroke="#df9580" stroke-width="0.8" />
<line x1="55.80" y1="430.40" x2="55.80" y2="436.00" stroke="#df9580" stroke-width="0.8" />
<line x1="54.70" y1="430.40" x2="56.90" y2="430.40" stroke="#df9580" stroke-width="0.8" />
<line x1="54.70" y1="436.00" x2="56.90" y2="436.00" stroke="#df9580" stroke-width="0.8" />
<line x1="82.60" y1="426.50" x2="82.60" y2="432.70" stroke="#df9580" stroke-width="0.8" />
<line x1="81.50" y1="426.50" x2="83.70" y2="426.50" stroke="#df9580" stroke-width="0.8" />
<line x1="81.50" y1="432.70" x2="83.70" y2="432.70" stroke="#df9580" stroke-width="0.8" />
<polyline points="31.30,427.80 55.80,426.60 82.60,424.70" fill="none" stroke="#b0153e" stroke-width="1.75" stroke-linejoin="round"/>
<line x1="31.30" y1="425.00" x2="31.30" y2="430.80" stroke="#b0153e" stroke-width="1.0" />
<line x1="30.20" y1="425.00" x2="32.40" y2="425.00" stroke="#b0153e" stroke-width="1.0" />
<line x1="30.20" y1="430.80" x2="32.40" y2="430.80" stroke="#b0153e" stroke-width="1.0" />
<line x1="55.80" y1="423.40" x2="55.80" y2="429.70" stroke="#b0153e" stroke-width="1.0" />
<line x1="54.70" y1="423.40" x2="56.90" y2="423.40" stroke="#b0153e" stroke-width="1.0" />
<line x1="54.70" y1="429.70" x2="56.90" y2="429.70" stroke="#b0153e" stroke-width="1.0" />
<line x1="82.60" y1="421.30" x2="82.60" y2="427.60" stroke="#b0153e" stroke-width="1.0" />
<line x1="81.50" y1="421.30" x2="83.70" y2="421.30" stroke="#b0153e" stroke-width="1.0" />
<line x1="81.50" y1="427.60" x2="83.70" y2="427.60" stroke="#b0153e" stroke-width="1.0" />
<text x="57.45" y="480.90" font-size="8.2" fill="#231f20" text-anchor="middle" textLength="30.00" lengthAdjust="spacingAndGlyphs" >Time (sec)</text>
<text x="13.60" y="431.20" font-size="8.2" fill="#231f20" text-anchor="middle" textLength="64.30" lengthAdjust="spacingAndGlyphs" transform="rotate(-90 13.60 431.20)" >Number of deuterons</text>
<line x1="93.80" y1="403.80" x2="93.80" y2="457.70" stroke="#2a2a2a" stroke-width="1.3" stroke-dasharray="3.1 2.3" stroke-dashoffset="1.7"/>
<line x1="91.20" y1="457.70" x2="160.10" y2="457.70" stroke="#231f20" stroke-width="1.45" />
<line x1="97.80" y1="457.70" x2="97.80" y2="460.00" stroke="#231f20" stroke-width="0.9" />
<line x1="114.09" y1="457.70" x2="114.09" y2="459.10" stroke="#231f20" stroke-width="0.9" />
<line x1="123.61" y1="457.70" x2="123.61" y2="460.00" stroke="#231f20" stroke-width="0.9" />
<line x1="130.37" y1="457.70" x2="130.37" y2="459.10" stroke="#231f20" stroke-width="0.9" />
<line x1="135.61" y1="457.70" x2="135.61" y2="459.10" stroke="#231f20" stroke-width="0.9" />
<line x1="139.90" y1="457.70" x2="139.90" y2="459.10" stroke="#231f20" stroke-width="0.9" />
<line x1="143.52" y1="457.70" x2="143.52" y2="459.10" stroke="#231f20" stroke-width="0.9" />
<line x1="146.66" y1="457.70" x2="146.66" y2="459.10" stroke="#231f20" stroke-width="0.9" />
<line x1="149.42" y1="457.70" x2="149.42" y2="459.10" stroke="#231f20" stroke-width="0.9" />
<line x1="151.90" y1="457.70" x2="151.90" y2="460.00" stroke="#231f20" stroke-width="0.9" />
<text x="97.80" y="469.30" font-size="6.4" fill="#231f20" text-anchor="middle" class="tk">10</text>
<text x="123.61" y="469.30" font-size="6.4" fill="#231f20" text-anchor="middle" class="tk">30</text>
<text x="151.90" y="469.30" font-size="6.4" fill="#231f20" text-anchor="middle" class="tk">100</text>
<polyline points="97.40,432.30 124.10,432.90 151.90,430.00" fill="none" stroke="#4d9fde" stroke-width="1.15" stroke-linejoin="round"/>
<line x1="97.40" y1="429.00" x2="97.40" y2="435.20" stroke="#4d9fde" stroke-width="0.8" />
<line x1="96.30" y1="429.00" x2="98.50" y2="429.00" stroke="#4d9fde" stroke-width="0.8" />
<line x1="96.30" y1="435.20" x2="98.50" y2="435.20" stroke="#4d9fde" stroke-width="0.8" />
<line x1="124.10" y1="430.00" x2="124.10" y2="438.10" stroke="#4d9fde" stroke-width="0.8" />
<line x1="123.00" y1="430.00" x2="125.20" y2="430.00" stroke="#4d9fde" stroke-width="0.8" />
<line x1="123.00" y1="438.10" x2="125.20" y2="438.10" stroke="#4d9fde" stroke-width="0.8" />
<line x1="151.90" y1="427.60" x2="151.90" y2="432.30" stroke="#4d9fde" stroke-width="0.8" />
<line x1="150.80" y1="427.60" x2="153.00" y2="427.60" stroke="#4d9fde" stroke-width="0.8" />
<line x1="150.80" y1="432.30" x2="153.00" y2="432.30" stroke="#4d9fde" stroke-width="0.8" />
<polyline points="97.40,430.00 124.10,431.50 151.90,428.00" fill="none" stroke="#1d4a86" stroke-width="1.65" stroke-linejoin="round"/>
<line x1="97.40" y1="426.60" x2="97.40" y2="433.40" stroke="#1d4a86" stroke-width="1.0" />
<line x1="96.30" y1="426.60" x2="98.50" y2="426.60" stroke="#1d4a86" stroke-width="1.0" />
<line x1="96.30" y1="433.40" x2="98.50" y2="433.40" stroke="#1d4a86" stroke-width="1.0" />
<line x1="124.10" y1="427.60" x2="124.10" y2="434.80" stroke="#1d4a86" stroke-width="1.0" />
<line x1="123.00" y1="427.60" x2="125.20" y2="427.60" stroke="#1d4a86" stroke-width="1.0" />
<line x1="123.00" y1="434.80" x2="125.20" y2="434.80" stroke="#1d4a86" stroke-width="1.0" />
<line x1="151.90" y1="427.00" x2="151.90" y2="429.50" stroke="#1d4a86" stroke-width="1.0" />
<line x1="150.80" y1="427.00" x2="153.00" y2="427.00" stroke="#1d4a86" stroke-width="1.0" />
<line x1="150.80" y1="429.50" x2="153.00" y2="429.50" stroke="#1d4a86" stroke-width="1.0" />
<text x="125.35" y="480.90" font-size="8.2" fill="#231f20" text-anchor="middle" textLength="30.00" lengthAdjust="spacingAndGlyphs" >Time (sec)</text>
<text x="266.80" y="378.10" font-size="6.5" fill="#231f20" text-anchor="middle">170-loop<tspan font-size="4.3" dy="1.6">CT</tspan></text>
<text x="227.70" y="391.00" font-size="4.9" fill="#231f20" textLength="16.00" lengthAdjust="spacingAndGlyphs" class="sp">338(170)</text>
<text x="244.10" y="393.80" font-size="6.8" fill="#231f20" textLength="44.60" lengthAdjust="spacingAndGlyphs" >RSTKFTIYNNM</text>
<text x="289.30" y="391.00" font-size="4.9" fill="#231f20" textLength="15.40" lengthAdjust="spacingAndGlyphs" class="sp">348(180)</text>
<line x1="198.50" y1="401.30" x2="198.50" y2="458.40" stroke="#231f20" stroke-width="1.45" />
<line x1="194.70" y1="403.20" x2="198.50" y2="403.20" stroke="#231f20" stroke-width="0.9" />
<text x="192.90" y="405.40" font-size="6.4" fill="#231f20" text-anchor="end" class="tk">5.0</text>
<line x1="194.70" y1="414.30" x2="198.50" y2="414.30" stroke="#231f20" stroke-width="0.9" />
<text x="192.90" y="416.50" font-size="6.4" fill="#231f20" text-anchor="end" class="tk">4.5</text>
<line x1="194.70" y1="425.20" x2="198.50" y2="425.20" stroke="#231f20" stroke-width="0.9" />
<text x="192.90" y="427.40" font-size="6.4" fill="#231f20" text-anchor="end" class="tk">4.0</text>
<line x1="194.70" y1="436.10" x2="198.50" y2="436.10" stroke="#231f20" stroke-width="0.9" />
<text x="192.90" y="438.30" font-size="6.4" fill="#231f20" text-anchor="end" class="tk">3.5</text>
<line x1="194.70" y1="447.00" x2="198.50" y2="447.00" stroke="#231f20" stroke-width="0.9" />
<text x="192.90" y="449.20" font-size="6.4" fill="#231f20" text-anchor="end" class="tk">3.0</text>
<line x1="194.70" y1="457.40" x2="198.50" y2="457.40" stroke="#231f20" stroke-width="0.9" />
<text x="192.90" y="459.60" font-size="6.4" fill="#231f20" text-anchor="end" class="tk">2.0</text>
<line x1="194.70" y1="457.70" x2="257.70" y2="457.70" stroke="#231f20" stroke-width="1.45" />
<line x1="200.50" y1="457.70" x2="200.50" y2="460.00" stroke="#231f20" stroke-width="0.9" />
<line x1="217.12" y1="457.70" x2="217.12" y2="459.10" stroke="#231f20" stroke-width="0.9" />
<line x1="226.84" y1="457.70" x2="226.84" y2="460.00" stroke="#231f20" stroke-width="0.9" />
<line x1="233.73" y1="457.70" x2="233.73" y2="459.10" stroke="#231f20" stroke-width="0.9" />
<line x1="239.08" y1="457.70" x2="239.08" y2="459.10" stroke="#231f20" stroke-width="0.9" />
<line x1="243.45" y1="457.70" x2="243.45" y2="459.10" stroke="#231f20" stroke-width="0.9" />
<line x1="247.15" y1="457.70" x2="247.15" y2="459.10" stroke="#231f20" stroke-width="0.9" />
<line x1="250.35" y1="457.70" x2="250.35" y2="459.10" stroke="#231f20" stroke-width="0.9" />
<line x1="253.17" y1="457.70" x2="253.17" y2="459.10" stroke="#231f20" stroke-width="0.9" />
<line x1="255.70" y1="457.70" x2="255.70" y2="460.00" stroke="#231f20" stroke-width="0.9" />
<text x="200.50" y="469.30" font-size="6.4" fill="#231f20" text-anchor="middle" class="tk">10</text>
<text x="226.84" y="469.30" font-size="6.4" fill="#231f20" text-anchor="middle" class="tk">30</text>
<text x="255.70" y="469.30" font-size="6.4" fill="#231f20" text-anchor="middle" class="tk">100</text>
<polyline points="200.50,439.10 227.00,431.30 255.70,426.50" fill="none" stroke="#df9580" stroke-width="1.15" stroke-linejoin="round"/>
<line x1="200.50" y1="435.20" x2="200.50" y2="443.00" stroke="#df9580" stroke-width="0.8" />
<line x1="199.40" y1="435.20" x2="201.60" y2="435.20" stroke="#df9580" stroke-width="0.8" />
<line x1="199.40" y1="443.00" x2="201.60" y2="443.00" stroke="#df9580" stroke-width="0.8" />
<line x1="227.00" y1="427.40" x2="227.00" y2="436.10" stroke="#df9580" stroke-width="0.8" />
<line x1="225.90" y1="427.40" x2="228.10" y2="427.40" stroke="#df9580" stroke-width="0.8" />
<line x1="225.90" y1="436.10" x2="228.10" y2="436.10" stroke="#df9580" stroke-width="0.8" />
<line x1="255.70" y1="424.80" x2="255.70" y2="434.30" stroke="#df9580" stroke-width="0.8" />
<line x1="254.60" y1="424.80" x2="256.80" y2="424.80" stroke="#df9580" stroke-width="0.8" />
<line x1="254.60" y1="434.30" x2="256.80" y2="434.30" stroke="#df9580" stroke-width="0.8" />
<polyline points="200.50,426.50 227.00,422.20 255.70,420.80" fill="none" stroke="#b0153e" stroke-width="1.75" stroke-linejoin="round"/>
<line x1="200.50" y1="421.20" x2="200.50" y2="432.20" stroke="#b0153e" stroke-width="1.0" />
<line x1="199.40" y1="421.20" x2="201.60" y2="421.20" stroke="#b0153e" stroke-width="1.0" />
<line x1="199.40" y1="432.20" x2="201.60" y2="432.20" stroke="#b0153e" stroke-width="1.0" />
<line x1="227.00" y1="417.30" x2="227.00" y2="427.40" stroke="#b0153e" stroke-width="1.0" />
<line x1="225.90" y1="417.30" x2="228.10" y2="417.30" stroke="#b0153e" stroke-width="1.0" />
<line x1="225.90" y1="427.40" x2="228.10" y2="427.40" stroke="#b0153e" stroke-width="1.0" />
<line x1="255.70" y1="416.30" x2="255.70" y2="424.80" stroke="#b0153e" stroke-width="1.0" />
<line x1="254.60" y1="416.30" x2="256.80" y2="416.30" stroke="#b0153e" stroke-width="1.0" />
<line x1="254.60" y1="424.80" x2="256.80" y2="424.80" stroke="#b0153e" stroke-width="1.0" />
<text x="228.60" y="480.90" font-size="8.2" fill="#231f20" text-anchor="middle" textLength="30.00" lengthAdjust="spacingAndGlyphs" >Time (sec)</text>
<text x="178.00" y="429.00" font-size="8.2" fill="#231f20" text-anchor="middle" textLength="64.30" lengthAdjust="spacingAndGlyphs" transform="rotate(-90 178.00 429.00)" >Number of deuterons</text>
<line x1="266.70" y1="400.70" x2="266.70" y2="457.70" stroke="#2a2a2a" stroke-width="1.3" stroke-dasharray="3.1 2.3" stroke-dashoffset="1.7"/>
<line x1="264.40" y1="457.70" x2="334.80" y2="457.70" stroke="#231f20" stroke-width="1.45" />
<line x1="270.40" y1="457.70" x2="270.40" y2="460.00" stroke="#231f20" stroke-width="0.9" />
<line x1="286.90" y1="457.70" x2="286.90" y2="459.10" stroke="#231f20" stroke-width="0.9" />
<line x1="296.55" y1="457.70" x2="296.55" y2="460.00" stroke="#231f20" stroke-width="0.9" />
<line x1="303.39" y1="457.70" x2="303.39" y2="459.10" stroke="#231f20" stroke-width="0.9" />
<line x1="308.70" y1="457.70" x2="308.70" y2="459.10" stroke="#231f20" stroke-width="0.9" />
<line x1="313.04" y1="457.70" x2="313.04" y2="459.10" stroke="#231f20" stroke-width="0.9" />
<line x1="316.71" y1="457.70" x2="316.71" y2="459.10" stroke="#231f20" stroke-width="0.9" />
<line x1="319.89" y1="457.70" x2="319.89" y2="459.10" stroke="#231f20" stroke-width="0.9" />
<line x1="322.69" y1="457.70" x2="322.69" y2="459.10" stroke="#231f20" stroke-width="0.9" />
<line x1="325.20" y1="457.70" x2="325.20" y2="460.00" stroke="#231f20" stroke-width="0.9" />
<text x="270.40" y="469.30" font-size="6.4" fill="#231f20" text-anchor="middle" class="tk">10</text>
<text x="296.55" y="469.30" font-size="6.4" fill="#231f20" text-anchor="middle" class="tk">30</text>
<text x="325.20" y="469.30" font-size="6.4" fill="#231f20" text-anchor="middle" class="tk">100</text>
<polyline points="269.60,429.90 295.60,428.80 324.40,428.40" fill="none" stroke="#4d9fde" stroke-width="1.15" stroke-linejoin="round"/>
<line x1="269.60" y1="421.70" x2="269.60" y2="435.80" stroke="#4d9fde" stroke-width="0.8" />
<line x1="268.50" y1="421.70" x2="270.70" y2="421.70" stroke="#4d9fde" stroke-width="0.8" />
<line x1="268.50" y1="435.80" x2="270.70" y2="435.80" stroke="#4d9fde" stroke-width="0.8" />
<line x1="295.60" y1="419.50" x2="295.60" y2="429.10" stroke="#4d9fde" stroke-width="0.8" />
<line x1="294.50" y1="419.50" x2="296.70" y2="419.50" stroke="#4d9fde" stroke-width="0.8" />
<line x1="294.50" y1="429.10" x2="296.70" y2="429.10" stroke="#4d9fde" stroke-width="0.8" />
<line x1="324.40" y1="423.20" x2="324.40" y2="433.60" stroke="#4d9fde" stroke-width="0.8" />
<line x1="323.30" y1="423.20" x2="325.50" y2="423.20" stroke="#4d9fde" stroke-width="0.8" />
<line x1="323.30" y1="433.60" x2="325.50" y2="433.60" stroke="#4d9fde" stroke-width="0.8" />
<polyline points="269.60,430.60 295.60,431.80 324.40,429.10" fill="none" stroke="#1d4a86" stroke-width="1.65" stroke-linejoin="round"/>
<line x1="269.60" y1="421.00" x2="269.60" y2="440.70" stroke="#1d4a86" stroke-width="1.0" />
<line x1="268.50" y1="421.00" x2="270.70" y2="421.00" stroke="#1d4a86" stroke-width="1.0" />
<line x1="268.50" y1="440.70" x2="270.70" y2="440.70" stroke="#1d4a86" stroke-width="1.0" />
<line x1="295.60" y1="424.40" x2="295.60" y2="438.70" stroke="#1d4a86" stroke-width="1.0" />
<line x1="294.50" y1="424.40" x2="296.70" y2="424.40" stroke="#1d4a86" stroke-width="1.0" />
<line x1="294.50" y1="438.70" x2="296.70" y2="438.70" stroke="#1d4a86" stroke-width="1.0" />
<line x1="324.40" y1="426.10" x2="324.40" y2="431.30" stroke="#1d4a86" stroke-width="1.0" />
<line x1="323.30" y1="426.10" x2="325.50" y2="426.10" stroke="#1d4a86" stroke-width="1.0" />
<line x1="323.30" y1="431.30" x2="325.50" y2="431.30" stroke="#1d4a86" stroke-width="1.0" />
<text x="298.30" y="480.90" font-size="8.2" fill="#231f20" text-anchor="middle" textLength="30.00" lengthAdjust="spacingAndGlyphs" >Time (sec)</text>
<text x="444.40" y="378.50" font-size="6.5" fill="#231f20" text-anchor="middle">helix 236-240<tspan font-size="4.3" dy="1.6">CT</tspan></text>
<text x="387.30" y="390.80" font-size="4.9" fill="#231f20" textLength="16.20" lengthAdjust="spacingAndGlyphs" class="sp">389(220)</text>
<text x="403.90" y="393.60" font-size="6.8" fill="#231f20" textLength="80.60" lengthAdjust="spacingAndGlyphs" >CAMKGKYGIYTKVSRYVNW</text>
<text x="485.10" y="390.80" font-size="4.9" fill="#231f20" textLength="14.40" lengthAdjust="spacingAndGlyphs" class="sp">407(237)</text>
<line x1="375.80" y1="404.10" x2="375.80" y2="458.40" stroke="#231f20" stroke-width="1.45" />
<line x1="372.00" y1="410.40" x2="375.80" y2="410.40" stroke="#231f20" stroke-width="0.9" />
<text x="370.20" y="412.60" font-size="6.4" fill="#231f20" text-anchor="end" class="tk">4</text>
<line x1="372.00" y1="424.00" x2="375.80" y2="424.00" stroke="#231f20" stroke-width="0.9" />
<text x="370.20" y="426.20" font-size="6.4" fill="#231f20" text-anchor="end" class="tk">3</text>
<line x1="372.00" y1="437.40" x2="375.80" y2="437.40" stroke="#231f20" stroke-width="0.9" />
<text x="370.20" y="439.60" font-size="6.4" fill="#231f20" text-anchor="end" class="tk">2</text>
<line x1="372.00" y1="450.90" x2="375.80" y2="450.90" stroke="#231f20" stroke-width="0.9" />
<text x="370.20" y="453.10" font-size="6.4" fill="#231f20" text-anchor="end" class="tk">1</text>
<line x1="372.00" y1="457.70" x2="435.30" y2="457.70" stroke="#231f20" stroke-width="1.45" />
<line x1="377.70" y1="457.70" x2="377.70" y2="460.00" stroke="#231f20" stroke-width="0.9" />
<line x1="394.53" y1="457.70" x2="394.53" y2="459.10" stroke="#231f20" stroke-width="0.9" />
<line x1="404.37" y1="457.70" x2="404.37" y2="460.00" stroke="#231f20" stroke-width="0.9" />
<line x1="411.36" y1="457.70" x2="411.36" y2="459.10" stroke="#231f20" stroke-width="0.9" />
<line x1="416.77" y1="457.70" x2="416.77" y2="459.10" stroke="#231f20" stroke-width="0.9" />
<line x1="421.20" y1="457.70" x2="421.20" y2="459.10" stroke="#231f20" stroke-width="0.9" />
<line x1="424.94" y1="457.70" x2="424.94" y2="459.10" stroke="#231f20" stroke-width="0.9" />
<line x1="428.18" y1="457.70" x2="428.18" y2="459.10" stroke="#231f20" stroke-width="0.9" />
<line x1="431.04" y1="457.70" x2="431.04" y2="459.10" stroke="#231f20" stroke-width="0.9" />
<line x1="433.60" y1="457.70" x2="433.60" y2="460.00" stroke="#231f20" stroke-width="0.9" />
<text x="377.70" y="469.30" font-size="6.4" fill="#231f20" text-anchor="middle" class="tk">10</text>
<text x="404.37" y="469.30" font-size="6.4" fill="#231f20" text-anchor="middle" class="tk">30</text>
<text x="433.60" y="469.30" font-size="6.4" fill="#231f20" text-anchor="middle" class="tk">100</text>
<polyline points="377.70,428.30 404.30,424.00 433.60,419.50" fill="none" stroke="#df9580" stroke-width="1.15" stroke-linejoin="round"/>
<line x1="377.70" y1="424.90" x2="377.70" y2="432.30" stroke="#df9580" stroke-width="0.8" />
<line x1="376.60" y1="424.90" x2="378.80" y2="424.90" stroke="#df9580" stroke-width="0.8" />
<line x1="376.60" y1="432.30" x2="378.80" y2="432.30" stroke="#df9580" stroke-width="0.8" />
<line x1="404.30" y1="419.50" x2="404.30" y2="428.70" stroke="#df9580" stroke-width="0.8" />
<line x1="403.20" y1="419.50" x2="405.40" y2="419.50" stroke="#df9580" stroke-width="0.8" />
<line x1="403.20" y1="428.70" x2="405.40" y2="428.70" stroke="#df9580" stroke-width="0.8" />
<line x1="433.60" y1="414.80" x2="433.60" y2="424.20" stroke="#df9580" stroke-width="0.8" />
<line x1="432.50" y1="414.80" x2="434.70" y2="414.80" stroke="#df9580" stroke-width="0.8" />
<line x1="432.50" y1="424.20" x2="434.70" y2="424.20" stroke="#df9580" stroke-width="0.8" />
<polyline points="377.70,421.10 404.30,416.60 433.60,410.80" fill="none" stroke="#b0153e" stroke-width="1.75" stroke-linejoin="round"/>
<line x1="377.70" y1="419.30" x2="377.70" y2="422.90" stroke="#b0153e" stroke-width="1.0" />
<line x1="376.60" y1="419.30" x2="378.80" y2="419.30" stroke="#b0153e" stroke-width="1.0" />
<line x1="376.60" y1="422.90" x2="378.80" y2="422.90" stroke="#b0153e" stroke-width="1.0" />
<line x1="404.30" y1="413.50" x2="404.30" y2="418.90" stroke="#b0153e" stroke-width="1.0" />
<line x1="403.20" y1="413.50" x2="405.40" y2="413.50" stroke="#b0153e" stroke-width="1.0" />
<line x1="403.20" y1="418.90" x2="405.40" y2="418.90" stroke="#b0153e" stroke-width="1.0" />
<line x1="433.60" y1="407.40" x2="433.60" y2="413.90" stroke="#b0153e" stroke-width="1.0" />
<line x1="432.50" y1="407.40" x2="434.70" y2="407.40" stroke="#b0153e" stroke-width="1.0" />
<line x1="432.50" y1="413.90" x2="434.70" y2="413.90" stroke="#b0153e" stroke-width="1.0" />
<text x="406.15" y="480.90" font-size="8.2" fill="#231f20" text-anchor="middle" textLength="30.00" lengthAdjust="spacingAndGlyphs" >Time (sec)</text>
<text x="361.60" y="430.40" font-size="8.2" fill="#231f20" text-anchor="middle" textLength="64.30" lengthAdjust="spacingAndGlyphs" transform="rotate(-90 361.60 430.40)" >Number of deuterons</text>
<line x1="444.70" y1="403.80" x2="444.70" y2="457.70" stroke="#2a2a2a" stroke-width="1.3" stroke-dasharray="3.1 2.3" stroke-dashoffset="1.7"/>
<line x1="442.20" y1="457.70" x2="512.80" y2="457.70" stroke="#231f20" stroke-width="1.45" />
<line x1="449.10" y1="457.70" x2="449.10" y2="460.00" stroke="#231f20" stroke-width="0.9" />
<line x1="465.51" y1="457.70" x2="465.51" y2="459.10" stroke="#231f20" stroke-width="0.9" />
<line x1="475.10" y1="457.70" x2="475.10" y2="460.00" stroke="#231f20" stroke-width="0.9" />
<line x1="481.91" y1="457.70" x2="481.91" y2="459.10" stroke="#231f20" stroke-width="0.9" />
<line x1="487.19" y1="457.70" x2="487.19" y2="459.10" stroke="#231f20" stroke-width="0.9" />
<line x1="491.51" y1="457.70" x2="491.51" y2="459.10" stroke="#231f20" stroke-width="0.9" />
<line x1="495.16" y1="457.70" x2="495.16" y2="459.10" stroke="#231f20" stroke-width="0.9" />
<line x1="498.32" y1="457.70" x2="498.32" y2="459.10" stroke="#231f20" stroke-width="0.9" />
<line x1="501.11" y1="457.70" x2="501.11" y2="459.10" stroke="#231f20" stroke-width="0.9" />
<line x1="503.60" y1="457.70" x2="503.60" y2="460.00" stroke="#231f20" stroke-width="0.9" />
<text x="449.10" y="469.30" font-size="6.4" fill="#231f20" text-anchor="middle" class="tk">10</text>
<text x="475.10" y="469.30" font-size="6.4" fill="#231f20" text-anchor="middle" class="tk">30</text>
<text x="503.60" y="469.30" font-size="6.4" fill="#231f20" text-anchor="middle" class="tk">100</text>
<polyline points="449.00,426.20 475.10,425.30 503.60,417.50" fill="none" stroke="#4d9fde" stroke-width="1.15" stroke-linejoin="round"/>
<line x1="449.00" y1="422.00" x2="449.00" y2="429.00" stroke="#4d9fde" stroke-width="0.8" />
<line x1="447.90" y1="422.00" x2="450.10" y2="422.00" stroke="#4d9fde" stroke-width="0.8" />
<line x1="447.90" y1="429.00" x2="450.10" y2="429.00" stroke="#4d9fde" stroke-width="0.8" />
<line x1="475.10" y1="422.00" x2="475.10" y2="428.00" stroke="#4d9fde" stroke-width="0.8" />
<line x1="474.00" y1="422.00" x2="476.20" y2="422.00" stroke="#4d9fde" stroke-width="0.8" />
<line x1="474.00" y1="428.00" x2="476.20" y2="428.00" stroke="#4d9fde" stroke-width="0.8" />
<line x1="503.60" y1="415.00" x2="503.60" y2="419.00" stroke="#4d9fde" stroke-width="0.8" />
<line x1="502.50" y1="415.00" x2="504.70" y2="415.00" stroke="#4d9fde" stroke-width="0.8" />
<line x1="502.50" y1="419.00" x2="504.70" y2="419.00" stroke="#4d9fde" stroke-width="0.8" />
<polyline points="449.00,425.50 475.10,424.60 503.60,416.70" fill="none" stroke="#1d4a86" stroke-width="1.65" stroke-linejoin="round"/>
<line x1="449.00" y1="420.70" x2="449.00" y2="429.40" stroke="#1d4a86" stroke-width="1.0" />
<line x1="447.90" y1="420.70" x2="450.10" y2="420.70" stroke="#1d4a86" stroke-width="1.0" />
<line x1="447.90" y1="429.40" x2="450.10" y2="429.40" stroke="#1d4a86" stroke-width="1.0" />
<line x1="475.10" y1="421.10" x2="475.10" y2="428.00" stroke="#1d4a86" stroke-width="1.0" />
<line x1="474.00" y1="421.10" x2="476.20" y2="421.10" stroke="#1d4a86" stroke-width="1.0" />
<line x1="474.00" y1="428.00" x2="476.20" y2="428.00" stroke="#1d4a86" stroke-width="1.0" />
<line x1="503.60" y1="414.10" x2="503.60" y2="419.20" stroke="#1d4a86" stroke-width="1.0" />
<line x1="502.50" y1="414.10" x2="504.70" y2="414.10" stroke="#1d4a86" stroke-width="1.0" />
<line x1="502.50" y1="419.20" x2="504.70" y2="419.20" stroke="#1d4a86" stroke-width="1.0" />
<text x="476.85" y="480.90" font-size="8.2" fill="#231f20" text-anchor="middle" textLength="30.00" lengthAdjust="spacingAndGlyphs" >Time (sec)</text>
<rect x="0.5" y="0.5" width="519" height="489" fill="none" stroke="#111" stroke-width="1"/>
</svg>
</body></html>
